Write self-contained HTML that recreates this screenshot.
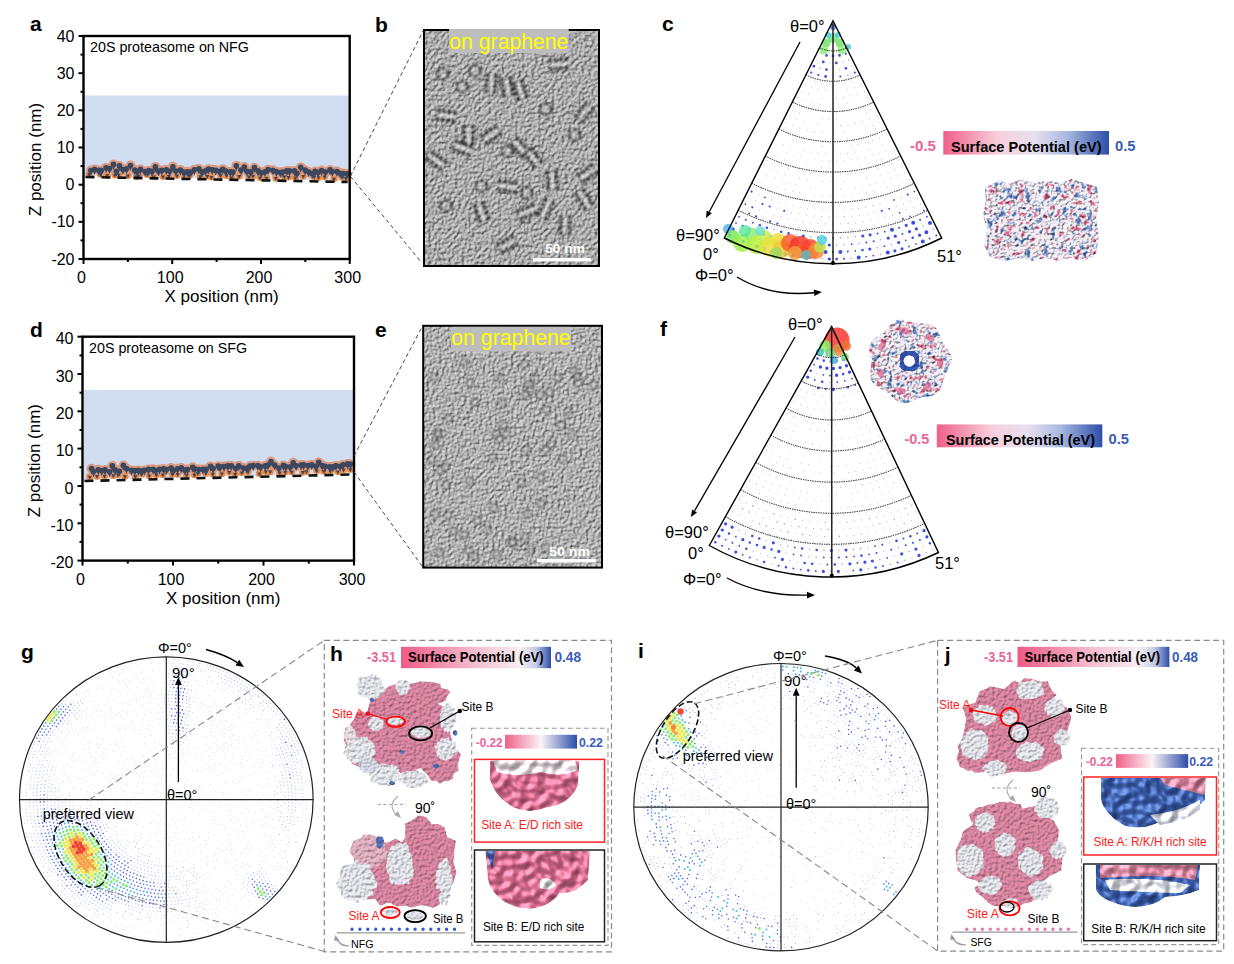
<!DOCTYPE html><html><head><meta charset="utf-8"><style>
html,body{margin:0;padding:0;background:#fff;}
svg{display:block;}
text{font-family:"Liberation Sans",sans-serif;}
</style></head><body>
<svg width="1234" height="964" viewBox="0 0 1234 964">
<defs><filter id="pblur" x="-10%" y="-10%" width="120%" height="120%"><feGaussianBlur stdDeviation="0.9"/></filter><filter id="nb" x="0" y="0" width="100%" height="100%" filterUnits="objectBoundingBox" color-interpolation-filters="sRGB">
<feTurbulence type="fractalNoise" baseFrequency="0.3" numOctaves="2" seed="5" result="n"/>
<feDiffuseLighting in="n" surfaceScale="1.7" diffuseConstant="1" lighting-color="#ffffff" result="l"><feDistantLight azimuth="225" elevation="55"/></feDiffuseLighting>
<feComponentTransfer in="l"><feFuncR type="linear" slope="0.84" intercept="0.0"/><feFuncG type="linear" slope="0.84" intercept="0.0"/><feFuncB type="linear" slope="0.84" intercept="0.0"/></feComponentTransfer>
</filter><filter id="ne" x="0" y="0" width="100%" height="100%" filterUnits="objectBoundingBox" color-interpolation-filters="sRGB">
<feTurbulence type="fractalNoise" baseFrequency="0.32" numOctaves="2" seed="9" result="n"/>
<feDiffuseLighting in="n" surfaceScale="1.6" diffuseConstant="1" lighting-color="#ffffff" result="l"><feDistantLight azimuth="225" elevation="55"/></feDiffuseLighting>
<feComponentTransfer in="l"><feFuncR type="linear" slope="0.86" intercept="0.0"/><feFuncG type="linear" slope="0.86" intercept="0.0"/><feFuncB type="linear" slope="0.86" intercept="0.0"/></feComponentTransfer>
</filter><linearGradient id="cbg1" x1="0" x2="1" y1="0" y2="0"><stop offset="0" stop-color="#ef5f8a"/><stop offset="0.33" stop-color="#f8cfdc"/><stop offset="0.55" stop-color="#e8e0ee"/><stop offset="0.75" stop-color="#a8b8e0"/><stop offset="1" stop-color="#2d4ea8"/></linearGradient><linearGradient id="cbg2" x1="0" x2="1" y1="0" y2="0"><stop offset="0" stop-color="#ef5f8a"/><stop offset="0.33" stop-color="#f8cfdc"/><stop offset="0.55" stop-color="#e8e0ee"/><stop offset="0.75" stop-color="#a8b8e0"/><stop offset="1" stop-color="#2d4ea8"/></linearGradient><filter id="tex" x="-5%" y="-5%" width="110%" height="110%" color-interpolation-filters="sRGB">
<feTurbulence type="fractalNoise" baseFrequency="0.4" numOctaves="2" seed="4" result="n"/>
<feColorMatrix in="n" type="matrix" values="0.75 0 0 0 0.56  0.75 0 0 0 0.56  0.75 0 0 0 0.56  0 0 0 0 1" result="g"/>
<feBlend in="SourceGraphic" in2="g" mode="multiply" result="m"/>
<feComposite in="m" in2="SourceGraphic" operator="in"/>
</filter><filter id="texsoft" x="-5%" y="-5%" width="110%" height="110%" color-interpolation-filters="sRGB">
<feTurbulence type="fractalNoise" baseFrequency="0.09" numOctaves="3" seed="8" result="n"/>
<feColorMatrix in="n" type="matrix" values="0.6 0 0 0 0.68  0.6 0 0 0 0.68  0.6 0 0 0 0.68  0 0 0 0 1" result="g"/>
<feBlend in="SourceGraphic" in2="g" mode="multiply" result="m"/>
<feComposite in="m" in2="SourceGraphic" operator="in"/>
</filter><filter id="speck" x="-5%" y="-5%" width="110%" height="110%" color-interpolation-filters="sRGB">
<feTurbulence type="fractalNoise" baseFrequency="0.16" numOctaves="2" seed="2" result="n"/>
<feColorMatrix in="n" type="matrix" values="1 0 0 0 0  1 0 0 0 0  1 0 0 0 0  0 0 0 0 1" result="g"/>
<feComponentTransfer in="g" result="c">
<feFuncR type="table" tableValues="0.3 0.3 0.32 0.45 0.88 0.98 0.97 0.9 0.78 0.6 0.5"/>
<feFuncG type="table" tableValues="0.35 0.35 0.42 0.58 0.9 0.97 0.9 0.55 0.32 0.25 0.2"/>
<feFuncB type="table" tableValues="0.6 0.6 0.68 0.82 0.96 0.99 0.94 0.66 0.48 0.38 0.3"/>
</feComponentTransfer>
<feTurbulence type="fractalNoise" baseFrequency="0.35" numOctaves="2" seed="9" result="n2"/>
<feDiffuseLighting in="n2" surfaceScale="2" diffuseConstant="1.25" lighting-color="#fff" result="sh"><feDistantLight azimuth="235" elevation="55"/></feDiffuseLighting>
<feBlend in="c" in2="sh" mode="multiply" result="m"/>
<feComposite in="m" in2="SourceGraphic" operator="in"/>
</filter><filter id="gloss" x="-5%" y="-5%" width="110%" height="110%" color-interpolation-filters="sRGB">
<feTurbulence type="fractalNoise" baseFrequency="0.12" numOctaves="1" seed="3" result="n"/>
<feDiffuseLighting in="n" surfaceScale="2.6" diffuseConstant="1.15" lighting-color="#fff" result="d"><feDistantLight azimuth="235" elevation="55"/></feDiffuseLighting>
<feSpecularLighting in="n" surfaceScale="2.6" specularConstant="0.3" specularExponent="30" lighting-color="#fff" result="sp"><feDistantLight azimuth="235" elevation="55"/></feSpecularLighting>
<feBlend in="SourceGraphic" in2="d" mode="multiply" result="m"/>
<feComposite in="sp" in2="m" operator="arithmetic" k1="0" k2="1" k3="1" k4="0" result="s"/>
<feComposite in="s" in2="SourceGraphic" operator="in"/>
</filter><filter id="bump" x="-5%" y="-5%" width="110%" height="110%" color-interpolation-filters="sRGB">
<feTurbulence type="fractalNoise" baseFrequency="0.33" numOctaves="2" seed="6" result="n"/>
<feDiffuseLighting in="n" surfaceScale="1.0" diffuseConstant="1.15" lighting-color="#fff" result="d"><feDistantLight azimuth="235" elevation="55"/></feDiffuseLighting>
<feBlend in="SourceGraphic" in2="d" mode="multiply" result="m"/>
<feComposite in="m" in2="SourceGraphic" operator="in"/>
</filter><linearGradient id="cbg3" x1="0" x2="1" y1="0" y2="0"><stop offset="0" stop-color="#ee5a86"/><stop offset="0.5" stop-color="#f5bfd0"/><stop offset="0.8" stop-color="#f6f0f4"/><stop offset="0.9" stop-color="#c4cce6"/><stop offset="1" stop-color="#2c4ea8"/></linearGradient><linearGradient id="cbg4" x1="0" x2="1" y1="0" y2="0"><stop offset="0" stop-color="#ef5f88"/><stop offset="0.5" stop-color="#fbf4f7"/><stop offset="1" stop-color="#2c4ea8"/></linearGradient><linearGradient id="cbg5" x1="0" x2="1" y1="0" y2="0"><stop offset="0" stop-color="#ee5a86"/><stop offset="0.5" stop-color="#f5bfd0"/><stop offset="0.8" stop-color="#f6f0f4"/><stop offset="0.9" stop-color="#c4cce6"/><stop offset="1" stop-color="#2c4ea8"/></linearGradient><linearGradient id="cbg6" x1="0" x2="1" y1="0" y2="0"><stop offset="0" stop-color="#ef5f88"/><stop offset="0.5" stop-color="#fbf4f7"/><stop offset="1" stop-color="#2c4ea8"/></linearGradient></defs>
<path d="M84.5,95.5 H348.7 V181 L84.5,176 Z" fill="#d1ddf0"/><circle cx="89.2" cy="174.0" r="3.6" fill="#f08a40"/><circle cx="100.5" cy="174.2" r="3.6" fill="#f08a40"/><circle cx="107.2" cy="175.3" r="3.6" fill="#f08a40"/><circle cx="114.9" cy="174.8" r="3.6" fill="#f08a40"/><circle cx="118.7" cy="174.6" r="3.6" fill="#f08a40"/><circle cx="128.0" cy="175.5" r="3.6" fill="#f08a40"/><circle cx="136.5" cy="176.3" r="3.6" fill="#f08a40"/><circle cx="139.0" cy="175.5" r="3.6" fill="#f08a40"/><circle cx="147.3" cy="174.3" r="3.6" fill="#f08a40"/><circle cx="153.7" cy="176.5" r="3.6" fill="#f08a40"/><circle cx="163.0" cy="176.5" r="3.6" fill="#f08a40"/><circle cx="168.9" cy="176.0" r="3.6" fill="#f08a40"/><circle cx="177.0" cy="175.5" r="3.6" fill="#f08a40"/><circle cx="184.1" cy="175.2" r="3.6" fill="#f08a40"/><circle cx="189.2" cy="175.4" r="3.6" fill="#f08a40"/><circle cx="200.3" cy="176.2" r="3.6" fill="#f08a40"/><circle cx="207.3" cy="176.0" r="3.6" fill="#f08a40"/><circle cx="211.4" cy="176.9" r="3.6" fill="#f08a40"/><circle cx="220.6" cy="175.1" r="3.6" fill="#f08a40"/><circle cx="226.5" cy="175.3" r="3.6" fill="#f08a40"/><circle cx="231.5" cy="177.4" r="3.6" fill="#f08a40"/><circle cx="239.2" cy="175.9" r="3.6" fill="#f08a40"/><circle cx="249.0" cy="176.4" r="3.6" fill="#f08a40"/><circle cx="252.9" cy="175.8" r="3.6" fill="#f08a40"/><circle cx="260.1" cy="177.4" r="3.6" fill="#f08a40"/><circle cx="266.5" cy="177.9" r="3.6" fill="#f08a40"/><circle cx="275.9" cy="178.1" r="3.6" fill="#f08a40"/><circle cx="284.3" cy="176.5" r="3.6" fill="#f08a40"/><circle cx="288.5" cy="177.0" r="3.6" fill="#f08a40"/><circle cx="295.4" cy="177.5" r="3.6" fill="#f08a40"/><circle cx="303.3" cy="176.0" r="3.6" fill="#f08a40"/><circle cx="314.1" cy="176.8" r="3.6" fill="#f08a40"/><circle cx="318.5" cy="177.3" r="3.6" fill="#f08a40"/><circle cx="324.6" cy="176.4" r="3.6" fill="#f08a40"/><circle cx="334.0" cy="178.7" r="3.6" fill="#f08a40"/><circle cx="342.1" cy="176.7" r="3.6" fill="#f08a40"/><circle cx="345.9" cy="178.0" r="3.6" fill="#f08a40"/><circle cx="90.8" cy="170.5" r="4.9" fill="#dc9a7e"/><circle cx="94.6" cy="169.4" r="4.9" fill="#dc9a7e"/><circle cx="98.9" cy="170.4" r="4.9" fill="#dc9a7e"/><circle cx="101.3" cy="170.6" r="4.9" fill="#dc9a7e"/><circle cx="106.1" cy="167.8" r="4.9" fill="#dc9a7e"/><circle cx="109.6" cy="168.6" r="4.9" fill="#dc9a7e"/><circle cx="113.5" cy="164.4" r="4.9" fill="#dc9a7e"/><circle cx="116.4" cy="171.2" r="4.9" fill="#dc9a7e"/><circle cx="119.4" cy="165.9" r="4.9" fill="#dc9a7e"/><circle cx="122.9" cy="169.5" r="4.9" fill="#dc9a7e"/><circle cx="126.5" cy="168.8" r="4.9" fill="#dc9a7e"/><circle cx="130.5" cy="165.5" r="4.9" fill="#dc9a7e"/><circle cx="134.7" cy="170.0" r="4.9" fill="#dc9a7e"/><circle cx="137.1" cy="171.6" r="4.9" fill="#dc9a7e"/><circle cx="140.5" cy="169.3" r="4.9" fill="#dc9a7e"/><circle cx="145.1" cy="171.5" r="4.9" fill="#dc9a7e"/><circle cx="148.9" cy="170.6" r="4.9" fill="#dc9a7e"/><circle cx="152.0" cy="171.4" r="4.9" fill="#dc9a7e"/><circle cx="155.4" cy="166.9" r="4.9" fill="#dc9a7e"/><circle cx="158.5" cy="171.1" r="4.9" fill="#dc9a7e"/><circle cx="161.9" cy="170.3" r="4.9" fill="#dc9a7e"/><circle cx="166.3" cy="169.7" r="4.9" fill="#dc9a7e"/><circle cx="169.6" cy="171.2" r="4.9" fill="#dc9a7e"/><circle cx="172.9" cy="166.7" r="4.9" fill="#dc9a7e"/><circle cx="175.9" cy="171.0" r="4.9" fill="#dc9a7e"/><circle cx="180.4" cy="170.0" r="4.9" fill="#dc9a7e"/><circle cx="183.8" cy="172.1" r="4.9" fill="#dc9a7e"/><circle cx="187.4" cy="171.7" r="4.9" fill="#dc9a7e"/><circle cx="190.9" cy="172.0" r="4.9" fill="#dc9a7e"/><circle cx="194.3" cy="169.7" r="4.9" fill="#dc9a7e"/><circle cx="198.8" cy="168.8" r="4.9" fill="#dc9a7e"/><circle cx="202.1" cy="171.9" r="4.9" fill="#dc9a7e"/><circle cx="205.6" cy="170.7" r="4.9" fill="#dc9a7e"/><circle cx="208.5" cy="169.1" r="4.9" fill="#dc9a7e"/><circle cx="212.3" cy="169.7" r="4.9" fill="#dc9a7e"/><circle cx="215.7" cy="170.2" r="4.9" fill="#dc9a7e"/><circle cx="219.3" cy="171.2" r="4.9" fill="#dc9a7e"/><circle cx="222.7" cy="169.2" r="4.9" fill="#dc9a7e"/><circle cx="225.8" cy="171.1" r="4.9" fill="#dc9a7e"/><circle cx="230.4" cy="171.9" r="4.9" fill="#dc9a7e"/><circle cx="233.0" cy="172.1" r="4.9" fill="#dc9a7e"/><circle cx="236.3" cy="165.8" r="4.9" fill="#dc9a7e"/><circle cx="241.0" cy="170.1" r="4.9" fill="#dc9a7e"/><circle cx="244.3" cy="167.0" r="4.9" fill="#dc9a7e"/><circle cx="247.1" cy="171.2" r="4.9" fill="#dc9a7e"/><circle cx="250.8" cy="171.9" r="4.9" fill="#dc9a7e"/><circle cx="254.4" cy="167.6" r="4.9" fill="#dc9a7e"/><circle cx="258.1" cy="170.9" r="4.9" fill="#dc9a7e"/><circle cx="261.2" cy="172.7" r="4.9" fill="#dc9a7e"/><circle cx="264.9" cy="171.7" r="4.9" fill="#dc9a7e"/><circle cx="268.1" cy="169.6" r="4.9" fill="#dc9a7e"/><circle cx="272.9" cy="170.2" r="4.9" fill="#dc9a7e"/><circle cx="276.4" cy="171.6" r="4.9" fill="#dc9a7e"/><circle cx="280.4" cy="172.5" r="4.9" fill="#dc9a7e"/><circle cx="282.7" cy="172.0" r="4.9" fill="#dc9a7e"/><circle cx="286.8" cy="170.9" r="4.9" fill="#dc9a7e"/><circle cx="289.5" cy="170.9" r="4.9" fill="#dc9a7e"/><circle cx="294.5" cy="170.9" r="4.9" fill="#dc9a7e"/><circle cx="297.0" cy="173.2" r="4.9" fill="#dc9a7e"/><circle cx="300.7" cy="167.3" r="4.9" fill="#dc9a7e"/><circle cx="305.1" cy="170.1" r="4.9" fill="#dc9a7e"/><circle cx="308.8" cy="172.0" r="4.9" fill="#dc9a7e"/><circle cx="312.2" cy="173.5" r="4.9" fill="#dc9a7e"/><circle cx="315.1" cy="171.4" r="4.9" fill="#dc9a7e"/><circle cx="318.1" cy="172.5" r="4.9" fill="#dc9a7e"/><circle cx="321.6" cy="170.5" r="4.9" fill="#dc9a7e"/><circle cx="325.4" cy="172.0" r="4.9" fill="#dc9a7e"/><circle cx="330.0" cy="169.9" r="4.9" fill="#dc9a7e"/><circle cx="332.3" cy="171.5" r="4.9" fill="#dc9a7e"/><circle cx="336.9" cy="171.5" r="4.9" fill="#dc9a7e"/><circle cx="340.2" cy="173.3" r="4.9" fill="#dc9a7e"/><circle cx="343.2" cy="173.5" r="4.9" fill="#dc9a7e"/><circle cx="347.0" cy="173.9" r="4.9" fill="#dc9a7e"/><path d="M87.2,173.0 L89.2,177.0 L91.2,173.0Z" fill="#3b475f"/><path d="M98.5,173.2 L100.5,177.2 L102.5,173.2Z" fill="#3b475f"/><path d="M105.2,174.3 L107.2,178.3 L109.2,174.3Z" fill="#3b475f"/><path d="M112.9,173.8 L114.9,177.8 L116.9,173.8Z" fill="#3b475f"/><path d="M116.7,173.6 L118.7,177.6 L120.7,173.6Z" fill="#3b475f"/><path d="M126.0,174.5 L128.0,178.5 L130.0,174.5Z" fill="#3b475f"/><path d="M134.5,175.3 L136.5,179.3 L138.5,175.3Z" fill="#3b475f"/><path d="M137.0,174.5 L139.0,178.5 L141.0,174.5Z" fill="#3b475f"/><path d="M145.3,173.3 L147.3,177.3 L149.3,173.3Z" fill="#3b475f"/><path d="M151.7,175.5 L153.7,179.5 L155.7,175.5Z" fill="#3b475f"/><path d="M161.0,175.5 L163.0,179.5 L165.0,175.5Z" fill="#3b475f"/><path d="M166.9,175.0 L168.9,179.0 L170.9,175.0Z" fill="#3b475f"/><path d="M175.0,174.5 L177.0,178.5 L179.0,174.5Z" fill="#3b475f"/><path d="M182.1,174.2 L184.1,178.2 L186.1,174.2Z" fill="#3b475f"/><path d="M187.2,174.4 L189.2,178.4 L191.2,174.4Z" fill="#3b475f"/><path d="M198.3,175.2 L200.3,179.2 L202.3,175.2Z" fill="#3b475f"/><path d="M205.3,175.0 L207.3,179.0 L209.3,175.0Z" fill="#3b475f"/><path d="M209.4,175.9 L211.4,179.9 L213.4,175.9Z" fill="#3b475f"/><path d="M218.6,174.1 L220.6,178.1 L222.6,174.1Z" fill="#3b475f"/><path d="M224.5,174.3 L226.5,178.3 L228.5,174.3Z" fill="#3b475f"/><path d="M229.5,176.4 L231.5,180.4 L233.5,176.4Z" fill="#3b475f"/><path d="M237.2,174.9 L239.2,178.9 L241.2,174.9Z" fill="#3b475f"/><path d="M247.0,175.4 L249.0,179.4 L251.0,175.4Z" fill="#3b475f"/><path d="M250.9,174.8 L252.9,178.8 L254.9,174.8Z" fill="#3b475f"/><path d="M258.1,176.4 L260.1,180.4 L262.1,176.4Z" fill="#3b475f"/><path d="M264.5,176.9 L266.5,180.9 L268.5,176.9Z" fill="#3b475f"/><path d="M273.9,177.1 L275.9,181.1 L277.9,177.1Z" fill="#3b475f"/><path d="M282.3,175.5 L284.3,179.5 L286.3,175.5Z" fill="#3b475f"/><path d="M286.5,176.0 L288.5,180.0 L290.5,176.0Z" fill="#3b475f"/><path d="M293.4,176.5 L295.4,180.5 L297.4,176.5Z" fill="#3b475f"/><path d="M301.3,175.0 L303.3,179.0 L305.3,175.0Z" fill="#3b475f"/><path d="M312.1,175.8 L314.1,179.8 L316.1,175.8Z" fill="#3b475f"/><path d="M316.5,176.3 L318.5,180.3 L320.5,176.3Z" fill="#3b475f"/><path d="M322.6,175.4 L324.6,179.4 L326.6,175.4Z" fill="#3b475f"/><path d="M332.0,177.7 L334.0,181.7 L336.0,177.7Z" fill="#3b475f"/><path d="M340.1,175.7 L342.1,179.7 L344.1,175.7Z" fill="#3b475f"/><path d="M343.9,177.0 L345.9,181.0 L347.9,177.0Z" fill="#3b475f"/><circle cx="90.8" cy="170.5" r="2.8" fill="#3b475f"/><path d="M89.3,172.3 L90.8,176.0 L92.3,172.3Z" fill="#3b475f"/><circle cx="94.6" cy="169.4" r="2.8" fill="#3b475f"/><path d="M93.1,171.2 L94.6,174.9 L96.1,171.2Z" fill="#3b475f"/><circle cx="98.9" cy="170.4" r="2.8" fill="#3b475f"/><path d="M97.4,172.2 L98.9,175.9 L100.4,172.2Z" fill="#3b475f"/><circle cx="101.3" cy="170.6" r="2.8" fill="#3b475f"/><path d="M99.8,172.4 L101.3,176.1 L102.8,172.4Z" fill="#3b475f"/><circle cx="106.1" cy="167.8" r="2.8" fill="#3b475f"/><path d="M104.6,169.6 L106.1,173.3 L107.6,169.6Z" fill="#3b475f"/><circle cx="109.6" cy="168.6" r="2.8" fill="#3b475f"/><path d="M108.1,170.4 L109.6,174.1 L111.1,170.4Z" fill="#3b475f"/><circle cx="113.5" cy="164.4" r="2.8" fill="#3b475f"/><path d="M112.0,166.2 L113.5,169.9 L115.0,166.2Z" fill="#3b475f"/><circle cx="116.4" cy="171.2" r="2.8" fill="#3b475f"/><path d="M114.9,173.0 L116.4,176.7 L117.9,173.0Z" fill="#3b475f"/><circle cx="119.4" cy="165.9" r="2.8" fill="#3b475f"/><path d="M117.9,167.7 L119.4,171.4 L120.9,167.7Z" fill="#3b475f"/><circle cx="122.9" cy="169.5" r="2.8" fill="#3b475f"/><path d="M121.4,171.3 L122.9,175.0 L124.4,171.3Z" fill="#3b475f"/><circle cx="126.5" cy="168.8" r="2.8" fill="#3b475f"/><path d="M125.0,170.6 L126.5,174.3 L128.0,170.6Z" fill="#3b475f"/><circle cx="130.5" cy="165.5" r="2.8" fill="#3b475f"/><path d="M129.0,167.3 L130.5,171.0 L132.0,167.3Z" fill="#3b475f"/><circle cx="134.7" cy="170.0" r="2.8" fill="#3b475f"/><path d="M133.2,171.8 L134.7,175.5 L136.2,171.8Z" fill="#3b475f"/><circle cx="137.1" cy="171.6" r="2.8" fill="#3b475f"/><path d="M135.6,173.4 L137.1,177.1 L138.6,173.4Z" fill="#3b475f"/><circle cx="140.5" cy="169.3" r="2.8" fill="#3b475f"/><path d="M139.0,171.1 L140.5,174.8 L142.0,171.1Z" fill="#3b475f"/><circle cx="145.1" cy="171.5" r="2.8" fill="#3b475f"/><path d="M143.6,173.3 L145.1,177.0 L146.6,173.3Z" fill="#3b475f"/><circle cx="148.9" cy="170.6" r="2.8" fill="#3b475f"/><path d="M147.4,172.4 L148.9,176.1 L150.4,172.4Z" fill="#3b475f"/><circle cx="152.0" cy="171.4" r="2.8" fill="#3b475f"/><path d="M150.5,173.2 L152.0,176.9 L153.5,173.2Z" fill="#3b475f"/><circle cx="155.4" cy="166.9" r="2.8" fill="#3b475f"/><path d="M153.9,168.7 L155.4,172.4 L156.9,168.7Z" fill="#3b475f"/><circle cx="158.5" cy="171.1" r="2.8" fill="#3b475f"/><path d="M157.0,172.9 L158.5,176.6 L160.0,172.9Z" fill="#3b475f"/><circle cx="161.9" cy="170.3" r="2.8" fill="#3b475f"/><path d="M160.4,172.1 L161.9,175.8 L163.4,172.1Z" fill="#3b475f"/><circle cx="166.3" cy="169.7" r="2.8" fill="#3b475f"/><path d="M164.8,171.5 L166.3,175.2 L167.8,171.5Z" fill="#3b475f"/><circle cx="169.6" cy="171.2" r="2.8" fill="#3b475f"/><path d="M168.1,173.0 L169.6,176.7 L171.1,173.0Z" fill="#3b475f"/><circle cx="172.9" cy="166.7" r="2.8" fill="#3b475f"/><path d="M171.4,168.5 L172.9,172.2 L174.4,168.5Z" fill="#3b475f"/><circle cx="175.9" cy="171.0" r="2.8" fill="#3b475f"/><path d="M174.4,172.8 L175.9,176.5 L177.4,172.8Z" fill="#3b475f"/><circle cx="180.4" cy="170.0" r="2.8" fill="#3b475f"/><path d="M178.9,171.8 L180.4,175.5 L181.9,171.8Z" fill="#3b475f"/><circle cx="183.8" cy="172.1" r="2.8" fill="#3b475f"/><path d="M182.3,173.9 L183.8,177.6 L185.3,173.9Z" fill="#3b475f"/><circle cx="187.4" cy="171.7" r="2.8" fill="#3b475f"/><path d="M185.9,173.5 L187.4,177.2 L188.9,173.5Z" fill="#3b475f"/><circle cx="190.9" cy="172.0" r="2.8" fill="#3b475f"/><path d="M189.4,173.8 L190.9,177.5 L192.4,173.8Z" fill="#3b475f"/><circle cx="194.3" cy="169.7" r="2.8" fill="#3b475f"/><path d="M192.8,171.5 L194.3,175.2 L195.8,171.5Z" fill="#3b475f"/><circle cx="198.8" cy="168.8" r="2.8" fill="#3b475f"/><path d="M197.3,170.6 L198.8,174.3 L200.3,170.6Z" fill="#3b475f"/><circle cx="202.1" cy="171.9" r="2.8" fill="#3b475f"/><path d="M200.6,173.7 L202.1,177.4 L203.6,173.7Z" fill="#3b475f"/><circle cx="205.6" cy="170.7" r="2.8" fill="#3b475f"/><path d="M204.1,172.5 L205.6,176.2 L207.1,172.5Z" fill="#3b475f"/><circle cx="208.5" cy="169.1" r="2.8" fill="#3b475f"/><path d="M207.0,170.9 L208.5,174.6 L210.0,170.9Z" fill="#3b475f"/><circle cx="212.3" cy="169.7" r="2.8" fill="#3b475f"/><path d="M210.8,171.5 L212.3,175.2 L213.8,171.5Z" fill="#3b475f"/><circle cx="215.7" cy="170.2" r="2.8" fill="#3b475f"/><path d="M214.2,172.0 L215.7,175.7 L217.2,172.0Z" fill="#3b475f"/><circle cx="219.3" cy="171.2" r="2.8" fill="#3b475f"/><path d="M217.8,173.0 L219.3,176.7 L220.8,173.0Z" fill="#3b475f"/><circle cx="222.7" cy="169.2" r="2.8" fill="#3b475f"/><path d="M221.2,171.0 L222.7,174.7 L224.2,171.0Z" fill="#3b475f"/><circle cx="225.8" cy="171.1" r="2.8" fill="#3b475f"/><path d="M224.3,172.9 L225.8,176.6 L227.3,172.9Z" fill="#3b475f"/><circle cx="230.4" cy="171.9" r="2.8" fill="#3b475f"/><path d="M228.9,173.7 L230.4,177.4 L231.9,173.7Z" fill="#3b475f"/><circle cx="233.0" cy="172.1" r="2.8" fill="#3b475f"/><path d="M231.5,173.9 L233.0,177.6 L234.5,173.9Z" fill="#3b475f"/><circle cx="236.3" cy="165.8" r="2.8" fill="#3b475f"/><path d="M234.8,167.6 L236.3,171.3 L237.8,167.6Z" fill="#3b475f"/><circle cx="241.0" cy="170.1" r="2.8" fill="#3b475f"/><path d="M239.5,171.9 L241.0,175.6 L242.5,171.9Z" fill="#3b475f"/><circle cx="244.3" cy="167.0" r="2.8" fill="#3b475f"/><path d="M242.8,168.8 L244.3,172.5 L245.8,168.8Z" fill="#3b475f"/><circle cx="247.1" cy="171.2" r="2.8" fill="#3b475f"/><path d="M245.6,173.0 L247.1,176.7 L248.6,173.0Z" fill="#3b475f"/><circle cx="250.8" cy="171.9" r="2.8" fill="#3b475f"/><path d="M249.3,173.7 L250.8,177.4 L252.3,173.7Z" fill="#3b475f"/><circle cx="254.4" cy="167.6" r="2.8" fill="#3b475f"/><path d="M252.9,169.4 L254.4,173.1 L255.9,169.4Z" fill="#3b475f"/><circle cx="258.1" cy="170.9" r="2.8" fill="#3b475f"/><path d="M256.6,172.7 L258.1,176.4 L259.6,172.7Z" fill="#3b475f"/><circle cx="261.2" cy="172.7" r="2.8" fill="#3b475f"/><path d="M259.7,174.5 L261.2,178.2 L262.7,174.5Z" fill="#3b475f"/><circle cx="264.9" cy="171.7" r="2.8" fill="#3b475f"/><path d="M263.4,173.5 L264.9,177.2 L266.4,173.5Z" fill="#3b475f"/><circle cx="268.1" cy="169.6" r="2.8" fill="#3b475f"/><path d="M266.6,171.4 L268.1,175.1 L269.6,171.4Z" fill="#3b475f"/><circle cx="272.9" cy="170.2" r="2.8" fill="#3b475f"/><path d="M271.4,172.0 L272.9,175.7 L274.4,172.0Z" fill="#3b475f"/><circle cx="276.4" cy="171.6" r="2.8" fill="#3b475f"/><path d="M274.9,173.4 L276.4,177.1 L277.9,173.4Z" fill="#3b475f"/><circle cx="280.4" cy="172.5" r="2.8" fill="#3b475f"/><path d="M278.9,174.3 L280.4,178.0 L281.9,174.3Z" fill="#3b475f"/><circle cx="282.7" cy="172.0" r="2.8" fill="#3b475f"/><path d="M281.2,173.8 L282.7,177.5 L284.2,173.8Z" fill="#3b475f"/><circle cx="286.8" cy="170.9" r="2.8" fill="#3b475f"/><path d="M285.3,172.7 L286.8,176.4 L288.3,172.7Z" fill="#3b475f"/><circle cx="289.5" cy="170.9" r="2.8" fill="#3b475f"/><path d="M288.0,172.7 L289.5,176.4 L291.0,172.7Z" fill="#3b475f"/><circle cx="294.5" cy="170.9" r="2.8" fill="#3b475f"/><path d="M293.0,172.7 L294.5,176.4 L296.0,172.7Z" fill="#3b475f"/><circle cx="297.0" cy="173.2" r="2.8" fill="#3b475f"/><path d="M295.5,175.0 L297.0,178.7 L298.5,175.0Z" fill="#3b475f"/><circle cx="300.7" cy="167.3" r="2.8" fill="#3b475f"/><path d="M299.2,169.1 L300.7,172.8 L302.2,169.1Z" fill="#3b475f"/><circle cx="305.1" cy="170.1" r="2.8" fill="#3b475f"/><path d="M303.6,171.9 L305.1,175.6 L306.6,171.9Z" fill="#3b475f"/><circle cx="308.8" cy="172.0" r="2.8" fill="#3b475f"/><path d="M307.3,173.8 L308.8,177.5 L310.3,173.8Z" fill="#3b475f"/><circle cx="312.2" cy="173.5" r="2.8" fill="#3b475f"/><path d="M310.7,175.3 L312.2,179.0 L313.7,175.3Z" fill="#3b475f"/><circle cx="315.1" cy="171.4" r="2.8" fill="#3b475f"/><path d="M313.6,173.2 L315.1,176.9 L316.6,173.2Z" fill="#3b475f"/><circle cx="318.1" cy="172.5" r="2.8" fill="#3b475f"/><path d="M316.6,174.3 L318.1,178.0 L319.6,174.3Z" fill="#3b475f"/><circle cx="321.6" cy="170.5" r="2.8" fill="#3b475f"/><path d="M320.1,172.3 L321.6,176.0 L323.1,172.3Z" fill="#3b475f"/><circle cx="325.4" cy="172.0" r="2.8" fill="#3b475f"/><path d="M323.9,173.8 L325.4,177.5 L326.9,173.8Z" fill="#3b475f"/><circle cx="330.0" cy="169.9" r="2.8" fill="#3b475f"/><path d="M328.5,171.7 L330.0,175.4 L331.5,171.7Z" fill="#3b475f"/><circle cx="332.3" cy="171.5" r="2.8" fill="#3b475f"/><path d="M330.8,173.3 L332.3,177.0 L333.8,173.3Z" fill="#3b475f"/><circle cx="336.9" cy="171.5" r="2.8" fill="#3b475f"/><path d="M335.4,173.3 L336.9,177.0 L338.4,173.3Z" fill="#3b475f"/><circle cx="340.2" cy="173.3" r="2.8" fill="#3b475f"/><path d="M338.7,175.1 L340.2,178.8 L341.7,175.1Z" fill="#3b475f"/><circle cx="343.2" cy="173.5" r="2.8" fill="#3b475f"/><path d="M341.7,175.3 L343.2,179.0 L344.7,175.3Z" fill="#3b475f"/><circle cx="347.0" cy="173.9" r="2.8" fill="#3b475f"/><path d="M345.5,175.7 L347.0,179.4 L348.5,175.7Z" fill="#3b475f"/><line x1="85.5" y1="177" x2="347.7" y2="182" stroke="#111" stroke-width="2.6" stroke-dasharray="9,7"/><rect x="83.5" y="36" width="266.2" height="223" fill="none" stroke="#000" stroke-width="2.4"/><line x1="78.5" y1="259.0" x2="83.5" y2="259.0" stroke="#000" stroke-width="2"/><text x="74.5" y="264.5" font-size="16" text-anchor="end" fill="#000" font-weight="normal" >-20</text><line x1="80.5" y1="240.4" x2="83.5" y2="240.4" stroke="#000" stroke-width="2"/><line x1="78.5" y1="221.8" x2="83.5" y2="221.8" stroke="#000" stroke-width="2"/><text x="74.5" y="227.3" font-size="16" text-anchor="end" fill="#000" font-weight="normal" >-10</text><line x1="80.5" y1="203.2" x2="83.5" y2="203.2" stroke="#000" stroke-width="2"/><line x1="78.5" y1="184.7" x2="83.5" y2="184.7" stroke="#000" stroke-width="2"/><text x="74.5" y="190.2" font-size="16" text-anchor="end" fill="#000" font-weight="normal" >0</text><line x1="80.5" y1="166.1" x2="83.5" y2="166.1" stroke="#000" stroke-width="2"/><line x1="78.5" y1="147.5" x2="83.5" y2="147.5" stroke="#000" stroke-width="2"/><text x="74.5" y="153.0" font-size="16" text-anchor="end" fill="#000" font-weight="normal" >10</text><line x1="80.5" y1="128.9" x2="83.5" y2="128.9" stroke="#000" stroke-width="2"/><line x1="78.5" y1="110.3" x2="83.5" y2="110.3" stroke="#000" stroke-width="2"/><text x="74.5" y="115.8" font-size="16" text-anchor="end" fill="#000" font-weight="normal" >20</text><line x1="80.5" y1="91.8" x2="83.5" y2="91.8" stroke="#000" stroke-width="2"/><line x1="78.5" y1="73.2" x2="83.5" y2="73.2" stroke="#000" stroke-width="2"/><text x="74.5" y="78.7" font-size="16" text-anchor="end" fill="#000" font-weight="normal" >30</text><line x1="80.5" y1="54.6" x2="83.5" y2="54.6" stroke="#000" stroke-width="2"/><line x1="78.5" y1="36.0" x2="83.5" y2="36.0" stroke="#000" stroke-width="2"/><text x="74.5" y="41.5" font-size="16" text-anchor="end" fill="#000" font-weight="normal" >40</text><line x1="83.5" y1="259" x2="83.5" y2="264" stroke="#000" stroke-width="2"/><text x="81.5" y="283.0" font-size="16" text-anchor="middle" fill="#000" font-weight="normal" >0</text><line x1="127.9" y1="259" x2="127.9" y2="262" stroke="#000" stroke-width="2"/><line x1="172.2" y1="259" x2="172.2" y2="264" stroke="#000" stroke-width="2"/><text x="170.2" y="283.0" font-size="16" text-anchor="middle" fill="#000" font-weight="normal" >100</text><line x1="216.6" y1="259" x2="216.6" y2="262" stroke="#000" stroke-width="2"/><line x1="261.0" y1="259" x2="261.0" y2="264" stroke="#000" stroke-width="2"/><text x="259.0" y="283.0" font-size="16" text-anchor="middle" fill="#000" font-weight="normal" >200</text><line x1="305.3" y1="259" x2="305.3" y2="262" stroke="#000" stroke-width="2"/><line x1="349.7" y1="259" x2="349.7" y2="264" stroke="#000" stroke-width="2"/><text x="347.7" y="283.0" font-size="16" text-anchor="middle" fill="#000" font-weight="normal" >300</text><text x="221.6" y="302.0" font-size="17" text-anchor="middle" fill="#000" font-weight="normal" >X position (nm)</text><text x="0" y="0" font-size="17" text-anchor="middle" transform="translate(40.5,159.5) rotate(-90)">Z position (nm)</text><text x="90.0" y="52.0" font-size="14.3" text-anchor="start" fill="#000" font-weight="normal" >20S proteasome on NFG</text><text x="30.0" y="31.0" font-size="21" text-anchor="start" fill="#000" font-weight="bold" >a</text><path d="M83.5,390.1 H353 V473.5 L83.5,480 Z" fill="#d1ddf0"/><circle cx="89.8" cy="476.7" r="3.6" fill="#f08a40"/><circle cx="97.0" cy="476.1" r="3.6" fill="#f08a40"/><circle cx="104.6" cy="475.7" r="3.6" fill="#f08a40"/><circle cx="113.3" cy="475.3" r="3.6" fill="#f08a40"/><circle cx="117.9" cy="474.5" r="3.6" fill="#f08a40"/><circle cx="124.9" cy="476.2" r="3.6" fill="#f08a40"/><circle cx="135.4" cy="476.2" r="3.6" fill="#f08a40"/><circle cx="141.8" cy="473.8" r="3.6" fill="#f08a40"/><circle cx="149.1" cy="475.5" r="3.6" fill="#f08a40"/><circle cx="156.4" cy="474.6" r="3.6" fill="#f08a40"/><circle cx="162.9" cy="474.4" r="3.6" fill="#f08a40"/><circle cx="172.2" cy="473.7" r="3.6" fill="#f08a40"/><circle cx="177.6" cy="474.1" r="3.6" fill="#f08a40"/><circle cx="186.6" cy="474.8" r="3.6" fill="#f08a40"/><circle cx="194.5" cy="474.7" r="3.6" fill="#f08a40"/><circle cx="197.9" cy="473.0" r="3.6" fill="#f08a40"/><circle cx="205.9" cy="472.9" r="3.6" fill="#f08a40"/><circle cx="212.8" cy="473.8" r="3.6" fill="#f08a40"/><circle cx="221.8" cy="473.4" r="3.6" fill="#f08a40"/><circle cx="229.3" cy="472.0" r="3.6" fill="#f08a40"/><circle cx="235.1" cy="474.1" r="3.6" fill="#f08a40"/><circle cx="241.8" cy="472.5" r="3.6" fill="#f08a40"/><circle cx="248.1" cy="471.5" r="3.6" fill="#f08a40"/><circle cx="259.4" cy="473.6" r="3.6" fill="#f08a40"/><circle cx="265.8" cy="471.3" r="3.6" fill="#f08a40"/><circle cx="270.2" cy="471.4" r="3.6" fill="#f08a40"/><circle cx="279.6" cy="472.4" r="3.6" fill="#f08a40"/><circle cx="285.4" cy="471.8" r="3.6" fill="#f08a40"/><circle cx="291.7" cy="471.7" r="3.6" fill="#f08a40"/><circle cx="302.8" cy="472.1" r="3.6" fill="#f08a40"/><circle cx="306.3" cy="471.3" r="3.6" fill="#f08a40"/><circle cx="316.8" cy="470.5" r="3.6" fill="#f08a40"/><circle cx="323.8" cy="470.9" r="3.6" fill="#f08a40"/><circle cx="330.4" cy="470.5" r="3.6" fill="#f08a40"/><circle cx="337.9" cy="471.4" r="3.6" fill="#f08a40"/><circle cx="343.5" cy="469.6" r="3.6" fill="#f08a40"/><circle cx="350.3" cy="469.2" r="3.6" fill="#f08a40"/><circle cx="91.5" cy="468.6" r="4.9" fill="#dc9a7e"/><circle cx="93.5" cy="471.7" r="4.9" fill="#dc9a7e"/><circle cx="98.2" cy="469.7" r="4.9" fill="#dc9a7e"/><circle cx="101.7" cy="470.6" r="4.9" fill="#dc9a7e"/><circle cx="105.0" cy="469.9" r="4.9" fill="#dc9a7e"/><circle cx="109.6" cy="471.7" r="4.9" fill="#dc9a7e"/><circle cx="112.3" cy="465.8" r="4.9" fill="#dc9a7e"/><circle cx="115.1" cy="469.9" r="4.9" fill="#dc9a7e"/><circle cx="119.4" cy="471.3" r="4.9" fill="#dc9a7e"/><circle cx="123.3" cy="465.4" r="4.9" fill="#dc9a7e"/><circle cx="126.5" cy="468.5" r="4.9" fill="#dc9a7e"/><circle cx="131.4" cy="470.3" r="4.9" fill="#dc9a7e"/><circle cx="134.8" cy="470.6" r="4.9" fill="#dc9a7e"/><circle cx="138.4" cy="470.4" r="4.9" fill="#dc9a7e"/><circle cx="141.1" cy="471.1" r="4.9" fill="#dc9a7e"/><circle cx="144.3" cy="470.3" r="4.9" fill="#dc9a7e"/><circle cx="148.5" cy="469.4" r="4.9" fill="#dc9a7e"/><circle cx="153.0" cy="469.2" r="4.9" fill="#dc9a7e"/><circle cx="155.5" cy="470.5" r="4.9" fill="#dc9a7e"/><circle cx="159.4" cy="469.3" r="4.9" fill="#dc9a7e"/><circle cx="163.5" cy="468.9" r="4.9" fill="#dc9a7e"/><circle cx="166.3" cy="469.6" r="4.9" fill="#dc9a7e"/><circle cx="171.0" cy="468.0" r="4.9" fill="#dc9a7e"/><circle cx="173.6" cy="470.3" r="4.9" fill="#dc9a7e"/><circle cx="177.5" cy="468.7" r="4.9" fill="#dc9a7e"/><circle cx="181.3" cy="467.9" r="4.9" fill="#dc9a7e"/><circle cx="184.8" cy="470.0" r="4.9" fill="#dc9a7e"/><circle cx="187.6" cy="469.5" r="4.9" fill="#dc9a7e"/><circle cx="192.7" cy="467.2" r="4.9" fill="#dc9a7e"/><circle cx="194.8" cy="468.8" r="4.9" fill="#dc9a7e"/><circle cx="198.8" cy="469.5" r="4.9" fill="#dc9a7e"/><circle cx="202.9" cy="469.3" r="4.9" fill="#dc9a7e"/><circle cx="206.0" cy="469.4" r="4.9" fill="#dc9a7e"/><circle cx="210.5" cy="466.3" r="4.9" fill="#dc9a7e"/><circle cx="213.1" cy="468.5" r="4.9" fill="#dc9a7e"/><circle cx="218.2" cy="466.1" r="4.9" fill="#dc9a7e"/><circle cx="220.1" cy="466.9" r="4.9" fill="#dc9a7e"/><circle cx="224.0" cy="466.5" r="4.9" fill="#dc9a7e"/><circle cx="228.0" cy="465.9" r="4.9" fill="#dc9a7e"/><circle cx="231.2" cy="465.8" r="4.9" fill="#dc9a7e"/><circle cx="235.7" cy="468.2" r="4.9" fill="#dc9a7e"/><circle cx="238.8" cy="465.7" r="4.9" fill="#dc9a7e"/><circle cx="243.2" cy="468.0" r="4.9" fill="#dc9a7e"/><circle cx="246.8" cy="468.4" r="4.9" fill="#dc9a7e"/><circle cx="249.9" cy="466.1" r="4.9" fill="#dc9a7e"/><circle cx="253.2" cy="465.6" r="4.9" fill="#dc9a7e"/><circle cx="257.8" cy="465.6" r="4.9" fill="#dc9a7e"/><circle cx="260.6" cy="466.9" r="4.9" fill="#dc9a7e"/><circle cx="265.2" cy="465.9" r="4.9" fill="#dc9a7e"/><circle cx="267.9" cy="465.0" r="4.9" fill="#dc9a7e"/><circle cx="271.0" cy="461.5" r="4.9" fill="#dc9a7e"/><circle cx="274.7" cy="465.1" r="4.9" fill="#dc9a7e"/><circle cx="278.9" cy="468.1" r="4.9" fill="#dc9a7e"/><circle cx="283.4" cy="465.4" r="4.9" fill="#dc9a7e"/><circle cx="285.7" cy="466.6" r="4.9" fill="#dc9a7e"/><circle cx="290.3" cy="466.9" r="4.9" fill="#dc9a7e"/><circle cx="293.2" cy="462.7" r="4.9" fill="#dc9a7e"/><circle cx="296.1" cy="465.7" r="4.9" fill="#dc9a7e"/><circle cx="301.0" cy="465.0" r="4.9" fill="#dc9a7e"/><circle cx="303.6" cy="464.9" r="4.9" fill="#dc9a7e"/><circle cx="307.9" cy="465.6" r="4.9" fill="#dc9a7e"/><circle cx="311.7" cy="464.7" r="4.9" fill="#dc9a7e"/><circle cx="315.9" cy="466.4" r="4.9" fill="#dc9a7e"/><circle cx="318.7" cy="462.3" r="4.9" fill="#dc9a7e"/><circle cx="322.2" cy="465.5" r="4.9" fill="#dc9a7e"/><circle cx="325.2" cy="466.4" r="4.9" fill="#dc9a7e"/><circle cx="329.6" cy="466.8" r="4.9" fill="#dc9a7e"/><circle cx="332.8" cy="466.9" r="4.9" fill="#dc9a7e"/><circle cx="335.9" cy="465.8" r="4.9" fill="#dc9a7e"/><circle cx="340.1" cy="466.2" r="4.9" fill="#dc9a7e"/><circle cx="343.2" cy="464.8" r="4.9" fill="#dc9a7e"/><circle cx="347.6" cy="463.9" r="4.9" fill="#dc9a7e"/><circle cx="350.5" cy="464.1" r="4.9" fill="#dc9a7e"/><path d="M87.8,475.7 L89.8,479.7 L91.8,475.7Z" fill="#3b475f"/><path d="M95.0,475.1 L97.0,479.1 L99.0,475.1Z" fill="#3b475f"/><path d="M102.6,474.7 L104.6,478.7 L106.6,474.7Z" fill="#3b475f"/><path d="M111.3,474.3 L113.3,478.3 L115.3,474.3Z" fill="#3b475f"/><path d="M115.9,473.5 L117.9,477.5 L119.9,473.5Z" fill="#3b475f"/><path d="M122.9,475.2 L124.9,479.2 L126.9,475.2Z" fill="#3b475f"/><path d="M133.4,475.2 L135.4,479.2 L137.4,475.2Z" fill="#3b475f"/><path d="M139.8,472.8 L141.8,476.8 L143.8,472.8Z" fill="#3b475f"/><path d="M147.1,474.5 L149.1,478.5 L151.1,474.5Z" fill="#3b475f"/><path d="M154.4,473.6 L156.4,477.6 L158.4,473.6Z" fill="#3b475f"/><path d="M160.9,473.4 L162.9,477.4 L164.9,473.4Z" fill="#3b475f"/><path d="M170.2,472.7 L172.2,476.7 L174.2,472.7Z" fill="#3b475f"/><path d="M175.6,473.1 L177.6,477.1 L179.6,473.1Z" fill="#3b475f"/><path d="M184.6,473.8 L186.6,477.8 L188.6,473.8Z" fill="#3b475f"/><path d="M192.5,473.7 L194.5,477.7 L196.5,473.7Z" fill="#3b475f"/><path d="M195.9,472.0 L197.9,476.0 L199.9,472.0Z" fill="#3b475f"/><path d="M203.9,471.9 L205.9,475.9 L207.9,471.9Z" fill="#3b475f"/><path d="M210.8,472.8 L212.8,476.8 L214.8,472.8Z" fill="#3b475f"/><path d="M219.8,472.4 L221.8,476.4 L223.8,472.4Z" fill="#3b475f"/><path d="M227.3,471.0 L229.3,475.0 L231.3,471.0Z" fill="#3b475f"/><path d="M233.1,473.1 L235.1,477.1 L237.1,473.1Z" fill="#3b475f"/><path d="M239.8,471.5 L241.8,475.5 L243.8,471.5Z" fill="#3b475f"/><path d="M246.1,470.5 L248.1,474.5 L250.1,470.5Z" fill="#3b475f"/><path d="M257.4,472.6 L259.4,476.6 L261.4,472.6Z" fill="#3b475f"/><path d="M263.8,470.3 L265.8,474.3 L267.8,470.3Z" fill="#3b475f"/><path d="M268.2,470.4 L270.2,474.4 L272.2,470.4Z" fill="#3b475f"/><path d="M277.6,471.4 L279.6,475.4 L281.6,471.4Z" fill="#3b475f"/><path d="M283.4,470.8 L285.4,474.8 L287.4,470.8Z" fill="#3b475f"/><path d="M289.7,470.7 L291.7,474.7 L293.7,470.7Z" fill="#3b475f"/><path d="M300.8,471.1 L302.8,475.1 L304.8,471.1Z" fill="#3b475f"/><path d="M304.3,470.3 L306.3,474.3 L308.3,470.3Z" fill="#3b475f"/><path d="M314.8,469.5 L316.8,473.5 L318.8,469.5Z" fill="#3b475f"/><path d="M321.8,469.9 L323.8,473.9 L325.8,469.9Z" fill="#3b475f"/><path d="M328.4,469.5 L330.4,473.5 L332.4,469.5Z" fill="#3b475f"/><path d="M335.9,470.4 L337.9,474.4 L339.9,470.4Z" fill="#3b475f"/><path d="M341.5,468.6 L343.5,472.6 L345.5,468.6Z" fill="#3b475f"/><path d="M348.3,468.2 L350.3,472.2 L352.3,468.2Z" fill="#3b475f"/><circle cx="91.5" cy="468.6" r="2.8" fill="#3b475f"/><path d="M90.0,470.4 L91.5,474.1 L93.0,470.4Z" fill="#3b475f"/><circle cx="93.5" cy="471.7" r="2.8" fill="#3b475f"/><path d="M92.0,473.5 L93.5,477.2 L95.0,473.5Z" fill="#3b475f"/><circle cx="98.2" cy="469.7" r="2.8" fill="#3b475f"/><path d="M96.7,471.5 L98.2,475.2 L99.7,471.5Z" fill="#3b475f"/><circle cx="101.7" cy="470.6" r="2.8" fill="#3b475f"/><path d="M100.2,472.4 L101.7,476.1 L103.2,472.4Z" fill="#3b475f"/><circle cx="105.0" cy="469.9" r="2.8" fill="#3b475f"/><path d="M103.5,471.7 L105.0,475.4 L106.5,471.7Z" fill="#3b475f"/><circle cx="109.6" cy="471.7" r="2.8" fill="#3b475f"/><path d="M108.1,473.5 L109.6,477.2 L111.1,473.5Z" fill="#3b475f"/><circle cx="112.3" cy="465.8" r="2.8" fill="#3b475f"/><path d="M110.8,467.6 L112.3,471.3 L113.8,467.6Z" fill="#3b475f"/><circle cx="115.1" cy="469.9" r="2.8" fill="#3b475f"/><path d="M113.6,471.7 L115.1,475.4 L116.6,471.7Z" fill="#3b475f"/><circle cx="119.4" cy="471.3" r="2.8" fill="#3b475f"/><path d="M117.9,473.1 L119.4,476.8 L120.9,473.1Z" fill="#3b475f"/><circle cx="123.3" cy="465.4" r="2.8" fill="#3b475f"/><path d="M121.8,467.2 L123.3,470.9 L124.8,467.2Z" fill="#3b475f"/><circle cx="126.5" cy="468.5" r="2.8" fill="#3b475f"/><path d="M125.0,470.3 L126.5,474.0 L128.0,470.3Z" fill="#3b475f"/><circle cx="131.4" cy="470.3" r="2.8" fill="#3b475f"/><path d="M129.9,472.1 L131.4,475.8 L132.9,472.1Z" fill="#3b475f"/><circle cx="134.8" cy="470.6" r="2.8" fill="#3b475f"/><path d="M133.3,472.4 L134.8,476.1 L136.3,472.4Z" fill="#3b475f"/><circle cx="138.4" cy="470.4" r="2.8" fill="#3b475f"/><path d="M136.9,472.2 L138.4,475.9 L139.9,472.2Z" fill="#3b475f"/><circle cx="141.1" cy="471.1" r="2.8" fill="#3b475f"/><path d="M139.6,472.9 L141.1,476.6 L142.6,472.9Z" fill="#3b475f"/><circle cx="144.3" cy="470.3" r="2.8" fill="#3b475f"/><path d="M142.8,472.1 L144.3,475.8 L145.8,472.1Z" fill="#3b475f"/><circle cx="148.5" cy="469.4" r="2.8" fill="#3b475f"/><path d="M147.0,471.2 L148.5,474.9 L150.0,471.2Z" fill="#3b475f"/><circle cx="153.0" cy="469.2" r="2.8" fill="#3b475f"/><path d="M151.5,471.0 L153.0,474.7 L154.5,471.0Z" fill="#3b475f"/><circle cx="155.5" cy="470.5" r="2.8" fill="#3b475f"/><path d="M154.0,472.3 L155.5,476.0 L157.0,472.3Z" fill="#3b475f"/><circle cx="159.4" cy="469.3" r="2.8" fill="#3b475f"/><path d="M157.9,471.1 L159.4,474.8 L160.9,471.1Z" fill="#3b475f"/><circle cx="163.5" cy="468.9" r="2.8" fill="#3b475f"/><path d="M162.0,470.7 L163.5,474.4 L165.0,470.7Z" fill="#3b475f"/><circle cx="166.3" cy="469.6" r="2.8" fill="#3b475f"/><path d="M164.8,471.4 L166.3,475.1 L167.8,471.4Z" fill="#3b475f"/><circle cx="171.0" cy="468.0" r="2.8" fill="#3b475f"/><path d="M169.5,469.8 L171.0,473.5 L172.5,469.8Z" fill="#3b475f"/><circle cx="173.6" cy="470.3" r="2.8" fill="#3b475f"/><path d="M172.1,472.1 L173.6,475.8 L175.1,472.1Z" fill="#3b475f"/><circle cx="177.5" cy="468.7" r="2.8" fill="#3b475f"/><path d="M176.0,470.5 L177.5,474.2 L179.0,470.5Z" fill="#3b475f"/><circle cx="181.3" cy="467.9" r="2.8" fill="#3b475f"/><path d="M179.8,469.7 L181.3,473.4 L182.8,469.7Z" fill="#3b475f"/><circle cx="184.8" cy="470.0" r="2.8" fill="#3b475f"/><path d="M183.3,471.8 L184.8,475.5 L186.3,471.8Z" fill="#3b475f"/><circle cx="187.6" cy="469.5" r="2.8" fill="#3b475f"/><path d="M186.1,471.3 L187.6,475.0 L189.1,471.3Z" fill="#3b475f"/><circle cx="192.7" cy="467.2" r="2.8" fill="#3b475f"/><path d="M191.2,469.0 L192.7,472.7 L194.2,469.0Z" fill="#3b475f"/><circle cx="194.8" cy="468.8" r="2.8" fill="#3b475f"/><path d="M193.3,470.6 L194.8,474.3 L196.3,470.6Z" fill="#3b475f"/><circle cx="198.8" cy="469.5" r="2.8" fill="#3b475f"/><path d="M197.3,471.3 L198.8,475.0 L200.3,471.3Z" fill="#3b475f"/><circle cx="202.9" cy="469.3" r="2.8" fill="#3b475f"/><path d="M201.4,471.1 L202.9,474.8 L204.4,471.1Z" fill="#3b475f"/><circle cx="206.0" cy="469.4" r="2.8" fill="#3b475f"/><path d="M204.5,471.2 L206.0,474.9 L207.5,471.2Z" fill="#3b475f"/><circle cx="210.5" cy="466.3" r="2.8" fill="#3b475f"/><path d="M209.0,468.1 L210.5,471.8 L212.0,468.1Z" fill="#3b475f"/><circle cx="213.1" cy="468.5" r="2.8" fill="#3b475f"/><path d="M211.6,470.3 L213.1,474.0 L214.6,470.3Z" fill="#3b475f"/><circle cx="218.2" cy="466.1" r="2.8" fill="#3b475f"/><path d="M216.7,467.9 L218.2,471.6 L219.7,467.9Z" fill="#3b475f"/><circle cx="220.1" cy="466.9" r="2.8" fill="#3b475f"/><path d="M218.6,468.7 L220.1,472.4 L221.6,468.7Z" fill="#3b475f"/><circle cx="224.0" cy="466.5" r="2.8" fill="#3b475f"/><path d="M222.5,468.3 L224.0,472.0 L225.5,468.3Z" fill="#3b475f"/><circle cx="228.0" cy="465.9" r="2.8" fill="#3b475f"/><path d="M226.5,467.7 L228.0,471.4 L229.5,467.7Z" fill="#3b475f"/><circle cx="231.2" cy="465.8" r="2.8" fill="#3b475f"/><path d="M229.7,467.6 L231.2,471.3 L232.7,467.6Z" fill="#3b475f"/><circle cx="235.7" cy="468.2" r="2.8" fill="#3b475f"/><path d="M234.2,470.0 L235.7,473.7 L237.2,470.0Z" fill="#3b475f"/><circle cx="238.8" cy="465.7" r="2.8" fill="#3b475f"/><path d="M237.3,467.5 L238.8,471.2 L240.3,467.5Z" fill="#3b475f"/><circle cx="243.2" cy="468.0" r="2.8" fill="#3b475f"/><path d="M241.7,469.8 L243.2,473.5 L244.7,469.8Z" fill="#3b475f"/><circle cx="246.8" cy="468.4" r="2.8" fill="#3b475f"/><path d="M245.3,470.2 L246.8,473.9 L248.3,470.2Z" fill="#3b475f"/><circle cx="249.9" cy="466.1" r="2.8" fill="#3b475f"/><path d="M248.4,467.9 L249.9,471.6 L251.4,467.9Z" fill="#3b475f"/><circle cx="253.2" cy="465.6" r="2.8" fill="#3b475f"/><path d="M251.7,467.4 L253.2,471.1 L254.7,467.4Z" fill="#3b475f"/><circle cx="257.8" cy="465.6" r="2.8" fill="#3b475f"/><path d="M256.3,467.4 L257.8,471.1 L259.3,467.4Z" fill="#3b475f"/><circle cx="260.6" cy="466.9" r="2.8" fill="#3b475f"/><path d="M259.1,468.7 L260.6,472.4 L262.1,468.7Z" fill="#3b475f"/><circle cx="265.2" cy="465.9" r="2.8" fill="#3b475f"/><path d="M263.7,467.7 L265.2,471.4 L266.7,467.7Z" fill="#3b475f"/><circle cx="267.9" cy="465.0" r="2.8" fill="#3b475f"/><path d="M266.4,466.8 L267.9,470.5 L269.4,466.8Z" fill="#3b475f"/><circle cx="271.0" cy="461.5" r="2.8" fill="#3b475f"/><path d="M269.5,463.3 L271.0,467.0 L272.5,463.3Z" fill="#3b475f"/><circle cx="274.7" cy="465.1" r="2.8" fill="#3b475f"/><path d="M273.2,466.9 L274.7,470.6 L276.2,466.9Z" fill="#3b475f"/><circle cx="278.9" cy="468.1" r="2.8" fill="#3b475f"/><path d="M277.4,469.9 L278.9,473.6 L280.4,469.9Z" fill="#3b475f"/><circle cx="283.4" cy="465.4" r="2.8" fill="#3b475f"/><path d="M281.9,467.2 L283.4,470.9 L284.9,467.2Z" fill="#3b475f"/><circle cx="285.7" cy="466.6" r="2.8" fill="#3b475f"/><path d="M284.2,468.4 L285.7,472.1 L287.2,468.4Z" fill="#3b475f"/><circle cx="290.3" cy="466.9" r="2.8" fill="#3b475f"/><path d="M288.8,468.7 L290.3,472.4 L291.8,468.7Z" fill="#3b475f"/><circle cx="293.2" cy="462.7" r="2.8" fill="#3b475f"/><path d="M291.7,464.5 L293.2,468.2 L294.7,464.5Z" fill="#3b475f"/><circle cx="296.1" cy="465.7" r="2.8" fill="#3b475f"/><path d="M294.6,467.5 L296.1,471.2 L297.6,467.5Z" fill="#3b475f"/><circle cx="301.0" cy="465.0" r="2.8" fill="#3b475f"/><path d="M299.5,466.8 L301.0,470.5 L302.5,466.8Z" fill="#3b475f"/><circle cx="303.6" cy="464.9" r="2.8" fill="#3b475f"/><path d="M302.1,466.7 L303.6,470.4 L305.1,466.7Z" fill="#3b475f"/><circle cx="307.9" cy="465.6" r="2.8" fill="#3b475f"/><path d="M306.4,467.4 L307.9,471.1 L309.4,467.4Z" fill="#3b475f"/><circle cx="311.7" cy="464.7" r="2.8" fill="#3b475f"/><path d="M310.2,466.5 L311.7,470.2 L313.2,466.5Z" fill="#3b475f"/><circle cx="315.9" cy="466.4" r="2.8" fill="#3b475f"/><path d="M314.4,468.2 L315.9,471.9 L317.4,468.2Z" fill="#3b475f"/><circle cx="318.7" cy="462.3" r="2.8" fill="#3b475f"/><path d="M317.2,464.1 L318.7,467.8 L320.2,464.1Z" fill="#3b475f"/><circle cx="322.2" cy="465.5" r="2.8" fill="#3b475f"/><path d="M320.7,467.3 L322.2,471.0 L323.7,467.3Z" fill="#3b475f"/><circle cx="325.2" cy="466.4" r="2.8" fill="#3b475f"/><path d="M323.7,468.2 L325.2,471.9 L326.7,468.2Z" fill="#3b475f"/><circle cx="329.6" cy="466.8" r="2.8" fill="#3b475f"/><path d="M328.1,468.6 L329.6,472.3 L331.1,468.6Z" fill="#3b475f"/><circle cx="332.8" cy="466.9" r="2.8" fill="#3b475f"/><path d="M331.3,468.7 L332.8,472.4 L334.3,468.7Z" fill="#3b475f"/><circle cx="335.9" cy="465.8" r="2.8" fill="#3b475f"/><path d="M334.4,467.6 L335.9,471.3 L337.4,467.6Z" fill="#3b475f"/><circle cx="340.1" cy="466.2" r="2.8" fill="#3b475f"/><path d="M338.6,468.0 L340.1,471.7 L341.6,468.0Z" fill="#3b475f"/><circle cx="343.2" cy="464.8" r="2.8" fill="#3b475f"/><path d="M341.7,466.6 L343.2,470.3 L344.7,466.6Z" fill="#3b475f"/><circle cx="347.6" cy="463.9" r="2.8" fill="#3b475f"/><path d="M346.1,465.7 L347.6,469.4 L349.1,465.7Z" fill="#3b475f"/><circle cx="350.5" cy="464.1" r="2.8" fill="#3b475f"/><path d="M349.0,465.9 L350.5,469.6 L352.0,465.9Z" fill="#3b475f"/><line x1="84.5" y1="481" x2="352" y2="474.5" stroke="#111" stroke-width="2.6" stroke-dasharray="9,7"/><rect x="82.5" y="336.7" width="271.5" height="223.90000000000003" fill="none" stroke="#000" stroke-width="2.4"/><line x1="77.5" y1="560.6" x2="82.5" y2="560.6" stroke="#000" stroke-width="2"/><text x="73.5" y="568.1" font-size="16" text-anchor="end" fill="#000" font-weight="normal" >-20</text><line x1="79.5" y1="541.9" x2="82.5" y2="541.9" stroke="#000" stroke-width="2"/><line x1="77.5" y1="523.3" x2="82.5" y2="523.3" stroke="#000" stroke-width="2"/><text x="73.5" y="530.8" font-size="16" text-anchor="end" fill="#000" font-weight="normal" >-10</text><line x1="79.5" y1="504.6" x2="82.5" y2="504.6" stroke="#000" stroke-width="2"/><line x1="77.5" y1="486.0" x2="82.5" y2="486.0" stroke="#000" stroke-width="2"/><text x="73.5" y="493.5" font-size="16" text-anchor="end" fill="#000" font-weight="normal" >0</text><line x1="79.5" y1="467.3" x2="82.5" y2="467.3" stroke="#000" stroke-width="2"/><line x1="77.5" y1="448.6" x2="82.5" y2="448.6" stroke="#000" stroke-width="2"/><text x="73.5" y="456.1" font-size="16" text-anchor="end" fill="#000" font-weight="normal" >10</text><line x1="79.5" y1="430.0" x2="82.5" y2="430.0" stroke="#000" stroke-width="2"/><line x1="77.5" y1="411.3" x2="82.5" y2="411.3" stroke="#000" stroke-width="2"/><text x="73.5" y="418.8" font-size="16" text-anchor="end" fill="#000" font-weight="normal" >20</text><line x1="79.5" y1="392.7" x2="82.5" y2="392.7" stroke="#000" stroke-width="2"/><line x1="77.5" y1="374.0" x2="82.5" y2="374.0" stroke="#000" stroke-width="2"/><text x="73.5" y="381.5" font-size="16" text-anchor="end" fill="#000" font-weight="normal" >30</text><line x1="79.5" y1="355.4" x2="82.5" y2="355.4" stroke="#000" stroke-width="2"/><line x1="77.5" y1="336.7" x2="82.5" y2="336.7" stroke="#000" stroke-width="2"/><text x="73.5" y="344.2" font-size="16" text-anchor="end" fill="#000" font-weight="normal" >40</text><line x1="82.5" y1="560.6" x2="82.5" y2="565.6" stroke="#000" stroke-width="2"/><text x="80.5" y="584.6" font-size="16" text-anchor="middle" fill="#000" font-weight="normal" >0</text><line x1="127.8" y1="560.6" x2="127.8" y2="563.6" stroke="#000" stroke-width="2"/><line x1="173.0" y1="560.6" x2="173.0" y2="565.6" stroke="#000" stroke-width="2"/><text x="171.0" y="584.6" font-size="16" text-anchor="middle" fill="#000" font-weight="normal" >100</text><line x1="218.2" y1="560.6" x2="218.2" y2="563.6" stroke="#000" stroke-width="2"/><line x1="263.5" y1="560.6" x2="263.5" y2="565.6" stroke="#000" stroke-width="2"/><text x="261.5" y="584.6" font-size="16" text-anchor="middle" fill="#000" font-weight="normal" >200</text><line x1="308.8" y1="560.6" x2="308.8" y2="563.6" stroke="#000" stroke-width="2"/><line x1="354.0" y1="560.6" x2="354.0" y2="565.6" stroke="#000" stroke-width="2"/><text x="352.0" y="584.6" font-size="16" text-anchor="middle" fill="#000" font-weight="normal" >300</text><text x="223.2" y="603.6" font-size="17" text-anchor="middle" fill="#000" font-weight="normal" >X position (nm)</text><text x="0" y="0" font-size="17" text-anchor="middle" transform="translate(39.5,460.65) rotate(-90)">Z position (nm)</text><text x="89.0" y="352.7" font-size="14.3" text-anchor="start" fill="#000" font-weight="normal" >20S proteasome on SFG</text><text x="30.0" y="336.6" font-size="21" text-anchor="start" fill="#000" font-weight="bold" >d</text><rect x="424" y="30" width="175" height="236" fill="#999" filter="url(#nb)"/><g filter="url(#pblur)"><circle cx="442.9" cy="74.0" r="5.2" fill="#fff" fill-opacity="0.3" stroke="#111" stroke-opacity="0.8" stroke-width="3" stroke-dasharray="4,1.5"/><circle cx="462.2" cy="86.8" r="5.2" fill="#fff" fill-opacity="0.3" stroke="#111" stroke-opacity="0.8" stroke-width="3" stroke-dasharray="4,1.5"/><circle cx="475.0" cy="70.7" r="5.2" fill="#fff" fill-opacity="0.3" stroke="#111" stroke-opacity="0.8" stroke-width="3" stroke-dasharray="4,1.5"/><ellipse cx="487.1" cy="75.6" rx="2.8" ry="1.9" transform="rotate(5 491.1 83.6)" fill="#111" fill-opacity="0.7"/><ellipse cx="495.1" cy="75.6" rx="2.8" ry="1.9" transform="rotate(5 491.1 83.6)" fill="#111" fill-opacity="0.7"/><ellipse cx="487.1" cy="80.9" rx="2.8" ry="1.9" transform="rotate(5 491.1 83.6)" fill="#111" fill-opacity="0.7"/><ellipse cx="495.1" cy="80.9" rx="2.8" ry="1.9" transform="rotate(5 491.1 83.6)" fill="#111" fill-opacity="0.7"/><ellipse cx="487.1" cy="86.2" rx="2.8" ry="1.9" transform="rotate(5 491.1 83.6)" fill="#111" fill-opacity="0.7"/><ellipse cx="495.1" cy="86.2" rx="2.8" ry="1.9" transform="rotate(5 491.1 83.6)" fill="#111" fill-opacity="0.7"/><ellipse cx="487.1" cy="91.5" rx="2.8" ry="1.9" transform="rotate(5 491.1 83.6)" fill="#111" fill-opacity="0.7"/><ellipse cx="495.1" cy="91.5" rx="2.8" ry="1.9" transform="rotate(5 491.1 83.6)" fill="#111" fill-opacity="0.7"/><rect x="489.8" y="74.6" width="2.6" height="17" transform="rotate(5 491.1 83.6)" fill="#fff" fill-opacity="0.6"/><ellipse cx="503.2" cy="78.8" rx="2.8" ry="1.9" transform="rotate(170 507.2 86.8)" fill="#111" fill-opacity="0.7"/><ellipse cx="511.2" cy="78.8" rx="2.8" ry="1.9" transform="rotate(170 507.2 86.8)" fill="#111" fill-opacity="0.7"/><ellipse cx="503.2" cy="84.1" rx="2.8" ry="1.9" transform="rotate(170 507.2 86.8)" fill="#111" fill-opacity="0.7"/><ellipse cx="511.2" cy="84.1" rx="2.8" ry="1.9" transform="rotate(170 507.2 86.8)" fill="#111" fill-opacity="0.7"/><ellipse cx="503.2" cy="89.4" rx="2.8" ry="1.9" transform="rotate(170 507.2 86.8)" fill="#111" fill-opacity="0.7"/><ellipse cx="511.2" cy="89.4" rx="2.8" ry="1.9" transform="rotate(170 507.2 86.8)" fill="#111" fill-opacity="0.7"/><ellipse cx="503.2" cy="94.7" rx="2.8" ry="1.9" transform="rotate(170 507.2 86.8)" fill="#111" fill-opacity="0.7"/><ellipse cx="511.2" cy="94.7" rx="2.8" ry="1.9" transform="rotate(170 507.2 86.8)" fill="#111" fill-opacity="0.7"/><rect x="505.9" y="77.8" width="2.6" height="17" transform="rotate(170 507.2 86.8)" fill="#fff" fill-opacity="0.6"/><ellipse cx="516.1" cy="82.0" rx="2.8" ry="1.9" transform="rotate(162 520.1 90.0)" fill="#111" fill-opacity="0.7"/><ellipse cx="524.1" cy="82.0" rx="2.8" ry="1.9" transform="rotate(162 520.1 90.0)" fill="#111" fill-opacity="0.7"/><ellipse cx="516.1" cy="87.3" rx="2.8" ry="1.9" transform="rotate(162 520.1 90.0)" fill="#111" fill-opacity="0.7"/><ellipse cx="524.1" cy="87.3" rx="2.8" ry="1.9" transform="rotate(162 520.1 90.0)" fill="#111" fill-opacity="0.7"/><ellipse cx="516.1" cy="92.6" rx="2.8" ry="1.9" transform="rotate(162 520.1 90.0)" fill="#111" fill-opacity="0.7"/><ellipse cx="524.1" cy="92.6" rx="2.8" ry="1.9" transform="rotate(162 520.1 90.0)" fill="#111" fill-opacity="0.7"/><ellipse cx="516.1" cy="97.9" rx="2.8" ry="1.9" transform="rotate(162 520.1 90.0)" fill="#111" fill-opacity="0.7"/><ellipse cx="524.1" cy="97.9" rx="2.8" ry="1.9" transform="rotate(162 520.1 90.0)" fill="#111" fill-opacity="0.7"/><rect x="518.8" y="81.0" width="2.6" height="17" transform="rotate(162 520.1 90.0)" fill="#fff" fill-opacity="0.6"/><ellipse cx="554.6" cy="56.3" rx="2.8" ry="1.9" transform="rotate(84 558.6 64.3)" fill="#111" fill-opacity="0.7"/><ellipse cx="562.6" cy="56.3" rx="2.8" ry="1.9" transform="rotate(84 558.6 64.3)" fill="#111" fill-opacity="0.7"/><ellipse cx="554.6" cy="61.6" rx="2.8" ry="1.9" transform="rotate(84 558.6 64.3)" fill="#111" fill-opacity="0.7"/><ellipse cx="562.6" cy="61.6" rx="2.8" ry="1.9" transform="rotate(84 558.6 64.3)" fill="#111" fill-opacity="0.7"/><ellipse cx="554.6" cy="66.9" rx="2.8" ry="1.9" transform="rotate(84 558.6 64.3)" fill="#111" fill-opacity="0.7"/><ellipse cx="562.6" cy="66.9" rx="2.8" ry="1.9" transform="rotate(84 558.6 64.3)" fill="#111" fill-opacity="0.7"/><ellipse cx="554.6" cy="72.2" rx="2.8" ry="1.9" transform="rotate(84 558.6 64.3)" fill="#111" fill-opacity="0.7"/><ellipse cx="562.6" cy="72.2" rx="2.8" ry="1.9" transform="rotate(84 558.6 64.3)" fill="#111" fill-opacity="0.7"/><rect x="557.3" y="55.3" width="2.6" height="17" transform="rotate(84 558.6 64.3)" fill="#fff" fill-opacity="0.6"/><ellipse cx="442.1" cy="107.8" rx="2.8" ry="1.9" transform="rotate(98 446.1 115.8)" fill="#111" fill-opacity="0.7"/><ellipse cx="450.1" cy="107.8" rx="2.8" ry="1.9" transform="rotate(98 446.1 115.8)" fill="#111" fill-opacity="0.7"/><ellipse cx="442.1" cy="113.1" rx="2.8" ry="1.9" transform="rotate(98 446.1 115.8)" fill="#111" fill-opacity="0.7"/><ellipse cx="450.1" cy="113.1" rx="2.8" ry="1.9" transform="rotate(98 446.1 115.8)" fill="#111" fill-opacity="0.7"/><ellipse cx="442.1" cy="118.4" rx="2.8" ry="1.9" transform="rotate(98 446.1 115.8)" fill="#111" fill-opacity="0.7"/><ellipse cx="450.1" cy="118.4" rx="2.8" ry="1.9" transform="rotate(98 446.1 115.8)" fill="#111" fill-opacity="0.7"/><ellipse cx="442.1" cy="123.7" rx="2.8" ry="1.9" transform="rotate(98 446.1 115.8)" fill="#111" fill-opacity="0.7"/><ellipse cx="450.1" cy="123.7" rx="2.8" ry="1.9" transform="rotate(98 446.1 115.8)" fill="#111" fill-opacity="0.7"/><rect x="444.8" y="106.8" width="2.6" height="17" transform="rotate(98 446.1 115.8)" fill="#fff" fill-opacity="0.6"/><ellipse cx="464.6" cy="127.0" rx="2.8" ry="1.9" transform="rotate(2 468.6 135.0)" fill="#111" fill-opacity="0.7"/><ellipse cx="472.6" cy="127.0" rx="2.8" ry="1.9" transform="rotate(2 468.6 135.0)" fill="#111" fill-opacity="0.7"/><ellipse cx="464.6" cy="132.3" rx="2.8" ry="1.9" transform="rotate(2 468.6 135.0)" fill="#111" fill-opacity="0.7"/><ellipse cx="472.6" cy="132.3" rx="2.8" ry="1.9" transform="rotate(2 468.6 135.0)" fill="#111" fill-opacity="0.7"/><ellipse cx="464.6" cy="137.6" rx="2.8" ry="1.9" transform="rotate(2 468.6 135.0)" fill="#111" fill-opacity="0.7"/><ellipse cx="472.6" cy="137.6" rx="2.8" ry="1.9" transform="rotate(2 468.6 135.0)" fill="#111" fill-opacity="0.7"/><ellipse cx="464.6" cy="142.9" rx="2.8" ry="1.9" transform="rotate(2 468.6 135.0)" fill="#111" fill-opacity="0.7"/><ellipse cx="472.6" cy="142.9" rx="2.8" ry="1.9" transform="rotate(2 468.6 135.0)" fill="#111" fill-opacity="0.7"/><rect x="467.3" y="126.0" width="2.6" height="17" transform="rotate(2 468.6 135.0)" fill="#fff" fill-opacity="0.6"/><circle cx="507.2" cy="151.1" r="5.2" fill="#fff" fill-opacity="0.3" stroke="#111" stroke-opacity="0.8" stroke-width="3" stroke-dasharray="4,1.5"/><ellipse cx="516.1" cy="139.9" rx="2.8" ry="1.9" transform="rotate(138 520.1 147.9)" fill="#111" fill-opacity="0.7"/><ellipse cx="524.1" cy="139.9" rx="2.8" ry="1.9" transform="rotate(138 520.1 147.9)" fill="#111" fill-opacity="0.7"/><ellipse cx="516.1" cy="145.2" rx="2.8" ry="1.9" transform="rotate(138 520.1 147.9)" fill="#111" fill-opacity="0.7"/><ellipse cx="524.1" cy="145.2" rx="2.8" ry="1.9" transform="rotate(138 520.1 147.9)" fill="#111" fill-opacity="0.7"/><ellipse cx="516.1" cy="150.5" rx="2.8" ry="1.9" transform="rotate(138 520.1 147.9)" fill="#111" fill-opacity="0.7"/><ellipse cx="524.1" cy="150.5" rx="2.8" ry="1.9" transform="rotate(138 520.1 147.9)" fill="#111" fill-opacity="0.7"/><ellipse cx="516.1" cy="155.8" rx="2.8" ry="1.9" transform="rotate(138 520.1 147.9)" fill="#111" fill-opacity="0.7"/><ellipse cx="524.1" cy="155.8" rx="2.8" ry="1.9" transform="rotate(138 520.1 147.9)" fill="#111" fill-opacity="0.7"/><rect x="518.8" y="138.9" width="2.6" height="17" transform="rotate(138 520.1 147.9)" fill="#fff" fill-opacity="0.6"/><ellipse cx="528.9" cy="149.6" rx="2.8" ry="1.9" transform="rotate(143 532.9 157.6)" fill="#111" fill-opacity="0.7"/><ellipse cx="536.9" cy="149.6" rx="2.8" ry="1.9" transform="rotate(143 532.9 157.6)" fill="#111" fill-opacity="0.7"/><ellipse cx="528.9" cy="154.9" rx="2.8" ry="1.9" transform="rotate(143 532.9 157.6)" fill="#111" fill-opacity="0.7"/><ellipse cx="536.9" cy="154.9" rx="2.8" ry="1.9" transform="rotate(143 532.9 157.6)" fill="#111" fill-opacity="0.7"/><ellipse cx="528.9" cy="160.2" rx="2.8" ry="1.9" transform="rotate(143 532.9 157.6)" fill="#111" fill-opacity="0.7"/><ellipse cx="536.9" cy="160.2" rx="2.8" ry="1.9" transform="rotate(143 532.9 157.6)" fill="#111" fill-opacity="0.7"/><ellipse cx="528.9" cy="165.5" rx="2.8" ry="1.9" transform="rotate(143 532.9 157.6)" fill="#111" fill-opacity="0.7"/><ellipse cx="536.9" cy="165.5" rx="2.8" ry="1.9" transform="rotate(143 532.9 157.6)" fill="#111" fill-opacity="0.7"/><rect x="531.6" y="148.6" width="2.6" height="17" transform="rotate(143 532.9 157.6)" fill="#fff" fill-opacity="0.6"/><ellipse cx="458.2" cy="139.9" rx="2.8" ry="1.9" transform="rotate(111 462.2 147.9)" fill="#111" fill-opacity="0.7"/><ellipse cx="466.2" cy="139.9" rx="2.8" ry="1.9" transform="rotate(111 462.2 147.9)" fill="#111" fill-opacity="0.7"/><ellipse cx="458.2" cy="145.2" rx="2.8" ry="1.9" transform="rotate(111 462.2 147.9)" fill="#111" fill-opacity="0.7"/><ellipse cx="466.2" cy="145.2" rx="2.8" ry="1.9" transform="rotate(111 462.2 147.9)" fill="#111" fill-opacity="0.7"/><ellipse cx="458.2" cy="150.5" rx="2.8" ry="1.9" transform="rotate(111 462.2 147.9)" fill="#111" fill-opacity="0.7"/><ellipse cx="466.2" cy="150.5" rx="2.8" ry="1.9" transform="rotate(111 462.2 147.9)" fill="#111" fill-opacity="0.7"/><ellipse cx="458.2" cy="155.8" rx="2.8" ry="1.9" transform="rotate(111 462.2 147.9)" fill="#111" fill-opacity="0.7"/><ellipse cx="466.2" cy="155.8" rx="2.8" ry="1.9" transform="rotate(111 462.2 147.9)" fill="#111" fill-opacity="0.7"/><rect x="460.9" y="138.9" width="2.6" height="17" transform="rotate(111 462.2 147.9)" fill="#fff" fill-opacity="0.6"/><circle cx="545.8" cy="109.3" r="5.2" fill="#fff" fill-opacity="0.3" stroke="#111" stroke-opacity="0.8" stroke-width="3" stroke-dasharray="4,1.5"/><ellipse cx="580.4" cy="104.5" rx="2.8" ry="1.9" transform="rotate(38 584.4 112.5)" fill="#111" fill-opacity="0.7"/><ellipse cx="588.4" cy="104.5" rx="2.8" ry="1.9" transform="rotate(38 584.4 112.5)" fill="#111" fill-opacity="0.7"/><ellipse cx="580.4" cy="109.8" rx="2.8" ry="1.9" transform="rotate(38 584.4 112.5)" fill="#111" fill-opacity="0.7"/><ellipse cx="588.4" cy="109.8" rx="2.8" ry="1.9" transform="rotate(38 584.4 112.5)" fill="#111" fill-opacity="0.7"/><ellipse cx="580.4" cy="115.1" rx="2.8" ry="1.9" transform="rotate(38 584.4 112.5)" fill="#111" fill-opacity="0.7"/><ellipse cx="588.4" cy="115.1" rx="2.8" ry="1.9" transform="rotate(38 584.4 112.5)" fill="#111" fill-opacity="0.7"/><ellipse cx="580.4" cy="120.4" rx="2.8" ry="1.9" transform="rotate(38 584.4 112.5)" fill="#111" fill-opacity="0.7"/><ellipse cx="588.4" cy="120.4" rx="2.8" ry="1.9" transform="rotate(38 584.4 112.5)" fill="#111" fill-opacity="0.7"/><rect x="583.1" y="103.5" width="2.6" height="17" transform="rotate(38 584.4 112.5)" fill="#fff" fill-opacity="0.6"/><circle cx="574.7" cy="135.0" r="5.2" fill="#fff" fill-opacity="0.3" stroke="#111" stroke-opacity="0.8" stroke-width="3" stroke-dasharray="4,1.5"/><circle cx="481.5" cy="186.5" r="5.2" fill="#fff" fill-opacity="0.3" stroke="#111" stroke-opacity="0.8" stroke-width="3" stroke-dasharray="4,1.5"/><ellipse cx="503.2" cy="178.5" rx="2.8" ry="1.9" transform="rotate(97 507.2 186.5)" fill="#111" fill-opacity="0.7"/><ellipse cx="511.2" cy="178.5" rx="2.8" ry="1.9" transform="rotate(97 507.2 186.5)" fill="#111" fill-opacity="0.7"/><ellipse cx="503.2" cy="183.8" rx="2.8" ry="1.9" transform="rotate(97 507.2 186.5)" fill="#111" fill-opacity="0.7"/><ellipse cx="511.2" cy="183.8" rx="2.8" ry="1.9" transform="rotate(97 507.2 186.5)" fill="#111" fill-opacity="0.7"/><ellipse cx="503.2" cy="189.1" rx="2.8" ry="1.9" transform="rotate(97 507.2 186.5)" fill="#111" fill-opacity="0.7"/><ellipse cx="511.2" cy="189.1" rx="2.8" ry="1.9" transform="rotate(97 507.2 186.5)" fill="#111" fill-opacity="0.7"/><ellipse cx="503.2" cy="194.4" rx="2.8" ry="1.9" transform="rotate(97 507.2 186.5)" fill="#111" fill-opacity="0.7"/><ellipse cx="511.2" cy="194.4" rx="2.8" ry="1.9" transform="rotate(97 507.2 186.5)" fill="#111" fill-opacity="0.7"/><rect x="505.9" y="177.5" width="2.6" height="17" transform="rotate(97 507.2 186.5)" fill="#fff" fill-opacity="0.6"/><circle cx="526.5" cy="192.9" r="5.2" fill="#fff" fill-opacity="0.3" stroke="#111" stroke-opacity="0.8" stroke-width="3" stroke-dasharray="4,1.5"/><circle cx="446.1" cy="205.8" r="5.2" fill="#fff" fill-opacity="0.3" stroke="#111" stroke-opacity="0.8" stroke-width="3" stroke-dasharray="4,1.5"/><ellipse cx="477.5" cy="204.2" rx="2.8" ry="1.9" transform="rotate(161 481.5 212.2)" fill="#111" fill-opacity="0.7"/><ellipse cx="485.5" cy="204.2" rx="2.8" ry="1.9" transform="rotate(161 481.5 212.2)" fill="#111" fill-opacity="0.7"/><ellipse cx="477.5" cy="209.5" rx="2.8" ry="1.9" transform="rotate(161 481.5 212.2)" fill="#111" fill-opacity="0.7"/><ellipse cx="485.5" cy="209.5" rx="2.8" ry="1.9" transform="rotate(161 481.5 212.2)" fill="#111" fill-opacity="0.7"/><ellipse cx="477.5" cy="214.8" rx="2.8" ry="1.9" transform="rotate(161 481.5 212.2)" fill="#111" fill-opacity="0.7"/><ellipse cx="485.5" cy="214.8" rx="2.8" ry="1.9" transform="rotate(161 481.5 212.2)" fill="#111" fill-opacity="0.7"/><ellipse cx="477.5" cy="220.1" rx="2.8" ry="1.9" transform="rotate(161 481.5 212.2)" fill="#111" fill-opacity="0.7"/><ellipse cx="485.5" cy="220.1" rx="2.8" ry="1.9" transform="rotate(161 481.5 212.2)" fill="#111" fill-opacity="0.7"/><rect x="480.2" y="203.2" width="2.6" height="17" transform="rotate(161 481.5 212.2)" fill="#fff" fill-opacity="0.6"/><ellipse cx="522.5" cy="204.2" rx="2.8" ry="1.9" transform="rotate(65 526.5 212.2)" fill="#111" fill-opacity="0.7"/><ellipse cx="530.5" cy="204.2" rx="2.8" ry="1.9" transform="rotate(65 526.5 212.2)" fill="#111" fill-opacity="0.7"/><ellipse cx="522.5" cy="209.5" rx="2.8" ry="1.9" transform="rotate(65 526.5 212.2)" fill="#111" fill-opacity="0.7"/><ellipse cx="530.5" cy="209.5" rx="2.8" ry="1.9" transform="rotate(65 526.5 212.2)" fill="#111" fill-opacity="0.7"/><ellipse cx="522.5" cy="214.8" rx="2.8" ry="1.9" transform="rotate(65 526.5 212.2)" fill="#111" fill-opacity="0.7"/><ellipse cx="530.5" cy="214.8" rx="2.8" ry="1.9" transform="rotate(65 526.5 212.2)" fill="#111" fill-opacity="0.7"/><ellipse cx="522.5" cy="220.1" rx="2.8" ry="1.9" transform="rotate(65 526.5 212.2)" fill="#111" fill-opacity="0.7"/><ellipse cx="530.5" cy="220.1" rx="2.8" ry="1.9" transform="rotate(65 526.5 212.2)" fill="#111" fill-opacity="0.7"/><rect x="525.2" y="203.2" width="2.6" height="17" transform="rotate(65 526.5 212.2)" fill="#fff" fill-opacity="0.6"/><ellipse cx="541.8" cy="201.0" rx="2.8" ry="1.9" transform="rotate(26 545.8 209.0)" fill="#111" fill-opacity="0.7"/><ellipse cx="549.8" cy="201.0" rx="2.8" ry="1.9" transform="rotate(26 545.8 209.0)" fill="#111" fill-opacity="0.7"/><ellipse cx="541.8" cy="206.3" rx="2.8" ry="1.9" transform="rotate(26 545.8 209.0)" fill="#111" fill-opacity="0.7"/><ellipse cx="549.8" cy="206.3" rx="2.8" ry="1.9" transform="rotate(26 545.8 209.0)" fill="#111" fill-opacity="0.7"/><ellipse cx="541.8" cy="211.6" rx="2.8" ry="1.9" transform="rotate(26 545.8 209.0)" fill="#111" fill-opacity="0.7"/><ellipse cx="549.8" cy="211.6" rx="2.8" ry="1.9" transform="rotate(26 545.8 209.0)" fill="#111" fill-opacity="0.7"/><ellipse cx="541.8" cy="216.9" rx="2.8" ry="1.9" transform="rotate(26 545.8 209.0)" fill="#111" fill-opacity="0.7"/><ellipse cx="549.8" cy="216.9" rx="2.8" ry="1.9" transform="rotate(26 545.8 209.0)" fill="#111" fill-opacity="0.7"/><rect x="544.5" y="200.0" width="2.6" height="17" transform="rotate(26 545.8 209.0)" fill="#fff" fill-opacity="0.6"/><ellipse cx="583.6" cy="165.6" rx="2.8" ry="1.9" transform="rotate(54 587.6 173.6)" fill="#111" fill-opacity="0.7"/><ellipse cx="591.6" cy="165.6" rx="2.8" ry="1.9" transform="rotate(54 587.6 173.6)" fill="#111" fill-opacity="0.7"/><ellipse cx="583.6" cy="170.9" rx="2.8" ry="1.9" transform="rotate(54 587.6 173.6)" fill="#111" fill-opacity="0.7"/><ellipse cx="591.6" cy="170.9" rx="2.8" ry="1.9" transform="rotate(54 587.6 173.6)" fill="#111" fill-opacity="0.7"/><ellipse cx="583.6" cy="176.2" rx="2.8" ry="1.9" transform="rotate(54 587.6 173.6)" fill="#111" fill-opacity="0.7"/><ellipse cx="591.6" cy="176.2" rx="2.8" ry="1.9" transform="rotate(54 587.6 173.6)" fill="#111" fill-opacity="0.7"/><ellipse cx="583.6" cy="181.5" rx="2.8" ry="1.9" transform="rotate(54 587.6 173.6)" fill="#111" fill-opacity="0.7"/><ellipse cx="591.6" cy="181.5" rx="2.8" ry="1.9" transform="rotate(54 587.6 173.6)" fill="#111" fill-opacity="0.7"/><rect x="586.3" y="164.6" width="2.6" height="17" transform="rotate(54 587.6 173.6)" fill="#fff" fill-opacity="0.6"/><ellipse cx="561.1" cy="217.1" rx="2.8" ry="1.9" transform="rotate(1 565.1 225.1)" fill="#111" fill-opacity="0.7"/><ellipse cx="569.1" cy="217.1" rx="2.8" ry="1.9" transform="rotate(1 565.1 225.1)" fill="#111" fill-opacity="0.7"/><ellipse cx="561.1" cy="222.4" rx="2.8" ry="1.9" transform="rotate(1 565.1 225.1)" fill="#111" fill-opacity="0.7"/><ellipse cx="569.1" cy="222.4" rx="2.8" ry="1.9" transform="rotate(1 565.1 225.1)" fill="#111" fill-opacity="0.7"/><ellipse cx="561.1" cy="227.7" rx="2.8" ry="1.9" transform="rotate(1 565.1 225.1)" fill="#111" fill-opacity="0.7"/><ellipse cx="569.1" cy="227.7" rx="2.8" ry="1.9" transform="rotate(1 565.1 225.1)" fill="#111" fill-opacity="0.7"/><ellipse cx="561.1" cy="233.0" rx="2.8" ry="1.9" transform="rotate(1 565.1 225.1)" fill="#111" fill-opacity="0.7"/><ellipse cx="569.1" cy="233.0" rx="2.8" ry="1.9" transform="rotate(1 565.1 225.1)" fill="#111" fill-opacity="0.7"/><rect x="563.8" y="216.1" width="2.6" height="17" transform="rotate(1 565.1 225.1)" fill="#fff" fill-opacity="0.6"/><ellipse cx="503.2" cy="236.4" rx="2.8" ry="1.9" transform="rotate(61 507.2 244.4)" fill="#111" fill-opacity="0.7"/><ellipse cx="511.2" cy="236.4" rx="2.8" ry="1.9" transform="rotate(61 507.2 244.4)" fill="#111" fill-opacity="0.7"/><ellipse cx="503.2" cy="241.7" rx="2.8" ry="1.9" transform="rotate(61 507.2 244.4)" fill="#111" fill-opacity="0.7"/><ellipse cx="511.2" cy="241.7" rx="2.8" ry="1.9" transform="rotate(61 507.2 244.4)" fill="#111" fill-opacity="0.7"/><ellipse cx="503.2" cy="247.0" rx="2.8" ry="1.9" transform="rotate(61 507.2 244.4)" fill="#111" fill-opacity="0.7"/><ellipse cx="511.2" cy="247.0" rx="2.8" ry="1.9" transform="rotate(61 507.2 244.4)" fill="#111" fill-opacity="0.7"/><ellipse cx="503.2" cy="252.3" rx="2.8" ry="1.9" transform="rotate(61 507.2 244.4)" fill="#111" fill-opacity="0.7"/><ellipse cx="511.2" cy="252.3" rx="2.8" ry="1.9" transform="rotate(61 507.2 244.4)" fill="#111" fill-opacity="0.7"/><rect x="505.9" y="235.4" width="2.6" height="17" transform="rotate(61 507.2 244.4)" fill="#fff" fill-opacity="0.6"/><ellipse cx="580.4" cy="191.4" rx="2.8" ry="1.9" transform="rotate(147 584.4 199.4)" fill="#111" fill-opacity="0.7"/><ellipse cx="588.4" cy="191.4" rx="2.8" ry="1.9" transform="rotate(147 584.4 199.4)" fill="#111" fill-opacity="0.7"/><ellipse cx="580.4" cy="196.7" rx="2.8" ry="1.9" transform="rotate(147 584.4 199.4)" fill="#111" fill-opacity="0.7"/><ellipse cx="588.4" cy="196.7" rx="2.8" ry="1.9" transform="rotate(147 584.4 199.4)" fill="#111" fill-opacity="0.7"/><ellipse cx="580.4" cy="202.0" rx="2.8" ry="1.9" transform="rotate(147 584.4 199.4)" fill="#111" fill-opacity="0.7"/><ellipse cx="588.4" cy="202.0" rx="2.8" ry="1.9" transform="rotate(147 584.4 199.4)" fill="#111" fill-opacity="0.7"/><ellipse cx="580.4" cy="207.3" rx="2.8" ry="1.9" transform="rotate(147 584.4 199.4)" fill="#111" fill-opacity="0.7"/><ellipse cx="588.4" cy="207.3" rx="2.8" ry="1.9" transform="rotate(147 584.4 199.4)" fill="#111" fill-opacity="0.7"/><rect x="583.1" y="190.4" width="2.6" height="17" transform="rotate(147 584.4 199.4)" fill="#fff" fill-opacity="0.6"/><ellipse cx="487.1" cy="127.0" rx="2.8" ry="1.9" transform="rotate(57 491.1 135.0)" fill="#111" fill-opacity="0.7"/><ellipse cx="495.1" cy="127.0" rx="2.8" ry="1.9" transform="rotate(57 491.1 135.0)" fill="#111" fill-opacity="0.7"/><ellipse cx="487.1" cy="132.3" rx="2.8" ry="1.9" transform="rotate(57 491.1 135.0)" fill="#111" fill-opacity="0.7"/><ellipse cx="495.1" cy="132.3" rx="2.8" ry="1.9" transform="rotate(57 491.1 135.0)" fill="#111" fill-opacity="0.7"/><ellipse cx="487.1" cy="137.6" rx="2.8" ry="1.9" transform="rotate(57 491.1 135.0)" fill="#111" fill-opacity="0.7"/><ellipse cx="495.1" cy="137.6" rx="2.8" ry="1.9" transform="rotate(57 491.1 135.0)" fill="#111" fill-opacity="0.7"/><ellipse cx="487.1" cy="142.9" rx="2.8" ry="1.9" transform="rotate(57 491.1 135.0)" fill="#111" fill-opacity="0.7"/><ellipse cx="495.1" cy="142.9" rx="2.8" ry="1.9" transform="rotate(57 491.1 135.0)" fill="#111" fill-opacity="0.7"/><rect x="489.8" y="126.0" width="2.6" height="17" transform="rotate(57 491.1 135.0)" fill="#fff" fill-opacity="0.6"/><ellipse cx="432.5" cy="152.8" rx="2.8" ry="1.9" transform="rotate(127 436.5 160.8)" fill="#111" fill-opacity="0.7"/><ellipse cx="440.5" cy="152.8" rx="2.8" ry="1.9" transform="rotate(127 436.5 160.8)" fill="#111" fill-opacity="0.7"/><ellipse cx="432.5" cy="158.1" rx="2.8" ry="1.9" transform="rotate(127 436.5 160.8)" fill="#111" fill-opacity="0.7"/><ellipse cx="440.5" cy="158.1" rx="2.8" ry="1.9" transform="rotate(127 436.5 160.8)" fill="#111" fill-opacity="0.7"/><ellipse cx="432.5" cy="163.4" rx="2.8" ry="1.9" transform="rotate(127 436.5 160.8)" fill="#111" fill-opacity="0.7"/><ellipse cx="440.5" cy="163.4" rx="2.8" ry="1.9" transform="rotate(127 436.5 160.8)" fill="#111" fill-opacity="0.7"/><ellipse cx="432.5" cy="168.7" rx="2.8" ry="1.9" transform="rotate(127 436.5 160.8)" fill="#111" fill-opacity="0.7"/><ellipse cx="440.5" cy="168.7" rx="2.8" ry="1.9" transform="rotate(127 436.5 160.8)" fill="#111" fill-opacity="0.7"/><rect x="435.2" y="151.8" width="2.6" height="17" transform="rotate(127 436.5 160.8)" fill="#fff" fill-opacity="0.6"/><ellipse cx="548.2" cy="172.1" rx="2.8" ry="1.9" transform="rotate(176 552.2 180.1)" fill="#111" fill-opacity="0.7"/><ellipse cx="556.2" cy="172.1" rx="2.8" ry="1.9" transform="rotate(176 552.2 180.1)" fill="#111" fill-opacity="0.7"/><ellipse cx="548.2" cy="177.4" rx="2.8" ry="1.9" transform="rotate(176 552.2 180.1)" fill="#111" fill-opacity="0.7"/><ellipse cx="556.2" cy="177.4" rx="2.8" ry="1.9" transform="rotate(176 552.2 180.1)" fill="#111" fill-opacity="0.7"/><ellipse cx="548.2" cy="182.7" rx="2.8" ry="1.9" transform="rotate(176 552.2 180.1)" fill="#111" fill-opacity="0.7"/><ellipse cx="556.2" cy="182.7" rx="2.8" ry="1.9" transform="rotate(176 552.2 180.1)" fill="#111" fill-opacity="0.7"/><ellipse cx="548.2" cy="188.0" rx="2.8" ry="1.9" transform="rotate(176 552.2 180.1)" fill="#111" fill-opacity="0.7"/><ellipse cx="556.2" cy="188.0" rx="2.8" ry="1.9" transform="rotate(176 552.2 180.1)" fill="#111" fill-opacity="0.7"/><rect x="550.9" y="171.1" width="2.6" height="17" transform="rotate(176 552.2 180.1)" fill="#fff" fill-opacity="0.6"/></g><rect x="424" y="30" width="175" height="236" fill="none" stroke="#000" stroke-width="2"/><rect x="449" y="29" width="119.70000000000005" height="24.1" fill="#bdbdbd"/><text x="449.3" y="48.8" font-size="22" text-anchor="start" fill="#ffff00" font-weight="normal"  textLength="119.10000000000005" lengthAdjust="spacingAndGlyphs">on graphene</text><rect x="533" y="258" width="58" height="3.3999999999999773" fill="#fff"/><text x="545.2" y="253.3" font-size="13.5" text-anchor="start" fill="#fff" font-weight="bold"  textLength="39.799999999999955" lengthAdjust="spacingAndGlyphs">50 nm</text><text x="375.0" y="32.0" font-size="21" text-anchor="start" fill="#000" font-weight="bold" >b</text><rect x="423.2" y="325.8" width="178.8" height="241.8" fill="#999" filter="url(#ne)"/><g filter="url(#pblur)"><circle cx="506.6" cy="434.3" r="3.6" fill="#f4f4f4" fill-opacity="0.3" stroke="#1a1a1a" stroke-opacity="0.7" stroke-width="2.2" stroke-dasharray="3,1.4"/><circle cx="453.8" cy="531.3" r="3.6" fill="#f4f4f4" fill-opacity="0.3" stroke="#1a1a1a" stroke-opacity="0.7" stroke-width="2.2" stroke-dasharray="3,1.4"/><circle cx="432.2" cy="459.7" r="3.6" fill="#f4f4f4" fill-opacity="0.3" stroke="#1a1a1a" stroke-opacity="0.7" stroke-width="2.2" stroke-dasharray="3,1.4"/><circle cx="577.4" cy="376.7" r="3.6" fill="#f4f4f4" fill-opacity="0.3" stroke="#1a1a1a" stroke-opacity="0.7" stroke-width="2.2" stroke-dasharray="3,1.4"/><circle cx="521.4" cy="482.2" r="3.6" fill="#f4f4f4" fill-opacity="0.3" stroke="#1a1a1a" stroke-opacity="0.7" stroke-width="2.2" stroke-dasharray="3,1.4"/><circle cx="437.9" cy="435.4" r="3.6" fill="#f4f4f4" fill-opacity="0.3" stroke="#1a1a1a" stroke-opacity="0.7" stroke-width="2.2" stroke-dasharray="3,1.4"/><circle cx="545.7" cy="449.8" r="3.6" fill="#f4f4f4" fill-opacity="0.3" stroke="#1a1a1a" stroke-opacity="0.7" stroke-width="2.2" stroke-dasharray="3,1.4"/><circle cx="549.2" cy="391.7" r="3.6" fill="#f4f4f4" fill-opacity="0.3" stroke="#1a1a1a" stroke-opacity="0.7" stroke-width="2.2" stroke-dasharray="3,1.4"/><circle cx="469.9" cy="382.6" r="3.6" fill="#f4f4f4" fill-opacity="0.3" stroke="#1a1a1a" stroke-opacity="0.7" stroke-width="2.2" stroke-dasharray="3,1.4"/><circle cx="513.6" cy="542.6" r="3.6" fill="#f4f4f4" fill-opacity="0.3" stroke="#1a1a1a" stroke-opacity="0.7" stroke-width="2.2" stroke-dasharray="3,1.4"/><circle cx="527.3" cy="513.2" r="3.6" fill="#f4f4f4" fill-opacity="0.3" stroke="#1a1a1a" stroke-opacity="0.7" stroke-width="2.2" stroke-dasharray="3,1.4"/><circle cx="493.7" cy="507.6" r="3.6" fill="#f4f4f4" fill-opacity="0.3" stroke="#1a1a1a" stroke-opacity="0.7" stroke-width="2.2" stroke-dasharray="3,1.4"/><circle cx="447.8" cy="418.1" r="3.6" fill="#f4f4f4" fill-opacity="0.3" stroke="#1a1a1a" stroke-opacity="0.7" stroke-width="2.2" stroke-dasharray="3,1.4"/><circle cx="541.0" cy="503.6" r="3.6" fill="#f4f4f4" fill-opacity="0.3" stroke="#1a1a1a" stroke-opacity="0.7" stroke-width="2.2" stroke-dasharray="3,1.4"/><circle cx="499.9" cy="378.1" r="3.6" fill="#f4f4f4" fill-opacity="0.3" stroke="#1a1a1a" stroke-opacity="0.7" stroke-width="2.2" stroke-dasharray="3,1.4"/><circle cx="474.6" cy="402.1" r="3.6" fill="#f4f4f4" fill-opacity="0.3" stroke="#1a1a1a" stroke-opacity="0.7" stroke-width="2.2" stroke-dasharray="3,1.4"/><circle cx="477.0" cy="520.1" r="3.6" fill="#f4f4f4" fill-opacity="0.3" stroke="#1a1a1a" stroke-opacity="0.7" stroke-width="2.2" stroke-dasharray="3,1.4"/><circle cx="463.7" cy="535.2" r="3.6" fill="#f4f4f4" fill-opacity="0.3" stroke="#1a1a1a" stroke-opacity="0.7" stroke-width="2.2" stroke-dasharray="3,1.4"/><circle cx="574.4" cy="371.6" r="3.6" fill="#f4f4f4" fill-opacity="0.3" stroke="#1a1a1a" stroke-opacity="0.7" stroke-width="2.2" stroke-dasharray="3,1.4"/><circle cx="492.9" cy="457.6" r="3.6" fill="#f4f4f4" fill-opacity="0.3" stroke="#1a1a1a" stroke-opacity="0.7" stroke-width="2.2" stroke-dasharray="3,1.4"/><circle cx="435.0" cy="444.4" r="3.6" fill="#f4f4f4" fill-opacity="0.3" stroke="#1a1a1a" stroke-opacity="0.7" stroke-width="2.2" stroke-dasharray="3,1.4"/><circle cx="578.8" cy="382.9" r="3.6" fill="#f4f4f4" fill-opacity="0.3" stroke="#1a1a1a" stroke-opacity="0.7" stroke-width="2.2" stroke-dasharray="3,1.4"/><circle cx="528.4" cy="384.7" r="3.6" fill="#f4f4f4" fill-opacity="0.3" stroke="#1a1a1a" stroke-opacity="0.7" stroke-width="2.2" stroke-dasharray="3,1.4"/><circle cx="525.4" cy="537.0" r="3.6" fill="#f4f4f4" fill-opacity="0.3" stroke="#1a1a1a" stroke-opacity="0.7" stroke-width="2.2" stroke-dasharray="3,1.4"/><circle cx="464.3" cy="362.4" r="3.6" fill="#f4f4f4" fill-opacity="0.3" stroke="#1a1a1a" stroke-opacity="0.7" stroke-width="2.2" stroke-dasharray="3,1.4"/><circle cx="444.8" cy="467.0" r="3.6" fill="#f4f4f4" fill-opacity="0.3" stroke="#1a1a1a" stroke-opacity="0.7" stroke-width="2.2" stroke-dasharray="3,1.4"/><circle cx="434.0" cy="377.5" r="3.6" fill="#f4f4f4" fill-opacity="0.3" stroke="#1a1a1a" stroke-opacity="0.7" stroke-width="2.2" stroke-dasharray="3,1.4"/><circle cx="512.1" cy="542.0" r="3.6" fill="#f4f4f4" fill-opacity="0.3" stroke="#1a1a1a" stroke-opacity="0.7" stroke-width="2.2" stroke-dasharray="3,1.4"/><circle cx="499.6" cy="439.2" r="3.6" fill="#f4f4f4" fill-opacity="0.3" stroke="#1a1a1a" stroke-opacity="0.7" stroke-width="2.2" stroke-dasharray="3,1.4"/><circle cx="535.2" cy="379.2" r="3.6" fill="#f4f4f4" fill-opacity="0.3" stroke="#1a1a1a" stroke-opacity="0.7" stroke-width="2.2" stroke-dasharray="3,1.4"/><circle cx="525.6" cy="394.8" r="3.6" fill="#f4f4f4" fill-opacity="0.3" stroke="#1a1a1a" stroke-opacity="0.7" stroke-width="2.2" stroke-dasharray="3,1.4"/><circle cx="530.3" cy="549.4" r="3.6" fill="#f4f4f4" fill-opacity="0.3" stroke="#1a1a1a" stroke-opacity="0.7" stroke-width="2.2" stroke-dasharray="3,1.4"/><circle cx="440.0" cy="470.0" r="3.6" fill="#f4f4f4" fill-opacity="0.3" stroke="#1a1a1a" stroke-opacity="0.7" stroke-width="2.2" stroke-dasharray="3,1.4"/><circle cx="529.9" cy="390.2" r="3.6" fill="#f4f4f4" fill-opacity="0.3" stroke="#1a1a1a" stroke-opacity="0.7" stroke-width="2.2" stroke-dasharray="3,1.4"/><circle cx="474.9" cy="556.6" r="3.6" fill="#f4f4f4" fill-opacity="0.3" stroke="#1a1a1a" stroke-opacity="0.7" stroke-width="2.2" stroke-dasharray="3,1.4"/><circle cx="593.7" cy="384.7" r="3.6" fill="#f4f4f4" fill-opacity="0.3" stroke="#1a1a1a" stroke-opacity="0.7" stroke-width="2.2" stroke-dasharray="3,1.4"/><circle cx="546.1" cy="547.9" r="3.6" fill="#f4f4f4" fill-opacity="0.3" stroke="#1a1a1a" stroke-opacity="0.7" stroke-width="2.2" stroke-dasharray="3,1.4"/><circle cx="469.7" cy="481.1" r="3.6" fill="#f4f4f4" fill-opacity="0.3" stroke="#1a1a1a" stroke-opacity="0.7" stroke-width="2.2" stroke-dasharray="3,1.4"/><circle cx="438.2" cy="432.8" r="3.6" fill="#f4f4f4" fill-opacity="0.3" stroke="#1a1a1a" stroke-opacity="0.7" stroke-width="2.2" stroke-dasharray="3,1.4"/><circle cx="540.9" cy="477.0" r="3.6" fill="#f4f4f4" fill-opacity="0.3" stroke="#1a1a1a" stroke-opacity="0.7" stroke-width="2.2" stroke-dasharray="3,1.4"/><circle cx="557.3" cy="377.9" r="3.6" fill="#f4f4f4" fill-opacity="0.3" stroke="#1a1a1a" stroke-opacity="0.7" stroke-width="2.2" stroke-dasharray="3,1.4"/><circle cx="487.7" cy="530.8" r="3.6" fill="#f4f4f4" fill-opacity="0.3" stroke="#1a1a1a" stroke-opacity="0.7" stroke-width="2.2" stroke-dasharray="3,1.4"/><circle cx="526.3" cy="449.6" r="3.6" fill="#f4f4f4" fill-opacity="0.3" stroke="#1a1a1a" stroke-opacity="0.7" stroke-width="2.2" stroke-dasharray="3,1.4"/><circle cx="496.7" cy="554.9" r="3.6" fill="#f4f4f4" fill-opacity="0.3" stroke="#1a1a1a" stroke-opacity="0.7" stroke-width="2.2" stroke-dasharray="3,1.4"/><circle cx="524.7" cy="364.4" r="3.6" fill="#f4f4f4" fill-opacity="0.3" stroke="#1a1a1a" stroke-opacity="0.7" stroke-width="2.2" stroke-dasharray="3,1.4"/><circle cx="561.3" cy="425.5" r="3.6" fill="#f4f4f4" fill-opacity="0.3" stroke="#1a1a1a" stroke-opacity="0.7" stroke-width="2.2" stroke-dasharray="3,1.4"/><circle cx="501.8" cy="402.8" r="3.6" fill="#f4f4f4" fill-opacity="0.3" stroke="#1a1a1a" stroke-opacity="0.7" stroke-width="2.2" stroke-dasharray="3,1.4"/><circle cx="503.5" cy="424.7" r="3.6" fill="#f4f4f4" fill-opacity="0.3" stroke="#1a1a1a" stroke-opacity="0.7" stroke-width="2.2" stroke-dasharray="3,1.4"/><circle cx="445.7" cy="484.7" r="3.6" fill="#f4f4f4" fill-opacity="0.3" stroke="#1a1a1a" stroke-opacity="0.7" stroke-width="2.2" stroke-dasharray="3,1.4"/><circle cx="448.0" cy="515.1" r="3.6" fill="#f4f4f4" fill-opacity="0.3" stroke="#1a1a1a" stroke-opacity="0.7" stroke-width="2.2" stroke-dasharray="3,1.4"/><circle cx="435.3" cy="514.4" r="3.6" fill="#f4f4f4" fill-opacity="0.3" stroke="#1a1a1a" stroke-opacity="0.7" stroke-width="2.2" stroke-dasharray="3,1.4"/><circle cx="562.7" cy="458.7" r="3.6" fill="#f4f4f4" fill-opacity="0.3" stroke="#1a1a1a" stroke-opacity="0.7" stroke-width="2.2" stroke-dasharray="3,1.4"/><circle cx="546.7" cy="409.7" r="3.6" fill="#f4f4f4" fill-opacity="0.3" stroke="#1a1a1a" stroke-opacity="0.7" stroke-width="2.2" stroke-dasharray="3,1.4"/><circle cx="551.3" cy="444.4" r="3.6" fill="#f4f4f4" fill-opacity="0.3" stroke="#1a1a1a" stroke-opacity="0.7" stroke-width="2.2" stroke-dasharray="3,1.4"/><circle cx="468.8" cy="550.5" r="3.6" fill="#f4f4f4" fill-opacity="0.3" stroke="#1a1a1a" stroke-opacity="0.7" stroke-width="2.2" stroke-dasharray="3,1.4"/><circle cx="496.5" cy="434.2" r="3.6" fill="#f4f4f4" fill-opacity="0.3" stroke="#1a1a1a" stroke-opacity="0.7" stroke-width="2.2" stroke-dasharray="3,1.4"/><circle cx="571.2" cy="433.5" r="3.6" fill="#f4f4f4" fill-opacity="0.3" stroke="#1a1a1a" stroke-opacity="0.7" stroke-width="2.2" stroke-dasharray="3,1.4"/><circle cx="539.9" cy="394.5" r="3.6" fill="#f4f4f4" fill-opacity="0.3" stroke="#1a1a1a" stroke-opacity="0.7" stroke-width="2.2" stroke-dasharray="3,1.4"/><circle cx="568.5" cy="411.8" r="3.6" fill="#f4f4f4" fill-opacity="0.3" stroke="#1a1a1a" stroke-opacity="0.7" stroke-width="2.2" stroke-dasharray="3,1.4"/><circle cx="439.4" cy="552.7" r="3.6" fill="#f4f4f4" fill-opacity="0.3" stroke="#1a1a1a" stroke-opacity="0.7" stroke-width="2.2" stroke-dasharray="3,1.4"/></g><rect x="423.2" y="325.8" width="178.8" height="241.8" fill="none" stroke="#000" stroke-width="2"/><rect x="451" y="326.8" width="120" height="24.599999999999966" fill="#bdbdbd"/><text x="451.3" y="344.6" font-size="22" text-anchor="start" fill="#ffff00" font-weight="normal"  textLength="119.4" lengthAdjust="spacingAndGlyphs">on graphene</text><rect x="537" y="559" width="58.799999999999955" height="3.3999999999999773" fill="#fff"/><text x="549.0" y="555.5" font-size="13.5" text-anchor="start" fill="#fff" font-weight="bold"  textLength="41" lengthAdjust="spacingAndGlyphs">50 nm</text><text x="375.0" y="336.5" font-size="21" text-anchor="start" fill="#000" font-weight="bold" >e</text><line x1="350.5" y1="176" x2="423" y2="31" stroke="#333" stroke-width="0.9" stroke-dasharray="4,3"/><line x1="350.5" y1="176.5" x2="422" y2="263" stroke="#333" stroke-width="0.9" stroke-dasharray="4,3"/><line x1="354" y1="456" x2="422" y2="327" stroke="#333" stroke-width="0.9" stroke-dasharray="4,3"/><line x1="354" y1="472" x2="422" y2="566" stroke="#333" stroke-width="0.9" stroke-dasharray="4,3"/><path d="M729.7 235.4h0M743.2 241.4h0M750.0 244.1h0M792.7 255.6h0M829.3 259.0h0M894.9 250.8h0M902.0 248.8h0M803.5 250.1h0M818.2 251.5h0M869.8 249.0h0M898.7 242.5h0M919.6 235.2h0M807.0 243.5h0M829.3 245.0h0M888.2 238.1h0M895.3 236.2h0M909.5 231.6h0M916.4 228.9h0M803.2 236.0h0M862.8 236.0h0M870.1 234.8h0M906.2 225.3h0" stroke="#3a4fe0" stroke-width="3.2" stroke-linecap="round" fill="none"/><path d="M736.4 238.5h0M757.0 246.5h0M764.0 248.8h0M785.4 254.2h0M807.3 257.6h0M858.7 257.6h0M887.8 252.6h0M922.8 241.4h0M732.8 229.2h0M746.4 235.2h0M788.9 247.8h0M825.6 251.9h0M840.4 251.9h0M926.4 232.3h0M763.6 234.0h0M792.4 241.3h0M930.0 222.9h0M892.0 229.8h0M913.2 222.7h0" stroke="#3a4fe0" stroke-width="4.0" stroke-linecap="round" fill="none"/><path d="M771.1 250.8h0M778.2 252.6h0M814.6 258.3h0M844.0 258.7h0M936.3 235.4h0M774.5 244.5h0M781.6 246.2h0M833.0 252.0h0M847.8 251.5h0M756.5 231.6h0M866.3 242.5h0M873.6 241.3h0M745.9 219.8h0M818.1 237.5h0M825.5 237.9h0M877.5 233.4h0M899.1 227.7h0M920.1 219.8h0" stroke="#3a4fe0" stroke-width="2.0" stroke-linecap="round" fill="none"/><path d="M799.9 256.7h0M866.1 256.7h0M873.3 255.6h0M909.0 246.5h0M916.0 244.1h0M929.6 238.5h0M855.2 250.9h0M884.4 246.2h0M905.7 240.3h0M736.0 222.9h0M851.6 244.2h0M902.4 234.0h0M739.1 216.7h0M752.8 222.7h0M833.0 238.0h0M884.8 231.7h0M926.9 216.7h0M910.0 216.4h0M923.7 210.4h0M745.4 204.2h0M899.6 212.8h0M889.1 208.8h0M765.0 197.4h0M894.1 199.9h0M914.4 191.6h0" stroke="#3a4fe0" stroke-width="1.8" stroke-linecap="round" fill="none"/><path d="M822.0 258.7h0M851.4 258.3h0M880.6 254.2h0M739.6 232.3h0M753.3 237.8h0M760.3 240.3h0M767.3 242.5h0M796.2 249.0h0M877.1 247.8h0M891.5 244.5h0M933.2 229.2h0M777.8 238.1h0M785.1 239.8h0M799.7 242.5h0M814.4 244.2h0M836.7 245.0h0M844.1 244.7h0M859.0 243.5h0M880.9 239.8h0M923.3 226.0h0M774.0 229.8h0M795.9 234.8h0M810.6 236.8h0M840.5 237.9h0M847.9 237.5h0M855.4 236.8h0M833.0 77.0h0M847.7 75.0h0M820.1 68.3h0M848.9 59.9h0" stroke="#a4a8d0" stroke-width="1.6" stroke-linecap="round" fill="none"/><path d="M836.7 259.0h0M810.8 250.9h0M862.5 250.1h0M912.7 237.8h0M742.7 226.0h0M749.6 228.9h0M770.7 236.2h0M821.9 244.7h0M759.8 225.3h0M766.9 227.7h0M781.2 231.7h0M788.5 233.4h0" stroke="#3a4fe0" stroke-width="2.6" stroke-linecap="round" fill="none"/><path d="M742.3 210.4h0M784.7 225.4h0M799.4 228.3h0M814.3 230.2h0M844.2 230.7h0M888.6 223.5h0M895.8 221.4h0M780.8 217.2h0M788.1 219.0h0M810.4 222.7h0M817.9 223.4h0M833.0 224.0h0M855.6 222.7h0M877.9 219.0h0M885.2 217.2h0M892.5 215.1h0M906.7 210.2h0M913.7 207.3h0M920.6 204.2h0M748.6 197.9h0M755.5 201.1h0M829.2 217.0h0M859.5 215.2h0M867.0 214.0h0M874.4 212.6h0M896.3 206.5h0M910.5 201.1h0M917.4 197.9h0M771.9 199.9h0M778.9 202.1h0M800.2 207.1h0M807.5 208.3h0M814.7 209.1h0M851.3 209.1h0M858.5 208.3h0M880.1 204.1h0M901.0 197.4h0M754.7 185.4h0M761.4 188.4h0M768.3 191.1h0M775.2 193.6h0M782.2 195.8h0M796.5 199.3h0M833.0 203.0h0M862.3 200.6h0M869.5 199.3h0M897.7 191.1h0M785.6 189.5h0M799.9 192.9h0M814.6 195.0h0M821.9 195.6h0M829.3 196.0h0M866.1 192.9h0M908.1 179.1h0M767.8 175.9h0M774.8 178.6h0M796.1 184.9h0M810.8 187.5h0M840.4 188.8h0M869.9 184.9h0M891.2 178.6h0M898.2 175.9h0M905.0 172.8h0M785.1 174.7h0M799.6 178.5h0M806.9 179.9h0M829.3 182.0h0M866.4 178.5h0M888.0 172.3h0M895.0 169.6h0M803.1 172.1h0M810.5 173.3h0M825.5 174.8h0M848.0 174.3h0M891.7 163.4h0M777.5 157.1h0M821.6 167.6h0M881.4 159.8h0M829.4 161.0h0M836.6 161.0h0M851.0 159.8h0M865.2 157.2h0M872.2 155.4h0M790.1 146.9h0M804.1 150.8h0M811.3 152.2h0M825.7 153.8h0M847.5 153.2h0M854.7 152.2h0M868.9 149.1h0M822.0 146.5h0M851.2 145.7h0M858.5 144.4h0M865.6 142.7h0M872.6 140.6h0M783.0 129.0h0M825.6 139.8h0M847.7 139.1h0M855.0 138.0h0M793.0 125.6h0M800.0 128.0h0M807.2 130.0h0M814.5 131.5h0M821.9 132.4h0M844.1 132.4h0M873.0 125.6h0M818.0 124.9h0M840.5 125.7h0M848.0 124.9h0M855.4 123.6h0M862.6 121.7h0M799.5 113.1h0M821.6 118.3h0M829.2 118.9h0M836.8 118.9h0M801.9 106.5h0M822.4 111.4h0M843.6 111.4h0M798.5 97.6h0M867.5 97.6h0M808.3 94.0h0M836.6 97.9h0M843.7 97.3h0M850.8 95.9h0M857.7 94.0h0M864.3 91.4h0M818.6 89.5h0M825.8 90.6h0M854.4 87.7h0M861.2 85.1h0M814.9 81.4h0M822.0 83.0h0M829.3 83.9h0M844.0 83.0h0M851.1 81.4h0M858.0 78.9h0M833.0 70.0h0M839.5 69.6h0M852.1 66.2h0M817.1 59.9h0M829.7 62.9h0M842.7 61.9h0M820.2 53.6h0" stroke="#a4a8d0" stroke-width="1.0" stroke-linecap="round" fill="none"/><path d="M749.1 213.5h0M756.0 216.4h0M770.2 221.4h0M777.4 223.5h0M902.9 219.0h0M752.3 207.3h0M762.5 203.9h0M769.7 206.5h0M784.2 210.8h0M881.8 210.8h0M751.6 191.6h0M907.7 194.6h0M811.2 72.6h0M818.3 75.0h0M840.4 76.5h0M854.8 72.6h0M845.8 53.6h0" stroke="#3a4fe0" stroke-width="2.2" stroke-linecap="round" fill="none"/><path d="M763.1 219.0h0M792.0 227.0h0M821.8 230.7h0M829.2 231.0h0M836.8 231.0h0M874.0 227.0h0M881.3 225.4h0M916.9 213.5h0M759.3 210.2h0M766.4 212.8h0M773.5 215.1h0M795.5 220.5h0M840.5 223.9h0M870.5 220.5h0M776.9 208.8h0M791.6 212.6h0M799.0 214.0h0M806.5 215.2h0M814.1 216.1h0M836.8 217.0h0M903.5 203.9h0M758.3 194.6h0M785.9 204.1h0M793.1 205.7h0M822.0 209.7h0M829.3 210.0h0M836.7 210.0h0M844.0 209.7h0M887.1 202.1h0M818.3 202.4h0M825.6 202.9h0M840.4 202.9h0M883.8 195.8h0M904.6 188.4h0M911.3 185.4h0M778.5 187.3h0M792.7 191.3h0M844.1 195.6h0M851.4 195.0h0M873.3 191.3h0M887.5 187.3h0M901.4 182.1h0M781.8 181.0h0M788.9 183.1h0M855.2 187.5h0M862.6 186.4h0M877.1 183.1h0M884.2 181.0h0M764.2 166.6h0M771.0 169.6h0M778.0 172.3h0M821.8 181.6h0M844.2 181.6h0M880.9 174.7h0M901.8 166.6h0M767.4 160.3h0M781.3 166.1h0M788.4 168.4h0M840.5 174.8h0M855.5 173.3h0M862.9 172.1h0M877.6 168.4h0M884.7 166.1h0M898.6 160.3h0M784.6 159.8h0M806.6 165.6h0M829.2 168.0h0M859.4 165.6h0M866.9 164.1h0M895.5 154.1h0M786.9 153.2h0M793.8 155.4h0M800.8 157.2h0M815.0 159.8h0M822.2 160.6h0M843.8 160.6h0M858.2 158.7h0M879.1 153.2h0M885.9 150.6h0M783.3 144.4h0M818.5 153.2h0M833.0 154.0h0M840.3 153.8h0M882.7 144.4h0M889.4 141.5h0M793.4 140.6h0M836.7 146.9h0M879.5 138.1h0M803.8 136.4h0M811.0 138.0h0M840.4 139.8h0M883.0 129.0h0M786.1 122.7h0M836.7 132.9h0M866.0 128.0h0M879.9 122.7h0M796.2 119.4h0M803.4 121.7h0M833.0 126.0h0M869.8 119.4h0M876.7 116.5h0M792.5 110.2h0M866.5 113.1h0M795.3 103.9h0M808.6 108.7h0M815.5 110.3h0M836.5 111.9h0M864.1 106.5h0M870.7 103.9h0M805.1 100.2h0M811.9 102.3h0M818.8 103.8h0M847.2 103.8h0M801.7 91.4h0M822.3 97.3h0M804.8 85.1h0M811.6 87.7h0M847.4 89.5h0M808.0 78.9h0" stroke="#a4a8d0" stroke-width="0.8" stroke-linecap="round" fill="none"/><path d="M806.8 229.4h0M851.7 230.2h0M859.2 229.4h0M866.6 228.3h0M802.9 221.8h0M825.5 223.9h0M848.1 223.4h0M863.1 221.8h0M821.6 216.7h0M844.4 216.7h0M851.9 216.1h0M865.8 207.1h0M872.9 205.7h0" stroke="#a4a8d0" stroke-width="1.2" stroke-linecap="round" fill="none"/><path d="M825.6 76.5h0M813.9 66.2h0M826.5 69.6h0M845.9 68.3h0M823.3 61.9h0M836.3 62.9h0M826.5 55.4h0M833.0 56.0h0M839.5 55.4h0" stroke="#3a4fe0" stroke-width="2.8" stroke-linecap="round" fill="none"/><circle cx="826" cy="43" r="4.5" fill="#78e070" fill-opacity="0.85"/><circle cx="840" cy="43" r="4.5" fill="#78e070" fill-opacity="0.85"/><circle cx="833" cy="38" r="5" fill="#70e878" fill-opacity="0.85"/><circle cx="824" cy="50" r="4.5" fill="#90f080" fill-opacity="0.85"/><circle cx="842" cy="50" r="4.5" fill="#90f080" fill-opacity="0.85"/><circle cx="833" cy="27" r="3" fill="#4a6ee8" fill-opacity="0.85"/><circle cx="838" cy="35" r="3" fill="#50c8e0" fill-opacity="0.85"/><circle cx="828" cy="35" r="3" fill="#50c8e0" fill-opacity="0.85"/><circle cx="848" cy="47" r="3" fill="#50c8d8" fill-opacity="0.85"/><circle cx="728" cy="229" r="5" fill="#50b8f0" fill-opacity="0.85"/><circle cx="733" cy="237" r="7" fill="#80e860" fill-opacity="0.85"/><circle cx="742" cy="243" r="9" fill="#a0f050" fill-opacity="0.85"/><circle cx="752" cy="235" r="7" fill="#90ec70" fill-opacity="0.85"/><circle cx="756" cy="245" r="9" fill="#b8f040" fill-opacity="0.85"/><circle cx="764" cy="238" r="8" fill="#c8f050" fill-opacity="0.85"/><circle cx="770" cy="247" r="10" fill="#e8e040" fill-opacity="0.85"/><circle cx="778" cy="241" r="8" fill="#f0e040" fill-opacity="0.85"/><circle cx="782" cy="249" r="9" fill="#f0c838" fill-opacity="0.85"/><circle cx="790" cy="243" r="9" fill="#f86030" fill-opacity="0.85"/><circle cx="800" cy="247" r="11" fill="#f83828" fill-opacity="0.85"/><circle cx="810" cy="249" r="10" fill="#f84830" fill-opacity="0.85"/><circle cx="816" cy="251" r="8" fill="#f88838" fill-opacity="0.85"/><circle cx="795" cy="253" r="7" fill="#f0a040" fill-opacity="0.85"/><circle cx="820" cy="247" r="6" fill="#c0e050" fill-opacity="0.85"/><circle cx="776" cy="253" r="6" fill="#a0d860" fill-opacity="0.85"/><circle cx="806" cy="255" r="5" fill="#60b8c0" fill-opacity="0.85"/><circle cx="745" cy="231" r="6" fill="#60e8a0" fill-opacity="0.85"/><circle cx="760" cy="231" r="5" fill="#70e0d0" fill-opacity="0.85"/><circle cx="822" cy="240" r="5" fill="#50d0e0" fill-opacity="0.85"/><path d="M819.5,47.8 A30.3,30.3 0 0 0 846.5,47.8" fill="none" stroke="#111" stroke-width="1" stroke-dasharray="1.4,1"/><path d="M805.9,74.9 A60.6,60.6 0 0 0 860.1,74.9" fill="none" stroke="#111" stroke-width="1" stroke-dasharray="1.4,1"/><path d="M792.4,102.0 A90.9,90.9 0 0 0 873.6,102.0" fill="none" stroke="#111" stroke-width="1" stroke-dasharray="1.4,1"/><path d="M778.8,129.0 A121.2,121.2 0 0 0 887.2,129.0" fill="none" stroke="#111" stroke-width="1" stroke-dasharray="1.4,1"/><path d="M765.3,156.1 A151.4,151.4 0 0 0 900.7,156.1" fill="none" stroke="#111" stroke-width="1" stroke-dasharray="1.4,1"/><path d="M751.7,183.2 A181.7,181.7 0 0 0 914.3,183.2" fill="none" stroke="#111" stroke-width="1" stroke-dasharray="1.4,1"/><path d="M738.2,210.3 A212.0,212.0 0 0 0 927.8,210.3" fill="none" stroke="#111" stroke-width="1" stroke-dasharray="1.4,1"/><path d="M724.3,238 L833,20.7 L941.7,238 A242.3,242.3 0 0 1 724.3,238 Z" fill="none" stroke="#000" stroke-width="1.4" stroke-linejoin="miter"/><line x1="833" y1="20.7" x2="833" y2="263" stroke="#222" stroke-width="1.5"/><circle cx="833" cy="263" r="2" fill="#000"/><path d="M715.4 542.2h0M764.1 562.0h0M786.0 567.2h0M808.3 570.4h0M875.6 567.5h0M746.3 548.7h0M804.7 563.0h0M812.2 563.7h0M834.8 564.5h0M929.9 543.3h0M729.0 533.5h0M749.8 542.5h0M757.0 545.1h0M771.5 549.5h0M861.5 555.6h0M752.3 536.0h0M759.2 538.5h0M802.1 548.5h0M816.7 550.0h0M896.5 540.9h0M910.4 536.2h0M818.3 388.1h0M848.0 387.3h0M822.2 381.7h0M810.7 370.8h0M843.1 374.1h0M817.5 358.5h0M823.8 360.6h0" stroke="#3a4fe0" stroke-width="2.6" stroke-linecap="round" fill="none"/><path d="M722.1 545.7h0M749.8 557.4h0M778.6 565.7h0M793.4 568.5h0M883.0 566.0h0M897.6 562.4h0M732.4 542.8h0M857.4 563.1h0M831.3 557.5h0M838.9 557.4h0M846.5 557.0h0M876.5 553.1h0M891.2 549.7h0M905.7 545.3h0M912.9 542.7h0M919.9 539.9h0M882.3 544.7h0M903.5 538.6h0M917.2 533.5h0" stroke="#3a4fe0" stroke-width="2.0" stroke-linecap="round" fill="none"/><path d="M728.9 548.9h0M742.7 554.8h0M800.8 569.6h0M815.8 571.0h0M853.3 570.5h0M725.6 539.6h0M739.3 545.9h0M775.0 557.7h0M827.3 564.5h0M887.1 557.9h0M735.9 536.7h0M793.6 554.4h0M801.1 555.5h0M823.8 557.4h0M854.0 556.4h0M869.0 554.4h0M794.8 547.5h0M875.1 546.2h0M825.7 389.2h0M855.1 385.0h0M814.8 379.9h0M837.3 382.2h0M844.8 380.9h0M852.0 378.6h0M823.3 374.8h0M829.9 375.5h0M814.1 364.7h0M830.4 361.5h0M837.0 361.1h0" stroke="#3a4fe0" stroke-width="1.8" stroke-linecap="round" fill="none"/><path d="M735.8 552.0h0M823.3 571.4h0M838.3 571.4h0M860.8 569.8h0M919.0 555.4h0M718.9 536.1h0M782.4 559.4h0M849.9 563.8h0M864.9 562.2h0M872.4 561.0h0M901.7 553.9h0M915.9 549.1h0M722.3 530.0h0M742.8 539.7h0M764.2 547.4h0M778.8 551.4h0M926.9 536.9h0M725.6 523.8h0M732.1 527.2h0M773.3 542.8h0M831.3 550.5h0M846.0 550.0h0M924.0 530.6h0" stroke="#3a4fe0" stroke-width="3.2" stroke-linecap="round" fill="none"/><path d="M756.9 559.8h0M830.8 571.5h0M868.2 568.7h0M890.3 564.4h0M904.8 560.3h0M926.0 552.6h0M789.8 560.8h0M842.4 564.3h0M879.8 559.6h0M908.8 551.6h0M816.2 557.0h0M898.5 547.6h0M738.8 530.3h0M787.6 546.1h0M824.0 550.4h0M853.3 549.4h0M860.6 548.6h0M735.6 521.1h0M769.8 534.5h0M776.9 536.5h0M784.1 538.2h0M805.9 542.0h0M759.4 523.7h0M766.4 526.1h0M787.8 531.9h0M802.4 534.5h0M839.3 536.4h0M904.3 523.5h0M742.5 508.9h0M749.2 512.0h0M777.1 522.1h0M784.3 523.9h0M798.9 526.8h0M828.4 529.5h0M879.9 523.7h0M894.2 519.6h0M752.7 505.9h0M773.7 513.7h0M795.4 519.1h0M869.4 518.8h0M905.1 508.2h0M911.9 505.3h0" stroke="#a4a8d0" stroke-width="1.6" stroke-linecap="round" fill="none"/><path d="M771.3 564.0h0M845.8 571.1h0M911.9 557.9h0M932.9 549.6h0M753.4 551.3h0M760.5 553.6h0M767.8 555.8h0M797.2 562.0h0M819.8 564.2h0M894.4 556.1h0M922.9 546.3h0M786.2 553.0h0M808.7 556.4h0M883.9 551.5h0M745.5 533.3h0M766.2 540.7h0M780.4 544.6h0M809.4 549.4h0M838.7 550.4h0M867.9 547.5h0M889.4 542.9h0M742.3 524.2h0M755.9 529.9h0M762.8 532.3h0M813.2 542.7h0M850.0 542.7h0M857.3 542.0h0M907.3 529.8h0M732.5 511.6h0M739.0 515.0h0M773.5 528.3h0M780.6 530.2h0M809.7 535.4h0M824.5 536.4h0M831.9 536.5h0M854.0 535.3h0M861.3 534.4h0M897.3 526.0h0M763.0 517.6h0M813.6 528.7h0M821.0 529.2h0M908.1 514.5h0M739.3 499.4h0M746.0 502.8h0M802.7 520.4h0M810.1 521.3h0M825.0 522.4h0M847.3 521.9h0M854.7 521.1h0M876.7 517.2h0M804.2 383.2h0M811.1 386.1h0M840.7 388.8h0M829.7 382.5h0M816.9 373.2h0" stroke="#a4a8d0" stroke-width="1.2" stroke-linecap="round" fill="none"/><path d="M729.0 517.7h0M842.7 543.2h0M879.1 538.2h0M886.3 536.5h0M900.4 532.3h0M921.0 524.2h0M745.7 518.1h0M817.1 536.0h0M868.6 533.2h0M875.9 531.8h0M883.1 530.1h0M756.1 514.9h0M770.0 519.9h0M791.6 525.5h0M843.3 529.2h0M858.0 527.8h0M865.4 526.7h0M872.7 525.3h0M901.2 517.2h0M759.6 508.8h0M788.1 517.6h0M817.5 522.0h0M839.9 522.3h0M891.1 513.3h0M742.8 493.3h0M777.3 507.5h0M784.5 509.5h0M799.1 512.7h0M828.9 515.5h0M836.4 515.4h0M843.9 515.1h0M866.2 512.3h0M873.5 510.8h0M746.2 487.2h0M766.7 496.5h0M773.8 499.1h0M810.4 507.3h0M817.9 508.0h0M840.5 508.3h0M862.9 505.8h0M884.8 500.5h0M770.3 490.4h0M777.4 492.9h0M799.4 498.5h0M806.8 499.7h0M814.4 500.6h0M829.4 501.5h0M852.1 500.3h0M881.7 494.2h0M888.9 491.9h0M902.9 486.3h0M752.9 474.9h0M759.4 478.2h0M766.0 481.2h0M786.5 488.3h0M793.6 490.1h0M807.8 492.8h0M829.5 494.5h0M865.6 491.0h0M872.7 489.4h0M879.7 487.5h0M900.1 479.9h0M756.3 468.8h0M762.8 472.1h0M769.5 475.0h0M776.3 477.7h0M783.2 480.0h0M790.2 482.1h0M818.9 487.0h0M833.4 487.5h0M876.5 481.1h0M890.3 476.4h0M759.8 462.7h0M793.8 475.8h0M851.9 479.2h0M873.4 474.7h0M769.8 459.9h0M783.4 465.4h0M804.7 471.0h0M848.6 472.5h0M863.1 470.1h0M877.3 466.2h0M884.2 463.7h0M891.0 460.9h0M773.2 453.8h0M780.0 456.7h0M808.5 464.6h0M830.5 466.5h0M837.9 466.4h0M867.1 461.9h0M881.2 457.4h0M770.0 444.4h0M790.6 453.0h0M819.7 459.0h0M831.1 452.5h0M853.4 450.6h0M860.7 449.1h0M868.0 447.1h0M776.9 432.2h0M790.7 438.3h0M820.0 444.9h0M842.6 445.0h0M857.5 442.6h0M872.0 438.4h0M793.1 431.7h0M827.8 438.4h0M834.9 438.5h0M849.0 437.1h0M856.0 435.8h0M862.9 434.0h0M869.6 431.8h0M783.6 419.9h0M790.0 422.9h0M796.7 425.5h0M838.7 431.3h0M859.8 427.6h0M866.6 425.5h0M873.2 422.9h0M821.1 423.9h0M835.4 424.4h0M842.6 423.9h0M849.7 422.8h0M856.6 421.2h0M810.7 415.1h0M824.9 417.3h0M867.2 410.3h0M793.9 401.5h0M800.5 404.5h0M807.3 406.9h0M814.4 408.7h0M821.5 409.9h0M828.8 410.5h0M850.4 408.4h0M804.0 398.4h0M818.1 402.3h0M832.6 403.5h0M847.2 401.9h0M861.1 397.6h0M800.8 389.3h0M807.6 392.2h0M829.2 396.5h0M851.1 393.7h0" stroke="#a4a8d0" stroke-width="0.8" stroke-linecap="round" fill="none"/><path d="M749.0 527.2h0M791.3 539.7h0M798.6 541.0h0M820.6 543.2h0M827.9 543.5h0M835.3 543.5h0M864.6 541.0h0M871.9 539.7h0M893.4 534.5h0M914.2 527.2h0M752.5 521.0h0M795.1 533.3h0M846.6 536.0h0M890.2 528.1h0M911.2 520.8h0M918.0 517.9h0M735.9 505.5h0M806.2 527.9h0M835.8 529.5h0M850.7 528.6h0M887.1 521.8h0M915.0 511.6h0M766.6 511.4h0M780.8 515.8h0M832.4 522.5h0M862.1 520.1h0M883.9 515.4h0M898.1 510.9h0M763.2 502.7h0M770.2 505.2h0M858.8 513.5h0M888.0 506.9h0M902.1 501.9h0M908.9 498.9h0M759.7 493.7h0M781.0 501.3h0M788.2 503.3h0M795.6 504.9h0M848.0 507.8h0M855.4 506.9h0M870.3 504.3h0M877.6 502.6h0M892.0 498.2h0M749.6 481.1h0M756.4 484.5h0M763.3 487.6h0M784.7 495.1h0M821.9 501.2h0M867.0 497.9h0M772.7 483.8h0M779.6 486.2h0M800.7 491.6h0M836.8 494.4h0M851.3 493.3h0M858.5 492.3h0M886.6 485.2h0M893.4 482.7h0M840.7 487.2h0M855.2 485.8h0M862.4 484.5h0M869.5 483.0h0M883.5 478.9h0M773.0 468.9h0M786.8 473.8h0M844.7 479.9h0M880.4 472.6h0M894.1 467.3h0M776.5 462.8h0M790.4 467.6h0M819.3 473.0h0M834.0 473.5h0M855.9 471.5h0M870.3 468.3h0M766.6 450.5h0M787.0 459.2h0M801.2 463.2h0M845.3 465.8h0M859.9 463.6h0M874.2 459.9h0M888.0 454.6h0M871.1 453.5h0M878.1 451.1h0M885.0 448.3h0M773.5 438.3h0M780.2 441.5h0M787.1 444.4h0M794.2 446.8h0M808.7 450.4h0M823.6 452.2h0M838.6 452.3h0M875.1 444.8h0M882.0 442.0h0M805.2 442.5h0M812.6 444.0h0M835.1 445.4h0M879.0 435.6h0M786.5 429.0h0M842.0 438.0h0M876.2 429.2h0M810.4 429.3h0M817.4 430.5h0M824.5 431.3h0M831.6 431.5h0M787.0 413.8h0M793.5 416.8h0M807.1 421.4h0M814.0 422.9h0M828.3 424.4h0M790.4 407.6h0M797.0 410.7h0M803.8 413.1h0M832.1 417.5h0M846.5 416.3h0M853.5 414.8h0M860.4 412.8h0M836.0 410.4h0M843.2 409.7h0M797.3 395.4h0M825.3 403.2h0M839.9 403.0h0M814.6 394.4h0M821.9 395.8h0M843.9 395.4h0M858.1 391.3h0" stroke="#a4a8d0" stroke-width="1.0" stroke-linecap="round" fill="none"/><path d="M833.2 389.5h0M807.7 377.1h0M836.6 375.2h0M849.5 372.1h0M820.4 367.0h0M826.9 368.2h0M833.5 368.5h0M840.1 367.6h0M846.5 365.8h0M843.5 359.4h0" stroke="#3a4fe0" stroke-width="3.4" stroke-linecap="round" fill="none"/><circle cx="837" cy="340" r="12.5" fill="#f83a30" fill-opacity="0.85"/><circle cx="825" cy="346" r="6" fill="#90ec60" fill-opacity="0.85"/><circle cx="838" cy="350" r="6" fill="#e09040" fill-opacity="0.85"/><circle cx="846" cy="346" r="5" fill="#f07030" fill-opacity="0.85"/><circle cx="830" cy="353" r="5" fill="#70d880" fill-opacity="0.85"/><circle cx="820" cy="352" r="4" fill="#40c8c0" fill-opacity="0.85"/><circle cx="845" cy="357" r="4" fill="#80e080" fill-opacity="0.85"/><circle cx="834" cy="360" r="4" fill="#4ab0e0" fill-opacity="0.85"/><path d="M816.4,353.8 A31.1,31.1 0 0 0 844.9,354.7" fill="none" stroke="#111" stroke-width="1" stroke-dasharray="1.4,1"/><path d="M801.3,380.9 A62.2,62.2 0 0 0 858.2,382.9" fill="none" stroke="#111" stroke-width="1" stroke-dasharray="1.4,1"/><path d="M786.1,408.1 A93.3,93.3 0 0 0 871.5,411.0" fill="none" stroke="#111" stroke-width="1" stroke-dasharray="1.4,1"/><path d="M770.9,435.2 A124.5,124.5 0 0 0 884.8,439.1" fill="none" stroke="#111" stroke-width="1" stroke-dasharray="1.4,1"/><path d="M755.7,462.4 A155.6,155.6 0 0 0 898.1,467.2" fill="none" stroke="#111" stroke-width="1" stroke-dasharray="1.4,1"/><path d="M740.6,489.6 A186.7,186.7 0 0 0 911.4,495.4" fill="none" stroke="#111" stroke-width="1" stroke-dasharray="1.4,1"/><path d="M725.4,516.7 A217.8,217.8 0 0 0 924.7,523.5" fill="none" stroke="#111" stroke-width="1" stroke-dasharray="1.4,1"/><path d="M709.3,545.5 L831.6,326.6 L938.4,552.5 A248.9,248.9 0 0 1 709.3,545.5 Z" fill="none" stroke="#000" stroke-width="1.4" stroke-linejoin="miter"/><line x1="831.6" y1="326.6" x2="831.8" y2="575.5" stroke="#222" stroke-width="1.5"/><circle cx="831.8" cy="575.5" r="2" fill="#000"/><text x="662.0" y="31.0" font-size="21" text-anchor="start" fill="#000" font-weight="bold" >c</text><text x="790.0" y="32.0" font-size="16.5" text-anchor="start" fill="#000" font-weight="normal" >θ=0°</text><text x="676.0" y="241.0" font-size="16.5" text-anchor="start" fill="#000" font-weight="normal" >θ=90°</text><text x="703.0" y="259.8" font-size="16.5" text-anchor="start" fill="#000" font-weight="normal" >0°</text><text x="695.0" y="281.0" font-size="16.5" text-anchor="start" fill="#000" font-weight="normal" >Φ=0°</text><text x="937.0" y="262.0" font-size="16.5" text-anchor="start" fill="#000" font-weight="normal" >51°</text><line x1="800" y1="42" x2="709.3" y2="211.8" stroke="#000" stroke-width="1.3"/><path d="M706,218 L706.7,210.4 L711.9,213.2 Z" fill="#000"/><path d="M737,277 Q770,297 814.0,292.8" fill="none" stroke="#000" stroke-width="1.4"/><path d="M822,292 L814.4,296.1 L813.7,289.4 Z" fill="#000"/><text x="660.0" y="336.0" font-size="21" text-anchor="start" fill="#000" font-weight="bold" >f</text><text x="788.0" y="330.0" font-size="16.5" text-anchor="start" fill="#000" font-weight="normal" >θ=0°</text><text x="665.0" y="537.5" font-size="16.5" text-anchor="start" fill="#000" font-weight="normal" >θ=90°</text><text x="688.0" y="559.0" font-size="16.5" text-anchor="start" fill="#000" font-weight="normal" >0°</text><text x="683.0" y="585.0" font-size="16.5" text-anchor="start" fill="#000" font-weight="normal" >Φ=0°</text><text x="935.0" y="569.0" font-size="16.5" text-anchor="start" fill="#000" font-weight="normal" >51°</text><line x1="795" y1="337" x2="694.5" y2="510.9" stroke="#000" stroke-width="1.3"/><path d="M691,517 L692.0,509.5 L697.0,512.4 Z" fill="#000"/><path d="M727,578 Q760,596 807.0,595.1" fill="none" stroke="#000" stroke-width="1.4"/><path d="M815,595 L807.1,598.5 L806.9,591.8 Z" fill="#000"/><rect x="943.3" y="131" width="165.70000000000005" height="23.599999999999994" fill="url(#cbg1)"/><text x="951.0" y="151.5" font-size="15.5" text-anchor="start" fill="#000" font-weight="bold"  textLength="150.5999999999999" lengthAdjust="spacingAndGlyphs">Surface Potential (eV)</text><text x="910.0" y="150.6" font-size="15" text-anchor="start" fill="#e8659a" font-weight="bold"  textLength="26" lengthAdjust="spacingAndGlyphs">-0.5</text><text x="1115.0" y="150.6" font-size="15" text-anchor="start" fill="#3a5cb8" font-weight="bold"  textLength="20.5" lengthAdjust="spacingAndGlyphs">0.5</text><rect x="936.8" y="424.4" width="165.5" height="22.900000000000034" fill="url(#cbg2)"/><text x="946.0" y="444.5" font-size="15.5" text-anchor="start" fill="#000" font-weight="bold"  textLength="149" lengthAdjust="spacingAndGlyphs">Surface Potential (eV)</text><text x="904.4" y="443.5" font-size="15" text-anchor="start" fill="#e8659a" font-weight="bold"  textLength="24.899999999999977" lengthAdjust="spacingAndGlyphs">-0.5</text><text x="1108.6" y="443.5" font-size="15" text-anchor="start" fill="#3a5cb8" font-weight="bold"  textLength="20.40000000000009" lengthAdjust="spacingAndGlyphs">0.5</text><path d="M167.5 802.9h0M165.1 796.3h0M173.5 799.9h0M172.4 803.3h0M159.9 802.9h0M172.7 796.3h0M164.9 810.0h0M157.7 793.2h0M171.3 790.3h0M176.3 795.5h0M179.0 806.1h0M154.8 808.0h0M153.0 805.0h0M152.8 794.7h0M154.5 791.6h0M156.9 789.0h0M176.6 789.8h0M179.1 811.9h0M162.3 816.7h0M158.9 815.5h0M155.7 813.8h0M148.5 801.9h0M154.9 786.1h0M157.9 784.1h0M161.3 782.8h0M164.8 782.1h0M181.4 814.6h0M171.9 819.9h0M161.0 820.0h0M149.0 812.2h0M162.5 778.9h0M169.8 778.9h0M173.3 779.7h0M184.6 788.4h0M187.4 795.0h0M191.5 800.5h0M191.1 804.1h0M190.1 807.5h0M184.4 816.6h0M178.6 821.0h0M175.3 822.5h0M168.1 824.0h0M164.4 824.0h0M157.3 822.5h0M154.0 821.0h0M142.4 807.5h0M141.9 793.4h0M143.1 790.0h0M146.9 783.9h0M159.1 776.1h0M162.6 775.3h0M170.0 775.4h0M177.0 777.4h0M180.2 779.2h0M185.7 783.9h0M191.4 796.9h0M194.9 802.5h0M193.3 809.3h0M185.1 820.8h0M168.7 827.5h0M158.0 826.4h0M151.4 823.6h0M137.8 803.7h0M138.3 793.2h0M142.6 783.6h0M150.3 776.3h0M156.8 773.2h0M178.0 774.0h0M186.9 780.0h0M191.2 785.6h0M194.0 816.0h0M184.0 826.0h0M177.5 829.2h0M166.8 831.1h0M159.6 830.4h0M135.9 810.5h0M134.8 807.1h0M134.1 796.5h0M134.6 793.1h0M136.9 786.4h0M138.6 783.2h0M143.0 777.7h0M151.8 771.4h0M158.6 769.0h0M162.2 768.3h0M173.0 768.8h0M183.1 772.7h0M196.7 788.7h0M198.7 799.1h0M199.0 814.3h0M177.8 832.8h0M174.3 833.7h0M167.1 834.6h0M156.3 833.2h0M143.4 826.7h0M136.2 818.8h0M130.8 805.6h0M139.7 776.0h0M142.3 773.5h0M145.1 771.3h0M176.3 766.0h0M199.8 786.7h0M200.9 790.1h0M204.8 808.7h0M175.7 837.0h0M168.6 838.1h0M165.0 838.1h0M150.9 835.1h0M136.5 824.9h0M132.2 819.2h0M130.5 816.2h0M127.3 806.2h0M126.8 802.7h0M126.7 799.2h0M137.0 773.6h0M155.2 762.6h0M162.2 761.3h0M180.0 763.4h0M192.3 770.6h0M204.0 787.9h0M209.4 803.0h0M192.5 833.0h0M172.8 841.1h0M169.2 841.5h0M158.4 840.9h0M148.0 837.7h0M141.8 834.2h0M127.7 818.4h0M126.2 815.2h0M123.1 798.0h0M124.0 791.0h0M126.1 784.3h0M133.5 772.3h0M141.5 765.2h0M154.5 759.2h0M168.9 757.7h0M172.5 758.0h0M176.0 758.7h0M186.2 762.3h0M197.7 770.7h0M209.5 799.4h0M211.3 812.2h0M198.1 833.0h0M192.4 837.4h0M189.3 839.3h0M179.3 843.3h0M168.6 845.1h0M161.3 844.9h0M147.3 841.2h0M141.0 837.9h0M138.0 835.8h0M135.2 833.6h0M122.8 816.4h0M120.9 788.7h0M126.5 775.7h0M130.8 770.0h0M135.9 765.0h0M203.6 772.1h0M210.4 784.5h0M213.1 798.3h0M212.4 819.5h0M199.5 836.5h0M193.7 840.7h0M184.0 845.5h0M151.8 846.6h0M148.4 845.4h0M145.0 844.0h0M138.7 840.6h0M116.3 805.7h0M116.0 802.1h0M122.7 775.0h0M126.8 769.1h0M131.7 763.9h0M134.5 761.6h0M143.6 755.8h0M161.0 750.8h0M175.5 751.4h0M195.4 759.6h0M205.9 769.3h0M216.1 791.8h0M219.7 807.1h0M217.1 817.3h0M215.8 820.6h0M214.3 823.7h0M210.5 829.7h0M208.4 832.6h0M178.3 850.8h0M174.8 851.5h0M133.8 841.6h0M125.9 834.5h0M123.6 831.8h0M117.9 822.8h0M116.4 819.6h0M115.1 816.4h0M113.3 809.6h0M115.5 781.9h0M116.8 778.6h0M118.3 775.5h0M126.6 764.0h0M131.8 759.2h0M154.3 748.4h0M172.2 747.4h0M182.8 749.6h0M189.5 752.2h0M195.8 755.6h0M201.6 759.8h0M206.7 764.7h0M209.0 767.4h0M211.1 770.3h0M213.0 773.3h0M219.9 793.1h0M223.9 799.6h0M208.3 838.0h0M205.7 840.5h0M200.1 845.0h0M194.0 848.7h0M187.5 851.7h0M180.6 853.9h0M148.5 852.9h0M126.8 840.4h0M110.5 813.5h0M109.7 789.1h0M111.5 782.2h0M112.8 778.9h0M124.3 761.2h0M126.9 758.7h0M159.1 744.0h0M166.3 743.6h0M187.5 747.5h0M200.2 754.3h0M203.1 756.5h0M212.9 766.7h0M215.0 769.6h0M218.4 775.8h0M223.5 792.6h0M223.8 796.1h0M227.3 804.3h0M226.3 811.3h0M221.8 824.7h0M206.7 844.3h0M203.9 846.6h0M194.8 852.3h0M188.2 855.2h0M170.5 859.0h0M159.6 858.8h0M132.6 849.3h0M126.8 845.1h0M121.5 840.2h0M114.9 831.9h0M113.0 828.8h0M109.8 822.5h0M105.1 798.4h0M105.7 791.4h0M108.1 781.1h0M109.4 777.8h0M110.8 774.5h0M118.4 762.5h0M144.4 744.0h0M154.9 741.1h0M169.3 740.1h0M196.9 748.1h0M208.5 756.5h0M211.1 759.0h0M215.7 764.4h0M221.3 773.5h0M225.2 783.4h0M227.2 793.7h0M230.0 811.0h0M229.3 814.4h0M224.4 827.5h0M200.5 853.2h0M184.0 860.2h0M177.0 861.8h0M173.5 862.2h0M123.4 846.8h0M115.9 839.3h0M103.3 814.3h0M102.0 807.4h0M101.7 803.9h0M101.5 800.4h0M124.8 751.2h0M189.3 740.7h0M207.8 751.2h0M219.9 764.2h0M234.3 806.7h0M231.3 820.4h0M219.1 841.8h0M190.1 862.0h0M172.5 865.9h0M151.0 864.4h0M98.5 808.3h0M98.1 804.8h0M97.9 801.3h0M98.1 794.2h0M103.2 773.8h0M125.2 746.4h0M144.2 736.6h0M151.2 734.7h0M206.1 745.5h0M209.0 747.6h0M214.4 752.3h0M227.2 769.2h0M232.4 782.3h0M235.6 818.6h0M234.5 821.9h0M228.6 834.7h0M222.4 843.4h0M217.6 848.7h0M206.5 857.7h0M203.5 859.6h0M200.3 861.3h0M193.8 864.3h0M94.7 806.8h0M94.6 792.7h0M95.7 785.8h0M106.9 760.0h0M113.7 751.8h0M118.9 746.9h0M140.5 734.2h0M150.9 731.2h0M217.4 750.3h0M224.5 758.3h0M228.4 764.2h0M236.4 783.8h0M240.6 813.1h0M238.9 820.0h0M235.2 829.9h0M230.0 839.2h0M228.0 842.1h0M221.1 850.3h0M218.5 852.8h0M215.8 855.2h0M207.1 861.5h0M190.8 869.2h0M183.9 871.1h0M173.1 872.8h0M90.7 801.8h0M92.3 784.3h0M95.4 774.2h0M96.7 770.9h0M98.2 767.7h0M103.6 758.5h0M105.7 755.6h0M115.4 745.2h0M118.2 742.9h0M121.0 740.7h0M140.1 730.6h0M147.0 728.5h0M206.3 737.2h0M215.1 743.4h0M217.8 745.7h0M220.4 748.2h0M222.8 750.8h0M231.4 762.2h0M233.1 765.2h0M239.6 781.7h0M241.5 792.1h0M245.5 801.4h0M245.0 808.4h0M240.9 825.4h0M238.2 831.9h0M236.6 835.1h0M231.0 844.0h0M228.9 846.9h0M226.6 849.6h0M216.3 859.4h0M213.4 861.5h0M207.4 865.4h0M201.1 868.8h0M194.5 871.6h0M184.2 874.7h0M87.3 794.3h0M87.6 790.8h0M91.7 773.8h0M96.0 764.1h0M101.6 755.2h0M103.7 752.3h0M106.0 749.6h0M110.9 744.5h0M116.3 739.8h0M131.5 730.4h0M134.8 728.9h0M141.5 726.4h0M148.4 724.5h0M159.1 722.9h0M197.9 728.9h0M210.5 735.7h0M213.4 737.7h0M216.3 739.8h0M224.2 747.0h0M226.6 749.6h0M233.0 758.1h0M236.6 764.2h0M242.1 777.1h0M245.0 790.9h0M248.3 811.0h0M246.0 821.4h0M242.4 831.3h0M239.3 837.6h0M231.4 849.4h0M183.3 878.4h0M83.5 798.7h0M85.7 781.2h0M86.6 777.8h0M88.8 771.2h0M91.7 764.7h0M93.3 761.6h0M95.1 758.5h0M125.7 729.4h0M128.9 727.7h0M132.2 726.2h0M142.3 722.5h0M149.3 720.8h0M152.9 720.1h0M156.5 719.6h0M160.1 719.3h0M163.7 719.1h0M195.5 724.2h0M211.6 732.2h0M225.5 743.3h0M228.0 745.9h0M240.2 763.2h0M241.7 766.4h0M243.2 769.7h0M248.5 790.0h0M247.9 827.1h0M243.7 836.9h0M234.1 851.7h0M231.8 854.4h0M226.8 859.6h0M224.2 862.0h0M215.7 868.5h0M209.6 872.3h0M203.2 875.6h0M182.6 882.1h0M80.6 789.2h0M82.6 778.8h0M92.3 756.2h0M98.5 747.5h0M100.8 744.8h0M103.2 742.2h0M119.9 728.7h0M123.0 726.9h0M132.7 722.2h0M142.9 718.7h0M168.0 715.6h0M203.0 723.5h0M221.3 734.8h0M224.0 737.1h0M231.6 744.6h0M233.9 747.3h0M240.1 756.0h0M242.0 759.0h0M249.0 775.2h0M252.0 788.9h0M255.4 812.3h0M253.2 822.6h0M251.0 829.2h0M229.9 861.5h0M227.3 863.9h0M209.9 876.2h0M206.7 877.8h0M196.7 882.0h0M76.6 806.2h0M79.0 778.3h0M82.2 768.3h0M85.1 761.9h0M90.3 752.7h0M96.6 744.2h0M101.4 738.9h0M115.1 727.6h0M144.5 714.7h0M151.5 713.2h0M158.7 712.4h0M165.9 712.1h0M197.6 717.5h0M210.7 723.4h0M213.8 725.2h0M216.8 727.1h0M219.7 729.1h0M222.6 731.3h0M225.3 733.5h0M230.6 738.3h0M239.8 749.1h0M247.1 761.1h0M252.4 774.1h0M259.9 802.1h0M254.7 829.6h0M248.9 842.5h0M247.1 845.5h0M245.2 848.5h0M243.2 851.5h0M241.1 854.3h0M236.6 859.7h0M72.7 802.3h0M73.4 788.3h0M82.9 758.3h0M88.4 749.2h0M97.2 738.1h0M122.8 719.0h0M146.5 710.6h0M160.8 708.7h0M168.0 708.6h0M209.6 718.9h0M212.7 720.6h0M218.9 724.3h0M224.7 728.4h0M227.5 730.7h0M232.7 735.5h0M237.6 740.6h0M239.9 743.3h0M246.1 752.0h0M249.6 758.1h0M254.0 767.7h0M258.6 784.6h0M259.9 798.6h0M263.1 808.7h0M261.4 819.1h0M259.7 825.9h0M251.4 845.4h0M249.6 848.4h0M236.4 865.1h0M233.8 867.6h0M231.2 870.0h0M203.8 886.8h0M193.6 890.3h0M69.4 792.3h0M70.8 781.8h0M78.7 758.5h0M84.0 749.3h0M88.1 743.5h0M90.3 740.7h0M105.5 725.8h0M120.6 716.1h0M127.1 713.1h0M133.8 710.5h0M158.5 705.4h0M190.7 708.1h0M197.7 710.1h0M210.9 715.6h0M220.3 721.0h0M228.9 727.3h0M231.7 729.6h0M239.3 737.1h0M243.8 742.6h0M248.0 748.3h0M251.7 754.4h0M259.8 773.9h0M262.7 787.6h0M263.4 794.6h0M265.6 816.5h0M263.2 826.7h0M260.9 833.4h0M258.2 840.0h0M242.7 863.6h0M240.2 866.2h0M235.1 871.2h0M201.5 891.5h0M187.6 895.4h0M67.3 781.0h0M68.1 777.6h0M71.1 767.4h0M73.7 760.9h0M104.3 722.3h0M110.2 718.1h0M116.4 714.4h0M119.5 712.7h0M122.8 711.2h0M143.2 704.2h0M150.3 702.8h0M196.8 706.1h0M200.2 707.3h0M210.2 711.4h0M225.7 720.4h0M231.4 724.8h0M234.1 727.1h0M244.1 737.3h0M260.4 764.5h0M261.7 767.8h0M267.1 798.9h0M270.4 806.9h0M269.7 813.8h0M269.1 817.3h0M267.6 824.2h0M264.4 834.2h0M246.6 864.5h0M244.3 867.1h0M236.7 874.6h0M228.3 881.3h0M216.2 888.8h0M206.4 893.4h0M203.1 894.7h0M63.5 781.9h0M65.0 775.0h0M68.2 765.0h0M70.8 758.5h0M72.4 755.3h0M74.0 752.2h0M83.7 737.4h0M90.8 729.5h0M95.9 724.6h0M110.2 713.9h0M113.3 712.1h0M129.5 704.5h0M136.4 702.3h0M150.4 699.2h0M157.6 698.4h0M200.2 703.5h0M203.6 704.7h0M206.9 706.0h0M210.2 707.5h0M219.8 712.4h0M257.2 749.6h0M260.5 755.8h0M262.0 759.0h0M263.4 762.2h0M266.8 772.2h0M268.5 779.0h0M269.7 785.9h0M273.9 808.9h0M272.4 819.4h0M267.5 836.3h0M259.8 852.1h0M258.0 855.1h0M236.9 879.1h0M231.3 883.5h0M225.4 887.5h0M219.3 891.2h0M212.9 894.4h0M59.1 786.8h0M59.6 783.3h0M61.8 773.0h0M63.9 766.3h0M83.0 732.7h0M85.4 730.0h0M87.8 727.4h0M101.3 715.7h0M104.2 713.7h0M110.2 709.8h0M123.0 703.3h0M129.7 700.7h0M133.1 699.6h0M136.6 698.6h0M140.1 697.7h0M143.6 696.9h0M147.1 696.2h0M150.7 695.6h0M157.9 694.9h0M161.5 694.6h0M193.7 698.0h0M197.1 698.9h0M213.9 705.3h0M223.4 710.4h0M252.5 736.3h0M256.7 742.1h0M262.1 751.2h0M274.0 791.4h0M277.8 804.0h0M273.9 828.2h0M271.8 835.0h0M270.6 838.3h0M269.2 841.5h0M266.2 847.9h0M260.9 857.1h0M245.2 876.3h0M228.5 889.7h0M225.5 891.6h0M222.4 893.5h0M216.0 896.8h0M206.1 901.0h0M199.3 903.3h0M195.8 904.3h0M185.2 906.6h0M57.0 777.8h0M62.0 760.9h0M77.8 733.4h0M80.1 730.7h0M82.4 728.0h0M92.6 718.0h0M101.1 711.5h0M110.2 705.7h0M133.3 695.9h0M147.4 692.6h0M151.0 692.1h0M154.6 691.6h0M214.4 701.6h0M235.8 714.6h0M238.6 716.9h0M243.9 721.6h0M255.8 734.8h0M265.4 749.7h0M268.5 756.0h0M271.2 762.5h0M276.0 779.5h0M275.0 836.8h0M273.7 840.1h0M272.4 843.3h0M270.9 846.5h0M265.9 855.9h0M264.1 858.9h0M262.1 861.8h0M260.1 864.7h0M246.0 880.6h0M235.0 889.6h0M219.7 898.9h0M216.5 900.5h0M206.6 904.6h0M203.2 905.8h0M189.3 909.4h0M171.4 911.6h0M157.0 911.3h0M149.9 910.5h0M139.3 908.5h0M51.2 795.0h0M55.0 770.8h0M56.0 767.4h0M61.0 754.3h0M64.1 747.9h0M75.8 730.3h0M90.6 715.1h0M96.2 710.7h0M105.1 704.7h0M108.2 702.9h0M114.5 699.5h0M117.7 698.0h0M127.7 694.0h0M138.1 691.0h0M145.1 689.5h0M148.6 688.9h0M163.0 687.6h0M195.1 691.1h0M208.8 695.4h0M224.9 703.1h0M236.8 711.0h0M239.6 713.2h0M250.1 722.8h0M257.2 730.7h0M271.9 754.7h0M275.7 764.6h0M276.8 767.9h0M281.6 827.6h0M277.2 841.0h0M275.9 844.2h0M274.4 847.4h0M272.9 850.6h0M265.8 862.8h0M244.5 886.6h0M241.8 888.8h0M233.1 895.1h0M230.1 897.1h0M227.1 898.9h0M220.8 902.3h0M179.6 914.4h0M176.0 914.8h0M161.6 915.1h0M154.4 914.6h0M150.8 914.2h0M136.6 911.5h0M133.2 910.6h0M48.6 783.6h0M58.9 750.2h0M62.2 743.9h0M64.0 740.9h0M65.9 737.9h0M67.8 734.9h0M69.9 732.1h0M72.1 729.2h0M81.5 718.7h0M86.7 713.8h0M95.1 707.1h0M98.0 705.1h0M104.0 701.2h0M107.1 699.4h0M120.0 693.2h0M130.1 689.5h0M137.1 687.6h0M147.7 685.5h0M190.7 686.5h0M239.3 708.5h0M244.9 712.9h0M271.5 745.9h0M273.1 749.0h0M277.4 758.6h0M287.9 813.1h0M286.2 823.5h0M281.3 840.4h0M280.0 843.7h0M273.9 856.4h0M264.1 871.1h0M216.7 908.1h0M213.4 909.5h0M203.3 913.1h0M199.8 914.1h0M185.7 917.2h0M182.1 917.7h0M178.6 918.1h0M171.4 918.6h0M160.5 918.5h0M156.9 918.3h0M146.2 917.0h0M139.1 915.7h0M128.7 912.9h0M48.5 767.2h0M49.6 763.8h0M54.7 750.7h0M59.6 741.3h0M65.3 732.3h0M67.4 729.5h0M71.8 723.9h0M74.1 721.2h0M79.0 716.1h0M81.6 713.6h0M84.3 711.2h0M87.0 708.9h0M111.0 693.4h0M117.5 690.4h0M127.6 686.6h0M141.6 683.0h0M152.2 681.3h0M198.8 684.8h0M202.2 685.8h0M215.7 690.7h0M237.7 702.9h0M246.2 709.4h0M256.5 719.1h0M258.9 721.8h0M269.7 735.9h0M271.6 738.8h0M275.1 745.0h0M278.2 751.3h0M282.1 761.1h0M289.1 826.9h0M286.3 837.1h0M281.1 850.2h0M279.5 853.4h0M246.2 894.4h0M243.3 896.6h0M240.4 898.7h0M225.1 908.0h0M218.6 911.1h0M215.3 912.5h0M212.0 913.8h0M173.3 922.0h0M166.0 922.2h0M151.6 921.3h0M50.8 750.6h0M57.3 738.1h0M90.7 701.5h0M112.3 688.8h0M125.7 683.6h0M129.2 682.5h0M143.2 679.1h0M146.8 678.5h0M150.3 678.0h0M193.5 679.9h0M197.0 680.7h0M207.4 683.7h0M220.7 689.1h0M250.7 708.6h0M253.3 711.0h0M260.8 718.6h0M267.6 726.8h0M275.6 738.5h0M294.6 817.7h0M287.3 844.8h0M281.4 857.6h0M277.9 863.7h0M276.0 866.7h0M274.0 869.7h0M267.7 878.1h0M235.6 906.1h0M229.5 909.7h0M219.8 914.4h0M216.5 915.8h0M202.9 920.5h0M188.9 923.7h0M181.8 924.8h0M178.2 925.1h0M163.8 925.6h0M160.2 925.5h0M111.5 913.9h0M108.3 912.3h0M54.7 735.5h0M103.1 689.5h0M119.4 682.1h0M122.8 680.8h0M126.2 679.7h0M136.6 676.9h0M161.6 673.6h0M193.8 676.4h0M207.7 680.1h0M227.5 688.5h0M233.8 692.0h0M248.4 702.1h0M261.5 714.1h0M266.3 719.4h0M268.5 722.1h0M276.7 733.6h0M278.6 736.6h0M297.7 820.9h0M294.5 834.6h0M285.5 857.5h0M280.2 866.7h0M278.3 869.7h0M255.0 896.3h0M249.4 900.8h0M237.7 909.0h0M187.5 927.5h0M180.3 928.5h0M158.7 929.0h0M137.3 926.1h0M133.8 925.2h0M110.0 917.0h0M33.5 809.7h0M83.2 698.4h0M86.0 696.2h0M88.9 694.1h0M98.0 688.4h0M101.1 686.6h0M107.5 683.4h0M117.4 679.1h0M134.5 673.8h0M141.6 672.3h0M152.3 670.7h0M166.7 670.0h0M232.2 687.0h0M244.3 694.6h0M252.8 701.1h0M299.3 793.0h0M299.5 796.5h0M303.1 800.5h0M302.6 811.0h0M302.2 814.5h0M301.8 818.0h0M301.2 821.5h0M299.0 831.8h0M284.0 867.4h0M280.2 873.4h0M250.9 904.2h0M248.0 906.3h0M236.0 914.1h0M216.5 923.4h0M167.2 932.7h0M163.6 932.6h0M149.2 931.6h0M128.0 927.3h0M121.1 925.2h0M111.0 921.3h0M89.0 909.4h0M86.0 907.4h0M69.6 893.7h0M41.2 853.3h0M29.9 809.2h0M30.8 781.2h0M33.6 767.4h0M84.6 692.9h0M87.5 690.8h0M112.7 677.2h0M119.4 674.6h0M122.8 673.4h0M129.7 671.4h0M140.3 669.0h0M172.6 666.7h0M187.0 668.1h0M190.6 668.6h0M204.6 671.9h0M265.6 708.0h0M268.0 710.6h0M272.7 716.0h0M306.6 805.3h0M306.4 808.8h0M305.2 819.2h0M302.4 833.0h0M287.5 868.5h0M283.7 874.5h0M243.3 913.8h0M230.9 920.9h0M217.8 926.7h0M214.4 927.9h0M207.6 930.1h0M197.1 932.8h0M193.6 933.6h0M179.4 935.6h0M165.0 936.2h0M157.8 935.9h0M129.4 931.4h0M125.9 930.4h0M122.5 929.4h0M115.7 927.0h0M105.8 922.8h0M102.6 921.3h0M96.2 918.0h0M93.1 916.2h0M70.3 899.2h0M67.7 896.8h0M62.7 891.8h0M58.0 886.5h0M55.7 883.7h0M42.0 863.2h0M40.4 860.1h0M38.9 856.9h0M37.4 853.7h0M30.4 833.8h0M27.0 816.6h0M26.1 806.2h0M26.7 785.2h0M79.1 692.6h0M109.9 674.5h0M116.5 671.9h0M123.3 669.6h0M126.8 668.6h0M130.2 667.6h0M137.2 666.0h0M151.5 663.8h0M158.6 663.2h0M169.4 663.1h0M198.0 666.5h0M215.2 671.6h0M305.4 780.8h0M306.7 798.3h0M308.9 819.3h0M306.9 829.7h0M302.0 846.5h0M300.7 849.8h0M298.0 856.3h0M293.2 865.7h0M287.8 874.8h0M281.6 883.5h0M253.9 910.8h0M251.0 912.9h0M248.0 914.9h0M235.8 922.3h0M232.6 924.0h0M212.7 932.2h0M191.8 937.5h0M166.7 939.7h0M155.9 939.3h0M145.1 938.2h0M134.5 936.2h0M113.9 930.1h0M110.5 928.7h0M107.2 927.3h0M91.3 919.2h0M85.2 915.4h0M71.0 904.6h0M55.9 889.6h0M47.2 878.4h0M43.3 872.5h0M34.9 857.0h0M26.7 833.8h0M24.4 823.5h0M22.7 809.6h0M22.5 792.1h0M66.5 698.7h0M83.1 685.3h0M86.1 683.3h0M92.2 679.5h0M95.3 677.8h0M98.4 676.1h0M111.5 670.1h0M118.2 667.6h0M125.0 665.4h0M132.0 663.6h0M135.5 662.8h0M146.2 660.9h0M149.7 660.5h0M153.3 660.1h0M164.1 659.5h0M192.8 661.9h0M233.5 675.7h0M268.2 700.6h0M305.5 763.7h0M309.0 780.9h0" stroke="#c4c8dc" stroke-width="0.9" stroke-linecap="round" fill="none"/><path d="M169.5 754.2h0M182.5 753.2h0M143.1 847.0h0M136.8 843.6h0M179.3 748.6h0M151.9 853.9h0M138.5 848.7h0M135.4 846.9h0M129.5 842.7h0M115.8 826.6h0M170.0 743.7h0M173.6 744.0h0M180.7 745.3h0M156.1 858.3h0M149.0 856.7h0M145.5 855.6h0M142.2 854.3h0M138.9 852.8h0M116.9 834.8h0M108.5 819.2h0M173.0 740.4h0M176.5 740.9h0M180.1 741.6h0M183.6 742.5h0M159.1 862.2h0M152.0 861.1h0M148.5 860.2h0M138.4 856.5h0M126.2 849.1h0M120.8 844.5h0M118.3 841.9h0M108.2 827.5h0M106.7 824.3h0M171.7 736.8h0M175.3 737.2h0M178.9 737.8h0M182.4 738.5h0M185.8 739.5h0M168.9 866.1h0M165.3 866.1h0M161.7 866.0h0M158.1 865.7h0M154.5 865.1h0M147.5 863.6h0M144.0 862.5h0M140.7 861.3h0M137.4 859.9h0M134.1 858.3h0M131.0 856.6h0M127.9 854.7h0M125.0 852.6h0M122.2 850.4h0M119.5 848.1h0M116.9 845.6h0M114.5 843.0h0M112.2 840.3h0M110.1 837.5h0M106.3 831.5h0M104.6 828.4h0M103.2 825.2h0M101.9 821.9h0M100.7 818.6h0M99.8 815.2h0M169.1 733.1h0M172.7 733.4h0M176.3 733.8h0M179.8 734.4h0M186.8 736.1h0M183.5 867.6h0M176.4 869.0h0M158.3 869.2h0M151.2 868.1h0M147.7 867.3h0M144.2 866.3h0M140.8 865.1h0M137.4 863.8h0M134.1 862.3h0M127.8 858.8h0M124.8 856.9h0M121.9 854.8h0M119.1 852.5h0M116.5 850.1h0M113.9 847.6h0M111.5 845.0h0M109.2 842.3h0M107.1 839.4h0M105.1 836.5h0M101.6 830.3h0M98.8 823.9h0M97.6 820.5h0M96.6 817.2h0M95.1 810.3h0M168.9 729.6h0M172.5 729.8h0M183.2 731.5h0M186.7 732.4h0M190.1 733.5h0M194.2 867.9h0M187.4 870.2h0M180.3 871.9h0M169.5 873.1h0M165.9 873.1h0M162.3 873.0h0M158.7 872.8h0M155.1 872.3h0M151.5 871.7h0M147.9 870.9h0M144.5 870.0h0M141.0 868.9h0M137.6 867.6h0M134.3 866.2h0M131.1 864.7h0M121.8 859.1h0M113.5 852.3h0M94.5 822.6h0M93.4 819.2h0M92.6 815.8h0M91.8 812.4h0M90.9 805.4h0M168.5 726.1h0M172.1 726.3h0M175.7 726.6h0M186.4 728.7h0M189.9 729.7h0M191.1 872.8h0M177.1 875.9h0M173.5 876.3h0M169.9 876.6h0M166.3 876.6h0M162.7 876.6h0M159.1 876.3h0M155.5 875.9h0M151.9 875.4h0M148.4 874.7h0M144.9 873.8h0M141.5 872.8h0M138.1 871.6h0M134.7 870.3h0M131.5 868.8h0M89.6 818.7h0M88.8 815.3h0M88.1 811.8h0M87.6 808.3h0M87.1 801.3h0M166.3 722.6h0M169.9 722.6h0M184.2 724.5h0M187.7 725.4h0M197.1 874.4h0M193.7 875.6h0M179.7 879.1h0M176.1 879.6h0M168.9 880.1h0M165.3 880.1h0M161.7 880.0h0M158.1 879.7h0M154.5 879.3h0M151.0 878.8h0M147.4 878.0h0M85.3 816.1h0M84.6 812.7h0M167.3 719.1h0M170.9 719.2h0M185.2 721.2h0M199.9 877.0h0M196.5 878.3h0M189.7 880.5h0M186.1 881.4h0M168.2 883.6h0M161.0 883.5h0M157.4 883.2h0M81.1 813.7h0M80.6 810.3h0M80.2 806.8h0M185.9 717.7h0M193.3 883.1h0M189.9 884.1h0M186.4 884.9h0M182.9 885.7h0M175.7 886.7h0M172.1 887.0h0M168.5 887.1h0M164.9 887.1h0M157.7 886.8h0M76.9 809.6h0M162.3 712.1h0M169.5 712.1h0M173.1 712.3h0M187.3 714.5h0M187.9 888.2h0M177.2 890.0h0M173.6 890.4h0M170.0 890.6h0M73.2 809.3h0M72.9 805.8h0M185.9 710.6h0M189.4 711.4h0M192.9 712.3h0M197.1 889.3h0M186.6 892.1h0M183.1 892.7h0M179.5 893.3h0M172.3 894.0h0M168.7 894.1h0M69.3 806.3h0M69.2 802.8h0M69.1 799.3h0M69.2 795.8h0M165.7 705.1h0M169.3 705.1h0M172.9 705.3h0M183.7 706.6h0M187.2 707.3h0M198.1 892.6h0M180.5 896.7h0M176.9 897.1h0M173.3 897.4h0M169.7 897.6h0M66.0 809.0h0M65.7 805.5h0M65.5 802.0h0M65.5 798.5h0M164.7 701.6h0M168.3 701.6h0M172.0 701.7h0M182.7 702.9h0M186.3 703.5h0M189.8 704.3h0M196.2 896.9h0M192.8 897.8h0M189.3 898.7h0M185.7 899.4h0M182.2 900.0h0M178.6 900.4h0M175.0 900.8h0M171.4 901.0h0M167.8 901.1h0M62.4 809.8h0M62.1 806.3h0M62.0 802.8h0M62.0 795.8h0M164.8 698.1h0M168.4 698.1h0M172.0 698.2h0M186.3 699.9h0M189.8 700.7h0M193.3 701.5h0M249.6 866.5h0M196.0 900.6h0M189.0 902.3h0M181.9 903.6h0M178.3 904.0h0M174.7 904.3h0M171.1 904.6h0M167.5 904.7h0M160.3 904.5h0M59.0 811.3h0M58.6 807.8h0M58.4 804.3h0M58.3 800.8h0M58.3 797.3h0M58.7 790.3h0M165.1 694.5h0M168.7 694.6h0M172.3 694.7h0M186.6 696.4h0M190.2 697.1h0M274.2 794.9h0M277.9 800.5h0M277.6 807.5h0M277.3 811.0h0M247.7 873.8h0M202.7 902.2h0M188.8 905.9h0M174.4 907.9h0M170.8 908.1h0M167.2 908.2h0M163.6 908.1h0M156.4 907.7h0M152.8 907.4h0M149.2 906.9h0M145.7 906.3h0M138.6 904.8h0M135.1 903.8h0M131.7 902.8h0M54.9 805.8h0M54.7 802.3h0M54.7 798.7h0M54.8 795.2h0M55.0 791.7h0M55.3 788.2h0M169.0 691.1h0M172.6 691.2h0M186.9 692.9h0M272.4 765.9h0M275.2 776.0h0M277.1 786.4h0M277.7 793.4h0M281.3 806.0h0M280.7 813.0h0M280.2 816.4h0M279.6 819.9h0M253.4 872.9h0M251.0 875.6h0M248.5 878.1h0M243.3 882.9h0M199.7 906.8h0M196.3 907.8h0M182.2 910.6h0M178.6 911.0h0M167.8 911.7h0M160.6 911.5h0M153.4 911.0h0M142.8 909.3h0M135.8 907.7h0M132.3 906.7h0M128.9 905.6h0M125.5 904.4h0M122.2 903.1h0M118.9 901.7h0M51.3 805.5h0M51.1 802.0h0M51.1 798.5h0M51.4 791.5h0M51.7 788.0h0M52.2 784.5h0M54.1 774.2h0M166.6 687.5h0M170.2 687.6h0M188.1 689.6h0M191.6 690.3h0M280.0 781.6h0M280.5 785.0h0M280.9 788.5h0M281.2 792.0h0M281.5 799.0h0M285.0 803.3h0M283.7 817.3h0M283.1 820.7h0M282.4 824.2h0M279.6 834.4h0M261.6 868.6h0M259.4 871.3h0M257.2 874.1h0M254.8 876.7h0M249.8 881.8h0M247.2 884.2h0M204.2 909.1h0M197.3 911.2h0M165.2 915.2h0M147.2 913.7h0M140.1 912.3h0M129.7 909.5h0M113.0 902.9h0M109.9 901.3h0M103.6 897.8h0M49.1 818.6h0M47.8 808.1h0M47.6 804.6h0M47.5 801.1h0M47.5 797.6h0M47.6 794.1h0M47.9 790.6h0M48.2 787.1h0M49.2 780.2h0M49.8 776.7h0M51.5 769.9h0M52.5 766.5h0M169.2 684.1h0M183.6 685.3h0M187.2 685.8h0M276.1 755.4h0M279.7 765.3h0M281.7 772.0h0M282.5 775.4h0M283.2 778.9h0M283.8 782.3h0M284.3 785.8h0M284.9 792.8h0M285.1 796.3h0M288.7 802.6h0M288.5 806.1h0M288.3 809.6h0M287.5 816.6h0M286.9 820.0h0M285.4 826.9h0M284.6 830.3h0M261.9 873.9h0M259.6 876.6h0M257.3 879.3h0M247.0 889.1h0M149.7 917.6h0M132.1 913.9h0M125.2 911.8h0M111.9 906.3h0M108.7 904.7h0M105.6 903.0h0M45.6 819.4h0M44.0 805.4h0M43.9 798.4h0M44.2 791.4h0M44.5 787.9h0M44.9 784.4h0M45.4 780.9h0M46.8 774.0h0M47.6 770.6h0M76.6 718.6h0M166.7 680.5h0M170.3 680.6h0M177.5 681.0h0M181.1 681.4h0M184.6 681.9h0M188.2 682.5h0M276.7 748.1h0M279.6 754.6h0M280.9 757.8h0M283.3 764.5h0M284.3 767.8h0M285.2 771.2h0M286.0 774.7h0M286.7 778.1h0M287.3 781.6h0M287.8 785.1h0M288.2 788.5h0M288.5 792.0h0M288.6 795.6h0M288.7 799.1h0M292.3 802.5h0M292.1 806.0h0M291.9 809.5h0M291.5 813.0h0M291.1 816.5h0M290.5 820.0h0M289.9 823.4h0M288.3 830.3h0M266.2 874.2h0M264.0 877.0h0M261.7 879.7h0M251.6 889.8h0M248.9 892.1h0M187.6 920.4h0M140.9 919.7h0M137.4 918.9h0M123.5 914.9h0M116.8 912.3h0M110.2 909.4h0M107.0 907.8h0M103.9 906.1h0M100.7 904.3h0M97.7 902.4h0M94.7 900.4h0M91.7 898.4h0M88.8 896.3h0M86.0 894.1h0M44.2 829.8h0M42.0 819.5h0M41.0 812.5h0M40.7 809.0h0M40.4 805.5h0M40.3 798.5h0M40.4 794.9h0M40.6 791.4h0M40.9 787.9h0M41.3 784.4h0M41.8 781.0h0M42.4 777.5h0M43.1 774.0h0M43.9 770.6h0M44.8 767.2h0M46.9 760.5h0M49.4 753.9h0M61.1 732.1h0M67.5 723.6h0M69.8 720.8h0M74.6 715.6h0M77.1 713.1h0M79.7 710.6h0M168.4 677.0h0M172.0 677.2h0M175.6 677.4h0M186.4 678.6h0M224.0 690.6h0M239.4 699.8h0M242.3 701.9h0M245.2 704.0h0M271.8 732.5h0M279.0 744.7h0M280.5 747.9h0M282.0 751.1h0M283.4 754.4h0M284.7 757.6h0M285.9 761.0h0M288.0 767.7h0M288.8 771.1h0M290.9 781.5h0M291.4 785.0h0M291.8 788.4h0M292.1 792.0h0M292.2 795.5h0M292.3 799.0h0M295.9 800.3h0M295.8 803.8h0M295.7 807.3h0M295.4 810.8h0M294.0 821.2h0M293.3 824.6h0M289.7 838.2h0M288.5 841.5h0M284.5 851.3h0M265.4 880.9h0M252.9 893.4h0M101.9 909.0h0M98.8 907.2h0M95.8 905.4h0M92.8 903.4h0M89.9 901.4h0M87.0 899.3h0M84.2 897.1h0M76.1 890.1h0M73.5 887.6h0M68.7 882.5h0M44.8 843.5h0M42.5 836.9h0M40.6 830.2h0M39.7 826.8h0M38.4 819.9h0M37.4 812.9h0M37.1 809.4h0M36.9 805.9h0M36.7 802.4h0M36.7 798.9h0M36.8 795.4h0M36.9 791.9h0M37.2 788.4h0M37.6 784.9h0M38.0 781.5h0M38.6 778.0h0M39.3 774.6h0M40.0 771.1h0M40.9 767.7h0M41.9 764.4h0M42.9 761.0h0M44.1 757.7h0M45.3 754.4h0M46.7 751.1h0M48.1 747.9h0M51.2 741.6h0M58.6 729.5h0M62.7 723.8h0M64.9 721.1h0M67.2 718.3h0M69.6 715.7h0M72.0 713.1h0M74.5 710.6h0M77.1 708.2h0M79.7 705.8h0M82.5 703.5h0M168.8 673.6h0M172.4 673.7h0M179.6 674.2h0M183.2 674.6h0M186.7 675.1h0M190.3 675.7h0M211.1 681.3h0M217.8 683.9h0M245.6 699.9h0M251.2 704.3h0M253.9 706.7h0M280.3 739.7h0M282.0 742.8h0M283.6 746.0h0M285.1 749.2h0M286.5 752.4h0M287.8 755.7h0M289.0 759.0h0M290.1 762.3h0M291.1 765.6h0M292.0 769.0h0M292.9 772.4h0M293.6 775.9h0M294.2 779.3h0M294.7 782.8h0M295.2 786.3h0M295.5 789.8h0M295.7 793.3h0M295.9 796.8h0M299.4 803.5h0M298.2 817.5h0M269.9 881.1h0M103.6 913.9h0M97.3 910.4h0M94.2 908.6h0M88.3 904.6h0M85.4 902.5h0M82.5 900.3h0M79.8 898.1h0M77.1 895.8h0M74.4 893.4h0M71.8 890.9h0M69.3 888.4h0M64.5 883.2h0M62.2 880.5h0M60.0 877.7h0M55.8 872.0h0M53.9 869.1h0M52.0 866.1h0M50.2 863.0h0M48.4 860.0h0M46.8 856.8h0M45.2 853.7h0M43.8 850.4h0M42.4 847.2h0M41.1 843.9h0M39.9 840.6h0M38.9 837.3h0M37.8 833.9h0M36.9 830.5h0M36.1 827.1h0M35.4 823.6h0M34.8 820.2h0M34.3 816.7h0M33.8 813.2h0M33.3 806.2h0M33.1 802.7h0M33.1 799.2h0M33.2 795.7h0M33.3 792.2h0M33.6 788.7h0M33.9 785.2h0M34.9 778.3h0M35.6 774.8h0M36.3 771.4h0M37.1 768.0h0M38.1 764.6h0M39.1 761.2h0M41.4 754.6h0M42.7 751.3h0M44.1 748.0h0M45.6 744.8h0M47.1 741.7h0M48.8 738.6h0M50.5 735.5h0M52.4 732.5h0M54.3 729.5h0M72.4 707.7h0M75.0 705.3h0M77.6 702.9h0M80.4 700.6h0M173.9 670.2h0M177.5 670.5h0M181.1 670.8h0M184.7 671.3h0M209.2 676.9h0M222.6 682.2h0M225.8 683.7h0M229.0 685.3h0M238.4 690.6h0M250.1 698.9h0M258.2 705.8h0M263.3 710.8h0M276.8 727.2h0M278.7 730.1h0M280.6 733.1h0M282.4 736.2h0M284.2 739.2h0M287.4 745.5h0M288.8 748.8h0M290.2 752.0h0M292.7 758.6h0M293.7 761.9h0M294.8 765.3h0M295.7 768.7h0M296.5 772.1h0M297.2 775.6h0M297.8 779.0h0M298.3 782.5h0M299.1 789.5h0M296.0 841.9h0M287.5 861.3h0M271.5 884.6h0M98.1 915.0h0M95.0 913.2h0M83.1 905.3h0M80.3 903.1h0M74.8 898.5h0M72.1 896.1h0M64.6 888.6h0M62.2 885.9h0M57.7 880.5h0M51.4 871.9h0M49.5 868.9h0M45.9 862.8h0M44.2 859.7h0M42.7 856.5h0M39.7 850.1h0M38.4 846.8h0M37.2 843.5h0M36.0 840.2h0M35.0 836.8h0M34.0 833.5h0M32.4 826.6h0M31.7 823.2h0M31.1 819.7h0M30.6 816.2h0M30.2 812.7h0M29.6 805.7h0M29.5 802.2h0M29.5 798.7h0M30.0 788.2h0M30.4 784.7h0M31.4 777.7h0M32.0 774.3h0M32.7 770.8h0M36.6 757.3h0M39.1 750.7h0M40.4 747.4h0M41.9 744.2h0M43.4 741.1h0M45.1 737.9h0M73.5 701.8h0M176.2 666.9h0M179.8 667.2h0M201.1 670.9h0M218.2 676.5h0M221.6 677.9h0M224.9 679.3h0M228.1 680.9h0M231.3 682.5h0M234.5 684.2h0M237.6 686.0h0M240.6 687.9h0M243.6 689.8h0M246.6 691.8h0M249.5 693.9h0M252.3 696.1h0M260.5 703.1h0M263.0 705.5h0M279.2 724.4h0M281.2 727.3h0M283.1 730.3h0M284.9 733.3h0M286.7 736.4h0M288.4 739.5h0M289.9 742.7h0M292.9 749.1h0M294.2 752.4h0M295.4 755.7h0M296.6 759.0h0M297.6 762.4h0M300.2 772.6h0M300.9 776.0h0M301.5 779.5h0M302.0 783.0h0M302.4 786.5h0M302.7 790.0h0M303.0 793.5h0M303.1 797.0h0M275.2 885.8h0M272.9 888.4h0M78.4 906.1h0M75.6 903.9h0M65.1 894.3h0M49.4 875.2h0M47.4 872.3h0M43.8 866.3h0M36.0 850.5h0M34.7 847.2h0M32.4 840.6h0M31.3 837.2h0M27.5 820.1h0M26.6 813.2h0M26.3 809.7h0M25.9 802.7h0M26.0 795.7h0M26.1 792.2h0M28.9 771.4h0M30.6 764.6h0M32.6 757.8h0M33.8 754.5h0M35.0 751.2h0M37.7 744.7h0M40.8 738.4h0M65.7 704.3h0M76.3 694.8h0M173.0 663.2h0M180.2 663.7h0M183.8 664.1h0M187.4 664.6h0M208.4 669.3h0M211.8 670.4h0M218.6 672.8h0M221.9 674.2h0M225.2 675.6h0M228.4 677.1h0M231.6 678.7h0M234.8 680.4h0M237.9 682.1h0M241.0 683.9h0M244.0 685.8h0M247.0 687.8h0M249.9 689.9h0M252.8 692.0h0M255.6 694.2h0M258.3 696.4h0M263.6 701.2h0M266.2 703.6h0M268.7 706.2h0M271.1 708.7h0M273.5 711.4h0M275.8 714.1h0M280.1 719.7h0M282.2 722.5h0M284.2 725.4h0M286.1 728.4h0M288.0 731.4h0M289.7 734.5h0M291.4 737.6h0M293.0 740.7h0M294.5 743.9h0M295.9 747.1h0M297.3 750.4h0M298.5 753.6h0M300.8 760.3h0M301.8 763.7h0M302.7 767.1h0M277.2 889.0h0M264.8 901.7h0M60.7 894.8h0M33.5 853.8h0M30.9 847.2h0M27.6 837.2h0M28.9 757.7h0M30.0 754.3h0M31.2 751.0h0M32.5 747.8h0M33.9 744.5h0M35.4 741.3h0M61.4 703.7h0M63.9 701.1h0M174.9 659.8h0M178.5 660.0h0M189.2 661.3h0M199.8 663.4h0M206.8 665.2h0M210.3 666.2h0M213.7 667.3h0M217.1 668.5h0M220.4 669.8h0M223.7 671.2h0M227.0 672.6h0M230.3 674.1h0M236.7 677.4h0M239.8 679.1h0M242.9 681.0h0M245.9 682.9h0M248.9 684.8h0M257.5 691.2h0M262.9 695.8h0M270.7 703.1h0M273.1 705.7h0M277.8 711.0h0M280.1 713.7h0M282.3 716.5h0M286.4 722.3h0M288.3 725.2h0M290.2 728.2h0M292.0 731.3h0M293.7 734.3h0M295.4 737.5h0M296.9 740.6h0M298.4 743.8h0M299.8 747.1h0M301.1 750.3h0" stroke="#a0acec" stroke-width="1.1" stroke-linecap="round" fill="none"/><path d="M131.0 860.6h0M103.3 833.5h0M100.1 827.1h0M176.1 730.2h0M179.6 730.8h0M127.9 862.9h0M124.8 861.1h0M118.9 856.9h0M116.2 854.7h0M111.0 849.7h0M108.6 847.1h0M106.3 844.3h0M104.2 841.5h0M102.2 838.5h0M100.3 835.5h0M98.6 832.4h0M97.1 829.2h0M95.7 825.9h0M179.3 727.2h0M182.9 727.9h0M128.3 867.2h0M125.1 865.4h0M122.1 863.5h0M119.2 861.5h0M116.3 859.4h0M113.6 857.1h0M110.9 854.7h0M108.4 852.2h0M106.0 849.6h0M103.7 846.8h0M101.6 844.0h0M99.6 841.1h0M97.7 838.1h0M96.0 835.0h0M94.4 831.9h0M93.0 828.7h0M91.7 825.4h0M90.5 822.1h0M173.5 722.9h0M177.1 723.3h0M180.7 723.8h0M143.9 877.1h0M140.5 876.1h0M137.1 875.0h0M133.7 873.6h0M130.4 872.2h0M127.2 870.6h0M124.1 868.9h0M121.0 867.0h0M118.0 865.0h0M115.1 862.9h0M112.3 860.7h0M109.6 858.3h0M107.1 855.9h0M90.9 832.8h0M89.4 829.5h0M88.2 826.3h0M87.0 822.9h0M86.1 819.5h0M174.5 719.5h0M178.1 719.9h0M181.6 720.4h0M164.6 883.6h0M153.8 882.8h0M150.2 882.2h0M146.7 881.5h0M143.2 880.6h0M139.7 879.6h0M136.3 878.4h0M132.9 877.1h0M129.6 875.7h0M126.4 874.1h0M123.2 872.4h0M120.1 870.6h0M117.1 868.7h0M114.2 866.6h0M84.7 827.4h0M83.6 824.0h0M82.6 820.6h0M81.8 817.2h0M171.6 715.7h0M175.2 716.0h0M178.8 716.4h0M182.4 717.0h0M161.3 887.0h0M154.2 886.3h0M150.6 885.8h0M147.1 885.1h0M143.6 884.3h0M140.1 883.4h0M136.7 882.3h0M133.3 881.1h0M130.0 879.7h0M126.7 878.2h0M123.5 876.6h0M120.4 874.9h0M114.3 871.1h0M108.6 866.8h0M79.7 823.4h0M78.8 820.0h0M78.0 816.6h0M77.4 813.1h0M176.6 712.6h0M180.2 713.1h0M183.8 713.7h0M166.4 890.6h0M162.8 890.6h0M159.2 890.4h0M155.6 890.1h0M152.0 889.6h0M148.5 889.0h0M145.0 888.2h0M141.5 887.4h0M138.0 886.4h0M134.6 885.3h0M131.2 884.0h0M121.4 879.5h0M75.9 823.1h0M75.0 819.7h0M74.3 816.3h0M73.7 812.8h0M171.6 708.7h0M175.2 709.0h0M178.8 709.4h0M182.3 709.9h0M175.9 893.7h0M165.1 894.1h0M161.5 894.0h0M157.9 893.8h0M154.3 893.4h0M150.7 892.9h0M140.1 890.7h0M120.1 882.8h0M72.3 823.6h0M71.4 820.2h0M70.7 816.8h0M70.1 813.3h0M69.7 809.8h0M176.5 705.6h0M180.1 706.0h0M166.1 897.7h0M162.5 897.6h0M158.8 897.4h0M155.2 897.1h0M151.6 896.6h0M148.1 896.0h0M144.5 895.3h0M141.0 894.5h0M137.5 893.6h0M134.1 892.5h0M127.3 890.0h0M117.5 885.4h0M68.4 822.9h0M66.9 816.0h0M66.4 812.5h0M175.6 702.0h0M179.2 702.3h0M164.2 901.1h0M160.6 901.0h0M157.0 900.8h0M153.4 900.4h0M149.9 899.9h0M146.3 899.3h0M142.8 898.5h0M139.3 897.7h0M135.8 896.7h0M132.4 895.7h0M125.7 893.2h0M122.4 891.7h0M119.1 890.2h0M64.1 820.2h0M63.4 816.8h0M62.9 813.3h0M175.6 698.4h0M179.2 698.8h0M182.7 699.3h0M163.9 904.6h0M156.7 904.2h0M153.1 903.9h0M149.5 903.4h0M146.0 902.8h0M142.4 902.1h0M138.9 901.2h0M135.5 900.3h0M132.0 899.2h0M128.6 898.1h0M125.3 896.8h0M121.9 895.4h0M118.7 893.9h0M115.5 892.3h0M61.5 825.1h0M60.7 821.7h0M60.0 818.2h0M59.4 814.8h0M175.9 695.0h0M179.5 695.3h0M183.1 695.8h0M160.0 908.0h0M142.1 905.6h0M128.2 901.7h0M124.9 900.4h0M121.5 899.0h0M118.2 897.6h0M115.0 896.0h0M111.8 894.3h0M108.7 892.6h0M105.6 890.7h0M58.2 826.6h0M57.4 823.2h0M56.6 819.7h0M56.0 816.3h0M55.5 812.8h0M55.1 809.3h0M176.2 691.5h0M179.8 691.8h0M183.4 692.3h0M115.6 900.2h0M112.4 898.6h0M109.2 897.0h0M106.1 895.2h0M103.1 893.3h0M100.1 891.3h0M94.4 887.1h0M55.3 829.6h0M54.4 826.2h0M53.6 822.8h0M52.9 819.4h0M52.3 815.9h0M51.9 812.4h0M51.5 809.0h0M173.8 687.8h0M177.4 688.1h0M180.9 688.4h0M184.5 688.9h0M252.3 879.3h0M106.7 899.6h0M100.6 895.9h0M97.6 893.9h0M94.7 891.8h0M91.9 889.7h0M89.1 887.4h0M55.9 842.2h0M54.6 838.9h0M52.3 832.3h0M51.4 828.9h0M50.5 825.5h0M49.8 822.0h0M48.6 815.1h0M48.1 811.6h0M172.8 684.2h0M176.4 684.5h0M180.0 684.8h0M254.8 881.8h0M252.3 884.3h0M102.5 901.2h0M99.4 899.3h0M96.4 897.4h0M93.5 895.3h0M90.6 893.2h0M87.8 891.0h0M85.1 888.7h0M82.4 886.3h0M79.8 883.9h0M77.3 881.3h0M74.9 878.8h0M68.0 870.6h0M63.9 864.8h0M62.0 861.9h0M60.1 858.8h0M58.4 855.8h0M56.7 852.6h0M55.2 849.5h0M52.3 843.0h0M51.1 839.7h0M49.9 836.4h0M48.8 833.0h0M47.9 829.7h0M47.0 826.2h0M46.2 822.8h0M45.1 815.9h0M44.6 812.4h0M44.3 808.9h0M43.9 801.9h0M44.0 794.9h0M173.9 680.8h0M259.3 882.3h0M254.2 887.4h0M83.3 891.8h0M80.6 889.4h0M78.0 887.0h0M75.4 884.5h0M73.0 881.9h0M70.6 879.3h0M68.3 876.6h0M66.0 873.8h0M63.9 871.0h0M61.8 868.1h0M59.8 865.2h0M58.0 862.2h0M56.2 859.1h0M54.4 856.0h0M52.8 852.9h0M51.3 849.7h0M49.9 846.5h0M48.5 843.2h0M47.3 839.9h0M46.2 836.6h0M45.1 833.2h0M43.3 826.4h0M42.6 822.9h0M41.4 816.0h0M40.3 802.0h0M179.2 677.7h0M182.8 678.1h0M287.0 764.3h0M289.6 774.5h0M290.3 778.0h0M263.0 883.5h0M260.6 886.1h0M255.5 891.0h0M81.4 894.9h0M78.7 892.5h0M71.1 885.1h0M66.3 879.8h0M64.1 877.1h0M61.9 874.3h0M59.8 871.4h0M57.8 868.5h0M55.9 865.6h0M54.0 862.6h0M52.3 859.5h0M50.6 856.4h0M49.0 853.2h0M47.5 850.0h0M46.1 846.8h0M43.6 840.2h0M41.5 833.6h0M39.0 823.3h0M37.9 816.4h0M176.0 673.9h0M267.6 883.8h0M265.2 886.4h0M262.7 889.0h0M257.6 893.9h0M66.9 885.8h0M57.9 874.9h0M56.3 726.6h0M58.3 723.7h0M60.5 720.9h0M62.7 718.1h0M65.0 715.4h0M67.4 712.8h0M69.9 710.2h0M285.8 742.4h0M291.5 755.3h0M269.2 887.3h0M266.8 889.9h0M259.1 897.4h0M46.8 734.8h0M48.6 731.8h0M50.5 728.8h0M52.4 725.8h0M54.5 722.9h0M56.6 720.1h0M58.8 717.3h0M61.1 714.6h0M63.4 711.9h0M65.8 709.3h0M68.3 706.7h0M70.9 704.3h0M291.4 745.9h0M270.6 891.1h0M268.1 893.7h0M263.0 898.6h0M39.2 741.5h0M42.4 735.3h0M44.2 732.2h0M46.0 729.2h0M47.9 726.2h0M49.9 723.3h0M60.9 709.4h0M63.3 706.8h0M274.8 891.6h0M272.4 894.3h0M270.0 896.8h0M36.9 738.1h0M38.5 735.0h0M40.2 731.9h0M42.0 728.9h0M56.6 708.9h0M58.9 706.2h0M284.4 719.4h0" stroke="#4a6ae8" stroke-width="1.6" stroke-linecap="round" fill="none"/><path d="M104.6 853.3h0M102.3 850.6h0M92.4 836.0h0M111.3 864.4h0M108.6 862.1h0M103.4 857.2h0M101.0 854.6h0M87.4 833.9h0M86.0 830.6h0M117.3 873.0h0M111.4 869.0h0M105.9 864.5h0M81.9 830.0h0M80.7 826.7h0M127.9 882.6h0M124.6 881.1h0M118.3 877.8h0M115.2 875.9h0M112.3 873.9h0M109.3 871.9h0M103.8 867.4h0M76.9 826.5h0M147.1 892.3h0M143.6 891.5h0M136.7 889.6h0M133.2 888.5h0M129.9 887.3h0M110.8 877.2h0M130.7 891.3h0M124.0 888.6h0M120.7 887.1h0M114.4 883.7h0M108.3 879.8h0M69.3 826.3h0M67.6 819.5h0M129.0 894.5h0M112.8 886.8h0M109.8 885.0h0M65.8 827.0h0M64.9 823.6h0M112.3 890.6h0M109.2 888.8h0M63.5 831.8h0M62.5 828.5h0M102.6 888.8h0M99.7 886.7h0M94.0 882.3h0M61.4 836.7h0M59.2 830.0h0M97.2 889.3h0M63.0 849.2h0M58.7 839.6h0M57.5 836.3h0M56.3 833.0h0M86.4 885.1h0M83.7 882.7h0M81.2 880.2h0M76.3 875.1h0M69.6 866.8h0M67.6 863.9h0M62.0 854.9h0M60.3 851.8h0M58.7 848.6h0M53.4 835.6h0M72.5 876.1h0M70.2 873.4h0M65.9 867.7h0M53.7 846.3h0M256.8 884.9h0M265.6 896.2h0M267.4 899.3h0M43.9 725.9h0M45.8 722.9h0" stroke="#48b8e8" stroke-width="2.0" stroke-linecap="round" fill="none"/><path d="M100.0 847.9h0M97.9 845.0h0M96.0 842.1h0M94.1 839.1h0M105.9 859.7h0M98.7 851.9h0M94.4 846.2h0M92.5 843.2h0M90.6 840.2h0M89.0 837.1h0M103.3 862.1h0M100.8 859.6h0M98.4 857.0h0M96.0 854.3h0M86.3 839.6h0M84.7 836.5h0M83.2 833.3h0M106.5 869.7h0M101.2 865.0h0M98.6 862.5h0M93.8 857.2h0M78.0 829.8h0M126.5 885.9h0M123.3 884.4h0M116.9 881.0h0M113.8 879.2h0M107.9 875.2h0M105.1 873.0h0M102.3 870.8h0M99.6 868.4h0M75.6 833.7h0M74.4 830.4h0M73.3 827.0h0M111.3 881.8h0M105.4 877.7h0M102.6 875.6h0M99.8 873.3h0M70.4 829.7h0M115.9 888.6h0M106.8 883.0h0M103.8 881.0h0M101.0 878.8h0M98.2 876.6h0M95.5 874.3h0M69.2 837.0h0M68.0 833.7h0M66.8 830.4h0M106.2 886.9h0M103.2 884.9h0M100.3 882.8h0M97.5 880.6h0M94.8 878.3h0M64.7 835.2h0M96.8 884.6h0M88.7 877.6h0M86.1 875.1h0M62.7 839.9h0M60.2 833.3h0M91.6 884.9h0M88.9 882.6h0M86.3 880.2h0M81.2 875.2h0M76.5 869.8h0M72.2 864.3h0M70.2 861.4h0M68.2 858.4h0M66.4 855.4h0M61.5 846.1h0M60.0 842.8h0M78.7 877.7h0M74.0 872.4h0M71.8 869.6h0M65.6 860.9h0M63.8 857.9h0M57.2 845.4h0M258.1 888.6h0M260.2 891.5h0M264.3 892.5h0M261.7 894.9h0M51.9 720.4h0M54.0 717.6h0M56.2 714.8h0M58.5 712.1h0M54.3 711.6h0" stroke="#84ec70" stroke-width="3.0" stroke-linecap="round" fill="none"/><path d="M96.5 849.1h0M93.9 851.5h0M91.8 848.7h0M89.8 845.7h0M88.0 842.7h0M96.2 859.9h0M89.5 851.6h0M83.8 842.7h0M80.7 836.4h0M79.3 833.1h0M97.0 865.9h0M94.5 863.4h0M89.9 858.0h0M97.1 870.9h0M72.8 836.3h0M71.5 833.0h0M92.9 871.8h0M90.4 869.3h0M92.1 875.9h0M89.5 873.5h0M68.9 844.9h0M67.3 841.7h0M66.0 838.5h0M91.3 880.0h0M83.7 872.6h0M81.3 869.9h0M76.8 864.4h0M74.7 861.6h0M72.7 858.6h0M70.7 855.7h0M68.9 852.6h0M67.2 849.5h0M65.6 846.4h0M64.1 843.2h0M83.7 877.7h0M78.8 872.5h0M74.3 867.1h0M64.7 852.3h0M47.8 720.0h0M49.9 717.1h0M52.1 714.3h0" stroke="#ece850" stroke-width="3.6" stroke-linecap="round" fill="none"/><path d="M91.6 854.5h0M87.5 848.7h0M85.6 845.7h0M82.2 839.5h0M92.2 860.7h0M87.7 855.2h0M85.6 852.3h0M78.5 840.1h0M77.0 836.9h0M94.5 868.5h0M92.1 865.9h0M89.7 863.3h0M87.4 860.6h0M85.2 857.8h0M83.1 854.9h0M74.2 839.5h0M88.0 866.7h0M85.6 864.1h0M83.4 861.3h0M81.3 858.5h0M79.2 855.6h0M75.4 849.6h0M72.1 843.4h0M70.6 840.2h0M87.0 870.9h0M84.6 868.3h0M82.3 865.6h0M80.1 862.9h0M78.0 860.0h0M75.9 857.1h0M74.0 854.1h0M72.2 851.1h0M70.5 848.0h0M79.0 867.2h0" stroke="#f8a040" stroke-width="4.0" stroke-linecap="round" fill="none"/><path d="M83.7 849.4h0M81.8 846.4h0M80.1 843.3h0M81.1 852.0h0M79.2 848.9h0M77.4 845.9h0M75.8 842.7h0M77.3 852.7h0M73.7 846.6h0" stroke="#f04030" stroke-width="4.2" stroke-linecap="round" fill="none"/><ellipse cx="166.3" cy="799.6" rx="146.8" ry="142.8" fill="none" stroke="#222" stroke-width="1.2"/><line x1="19.5" y1="799.6" x2="313.1" y2="799.6" stroke="#222" stroke-width="1.2"/><line x1="166.3" y1="656.8" x2="166.3" y2="942.4000000000001" stroke="#222" stroke-width="1.2"/><path d="M782.9 810.2h0M790.5 812.2h0M770.4 809.4h0M784.2 820.9h0M780.6 821.3h0M770.9 817.2h0M766.9 804.2h0M772.8 795.6h0M779.6 793.2h0M795.2 804.9h0M763.7 802.5h0M767.0 796.2h0M799.0 806.6h0M797.6 820.7h0M767.9 824.0h0M806.1 808.8h0M803.1 819.1h0M782.1 831.8h0M768.0 828.3h0M765.0 826.2h0M760.1 820.9h0M756.1 810.9h0M759.9 793.8h0M781.8 782.6h0M779.9 835.3h0M769.3 832.9h0M766.1 831.3h0M759.6 788.4h0M778.5 779.2h0M805.9 793.1h0M812.8 813.5h0M810.5 820.2h0M801.8 831.4h0M757.5 785.4h0M812.4 799.4h0M815.5 817.4h0M812.7 823.9h0M768.8 840.3h0M762.3 837.2h0M751.7 827.6h0M748.1 821.4h0M745.0 807.6h0M745.7 800.5h0M746.5 797.0h0M747.8 793.7h0M758.7 779.6h0M802.7 779.2h0M805.5 781.5h0M820.5 809.9h0M796.7 842.7h0M748.6 829.4h0M746.7 826.5h0M741.5 809.7h0M741.4 806.2h0M752.1 780.7h0M767.0 771.0h0M770.4 770.0h0M798.5 772.5h0M817.7 792.7h0M820.4 802.9h0M798.3 845.9h0M787.9 848.8h0M784.3 849.2h0M756.8 842.2h0M748.7 835.2h0M742.6 826.5h0M739.8 819.9h0M755.9 772.9h0M772.3 765.9h0M779.5 765.1h0M822.7 796.2h0M826.5 818.0h0M825.5 821.4h0M822.7 828.0h0M746.1 837.7h0M742.1 781.9h0M746.5 776.3h0M767.9 763.3h0M771.4 762.5h0M806.2 768.7h0M825.0 831.3h0M810.6 847.1h0M797.7 853.6h0M779.8 856.4h0M772.6 855.7h0M752.5 847.8h0M741.8 838.2h0M737.7 832.3h0M730.9 812.3h0M740.0 778.6h0M794.7 759.9h0M829.4 793.4h0M832.6 822.9h0M742.2 843.8h0M730.6 788.2h0M733.7 781.8h0M735.5 778.8h0M744.8 768.1h0M747.6 765.8h0M766.8 756.3h0M808.6 761.9h0M811.6 763.8h0M819.8 770.6h0M826.5 778.9h0M835.4 825.8h0M834.1 829.1h0M804.3 858.6h0M746.1 851.9h0M725.5 792.0h0M778.7 751.0h0M838.3 801.4h0M840.9 819.2h0M828.7 844.6h0M788.5 866.5h0M784.9 866.8h0M770.4 866.0h0M766.9 865.3h0M720.0 802.2h0M731.1 772.6h0M738.2 764.5h0M740.8 762.1h0M762.9 750.1h0M820.7 761.8h0M823.4 764.1h0M845.8 807.3h0M829.5 849.1h0M827.0 851.7h0M821.7 856.4h0M806.3 865.4h0M744.4 859.4h0M736.1 852.8h0M733.5 850.3h0M716.4 812.3h0M716.2 808.8h0M720.4 784.7h0M727.0 772.2h0M729.1 769.4h0M744.6 754.8h0M848.2 819.6h0M834.9 848.3h0M830.2 853.6h0M760.4 870.9h0M725.8 846.6h0M714.9 824.5h0M750.7 747.3h0M771.3 741.1h0M782.1 740.4h0M799.9 743.0h0M827.9 758.6h0M849.4 805.6h0M851.7 820.4h0M840.8 846.3h0M826.2 861.9h0M793.6 876.4h0M747.9 869.6h0M738.7 864.1h0M727.9 854.7h0M709.1 802.8h0M716.6 775.7h0M724.4 763.8h0M729.1 758.4h0M731.7 756.0h0M737.2 751.4h0M809.2 742.5h0M856.6 809.3h0M855.5 819.9h0M851.6 833.5h0M809.8 875.4h0M792.4 880.2h0M767.1 879.7h0M753.2 875.8h0M737.3 867.4h0M706.7 820.9h0M706.1 817.4h0M705.7 813.9h0M705.5 810.4h0M705.8 799.8h0M708.6 785.9h0M724.4 758.3h0M735.0 748.7h0M753.9 738.3h0M782.3 733.4h0M851.9 781.5h0M855.6 795.2h0M806.8 880.3h0M796.3 883.1h0M782.0 884.5h0M753.7 879.8h0M740.7 873.8h0M701.9 802.9h0M705.0 785.6h0M727.5 750.2h0M755.2 734.1h0M758.7 733.0h0M762.1 732.1h0M818.1 738.9h0M827.3 744.5h0M857.4 838.4h0M855.9 841.7h0M850.6 850.9h0M848.6 853.8h0M831.1 871.5h0M822.1 877.4h0M791.5 887.4h0M717.3 858.9h0M701.9 831.2h0M701.1 785.9h0M715.5 757.7h0M749.6 732.4h0M756.4 730.0h0M781.4 726.4h0M860.4 840.5h0M719.8 747.7h0M725.1 742.9h0M740.0 733.0h0M753.3 727.3h0M770.9 723.4h0M852.3 759.6h0M854.3 762.6h0M863.4 781.8h0M867.3 802.6h0M870.8 812.6h0M869.5 823.1h0M863.1 843.2h0M772.7 894.7h0M732.3 881.1h0M691.7 796.5h0M692.2 793.0h0M692.8 789.6h0M726.7 737.2h0M765.9 720.6h0M825.1 730.6h0M870.6 798.6h0M872.6 826.2h0M871.7 829.6h0M868.5 839.7h0M867.1 842.9h0M858.5 858.4h0M820.6 890.0h0M764.2 897.1h0M753.7 894.6h0M737.1 887.9h0M716.6 873.5h0M689.1 790.0h0M730.4 730.3h0M733.4 728.5h0M749.8 721.1h0M760.2 718.1h0M767.3 716.8h0M863.8 764.6h0M870.4 844.5h0M842.4 880.8h0M814.2 896.4h0M800.3 900.2h0M753.8 898.3h0M721.8 882.4h0M683.8 809.4h0M684.2 798.8h0M746.1 718.6h0M749.5 717.4h0M802.9 714.8h0M880.3 824.0h0M872.9 847.6h0M869.7 853.9h0M855.1 874.0h0M832.6 891.7h0M806.0 902.5h0M681.7 823.8h0M680.9 795.7h0M682.0 788.7h0M683.6 781.8h0M724.8 725.5h0M754.2 712.3h0M757.8 711.4h0M775.6 708.9h0M790.1 709.2h0M804.4 711.5h0M814.8 714.5h0M878.4 781.9h0M881.1 795.8h0M885.2 813.9h0M880.5 838.0h0M840.6 890.9h0M837.6 892.8h0M825.0 899.6h0M765.2 907.9h0M676.6 807.5h0M678.1 790.0h0M737.0 714.8h0M740.3 713.3h0M764.5 706.6h0M771.6 705.7h0M796.8 706.5h0M830.8 717.6h0M887.3 826.0h0M885.7 832.9h0M882.6 843.0h0M875.1 859.0h0M862.6 876.2h0M855.1 883.9h0M834.9 898.6h0M828.5 901.9h0M818.6 906.0h0M808.3 909.2h0M786.9 912.5h0M754.7 909.5h0M843.2 721.0h0M879.7 858.1h0M877.9 861.2h0M876.1 864.2h0M828.2 905.9h0M824.9 907.4h0M818.2 909.9h0M814.8 911.0h0M895.3 821.0h0M870.2 878.4h0M857.7 891.1h0M711.2 717.7h0M732.8 705.1h0M760.2 696.6h0M774.5 694.9h0M894.8 789.5h0M897.4 830.6h0M881.2 869.5h0M879.2 872.5h0M795.6 922.3h0M703.1 719.6h0M720.7 707.3h0M764.6 692.3h0M771.8 691.6h0M793.4 691.9h0M903.0 817.0h0M853.4 903.5h0M804.2 924.5h0M716.1 705.9h0M763.2 689.0h0M855.3 906.5h0M717.2 701.1h0M750.6 687.8h0M754.1 687.0h0M906.1 792.3h0M890.1 875.4h0M888.2 878.4h0M849.5 914.6h0M846.4 916.4h0M816.6 928.8h0M809.6 930.6h0M698.0 904.4h0M735.1 688.9h0M908.5 784.4h0M901.6 862.4h0M898.4 868.7h0M869.5 904.4h0M798.3 936.1h0M695.3 707.7h0M746.0 681.7h0M781.7 677.2h0M855.9 919.0h0M852.8 920.9h0M694.1 910.4h0M694.5 703.8h0M766.8 674.4h0M912.1 856.2h0M901.1 878.2h0M862.1 919.1h0M802.5 942.6h0M720.1 683.7h0M924.0 824.1h0M922.3 834.5h0M884.2 905.2h0M830.2 939.3h0M805.9 945.7h0M731.3 939.2h0M714.9 932.1h0M637.5 795.5h0M639.4 781.6h0M643.8 764.5h0M754.4 669.1h0M908.7 742.3h0" stroke="#c4c8dc" stroke-width="0.9" stroke-linecap="round" fill="none"/><path d="M795.9 783.1h0M745.8 814.6h0M814.4 786.4h0M816.2 789.5h0M815.2 832.9h0M734.2 808.7h0M789.4 762.3h0M796.4 764.1h0M814.6 775.4h0M831.4 807.5h0M830.8 814.5h0M829.2 821.5h0M733.2 822.7h0M730.6 805.2h0M821.3 777.6h0M823.4 780.5h0M737.5 838.4h0M834.3 798.5h0M723.7 813.0h0M723.4 805.9h0M821.4 767.1h0M826.2 772.3h0M832.1 781.2h0M835.0 787.7h0M840.1 822.7h0M815.4 856.6h0M729.4 839.3h0M723.1 826.6h0M722.0 823.2h0M721.1 795.2h0M826.0 766.7h0M726.9 842.0h0M725.0 839.0h0M719.2 788.0h0M824.6 760.4h0M834.1 771.0h0M837.9 777.0h0M723.7 843.7h0M721.8 840.7h0M720.3 776.5h0M810.0 746.7h0M835.1 766.4h0M841.1 775.2h0M847.5 791.7h0M741.7 866.1h0M721.2 846.3h0M717.5 840.3h0M715.9 837.1h0M714.4 833.9h0M713.1 830.6h0M709.3 813.4h0M709.1 809.9h0M712.5 785.5h0M715.1 778.9h0M815.7 745.6h0M821.8 749.3h0M832.9 758.4h0M839.8 766.6h0M841.8 769.5h0M843.7 772.6h0M848.3 782.1h0M853.0 806.3h0M740.3 869.4h0M726.3 858.2h0M705.4 806.9h0M711.0 779.3h0M714.1 772.8h0M715.9 769.7h0M729.4 753.2h0M800.2 735.8h0M803.7 736.8h0M831.8 752.5h0M836.9 757.5h0M839.3 760.2h0M850.5 778.3h0M854.9 791.7h0M858.0 825.4h0M737.7 871.9h0M723.8 860.7h0M711.1 843.6h0M708.0 837.3h0M707.3 778.9h0M711.9 769.4h0M742.1 739.9h0M811.6 735.9h0M814.9 737.3h0M838.2 753.7h0M840.6 756.3h0M847.2 764.7h0M852.5 773.9h0M854.0 777.1h0M856.5 783.7h0M859.9 831.8h0M745.7 880.3h0M722.2 864.1h0M713.0 853.3h0M711.0 850.3h0M709.1 847.3h0M707.4 844.2h0M705.8 841.0h0M699.4 820.9h0M698.5 799.8h0M699.0 796.3h0M703.3 779.2h0M704.6 776.0h0M711.4 763.5h0M819.5 735.7h0M822.7 737.4h0M834.5 745.5h0M851.0 764.1h0M860.1 783.2h0M861.1 786.6h0M861.9 790.0h0M849.4 858.7h0M735.6 879.0h0M724.0 870.6h0M711.8 857.6h0M709.7 854.8h0M707.7 851.8h0M705.8 848.8h0M701.1 839.2h0M699.8 836.0h0M694.6 804.7h0M700.3 777.2h0M703.1 770.7h0M704.8 767.5h0M706.5 764.4h0M708.4 761.4h0M710.5 758.5h0M714.9 752.9h0M806.6 726.7h0M838.0 743.8h0M845.7 751.3h0M856.2 765.6h0M860.9 775.2h0M870.1 819.6h0M718.2 870.1h0M710.9 862.3h0M706.6 856.7h0M691.3 814.0h0M691.3 800.0h0M699.7 769.6h0M711.2 751.8h0M713.5 749.1h0M794.6 720.4h0M821.9 729.0h0M831.2 734.3h0M834.2 736.3h0M837.1 738.5h0M845.1 745.5h0M849.9 750.7h0M852.2 753.4h0M858.3 762.2h0M860.1 765.2h0M863.2 771.5h0M862.3 852.4h0M743.6 890.9h0M730.8 884.3h0M722.0 878.2h0M711.6 868.5h0M694.4 841.8h0M693.1 838.5h0M691.9 835.2h0M689.2 825.0h0M690.7 783.1h0M706.6 751.7h0M708.9 749.0h0M816.8 722.8h0M826.5 727.4h0M835.7 733.0h0M846.7 742.1h0M849.2 744.6h0M853.9 749.9h0M856.1 752.7h0M858.2 755.6h0M865.4 767.8h0M872.4 787.7h0M874.6 805.2h0M730.7 888.4h0M716.2 877.9h0M713.6 875.5h0M711.0 873.0h0M708.6 870.5h0M703.9 865.0h0M687.7 833.7h0M685.2 823.4h0M684.3 816.5h0M684.6 795.3h0M689.6 774.8h0M690.9 771.5h0M692.4 768.3h0M699.2 755.9h0M710.4 742.0h0M733.0 724.7h0M820.1 720.3h0M841.6 733.0h0M852.2 742.6h0M854.6 745.3h0M861.2 753.7h0M863.2 756.6h0M871.4 772.3h0M872.7 775.6h0M873.8 779.0h0M876.4 789.2h0M877.5 796.2h0M878.1 803.2h0M881.6 813.4h0M714.6 881.3h0M712.0 878.9h0M680.7 816.8h0M680.2 806.3h0M687.0 771.7h0M688.3 768.5h0M689.8 765.2h0M703.4 744.4h0M782.9 708.8h0M811.3 713.4h0M818.2 715.7h0M828.0 720.2h0M831.2 721.9h0M834.3 723.7h0M863.1 750.1h0M865.2 753.0h0M868.9 759.1h0M881.5 799.3h0M885.3 810.4h0M737.7 899.9h0M722.0 891.3h0M703.1 875.0h0M679.7 831.9h0M677.6 821.6h0M676.7 811.1h0M705.0 737.3h0M807.4 708.6h0M837.0 721.2h0M853.9 734.3h0M858.9 739.4h0M863.5 744.8h0M865.7 747.6h0M873.3 759.5h0M874.9 762.7h0M888.9 812.0h0M744.3 906.4h0M721.8 895.4h0M715.9 891.3h0M702.5 879.6h0M681.1 847.2h0M675.6 830.4h0M674.3 823.5h0M673.4 816.5h0M673.0 809.5h0M673.0 805.9h0M682.1 764.9h0M701.8 735.5h0M704.3 733.0h0M706.9 730.5h0M796.7 702.9h0M810.8 705.9h0M824.4 710.6h0M834.0 715.4h0M837.2 717.1h0M846.1 723.1h0M854.4 729.9h0M876.3 757.6h0M885.5 780.6h0M888.2 794.4h0M888.8 801.4h0M892.5 810.8h0M889.7 831.7h0M888.9 835.1h0M867.7 875.7h0M863.0 881.1h0M852.6 890.8h0M846.9 895.2h0M793.6 915.5h0M779.2 916.1h0M775.5 916.0h0M761.2 914.4h0M754.1 912.9h0M706.7 888.5h0M672.3 782.7h0M673.1 779.3h0M675.2 772.5h0M706.7 725.9h0M715.1 719.2h0M754.2 701.4h0M782.8 698.3h0M790.1 698.6h0M793.7 699.0h0M797.2 699.4h0M804.4 700.7h0M814.8 703.4h0M818.3 704.5h0M834.7 711.7h0M844.0 717.3h0M852.6 723.6h0M860.6 730.8h0M870.0 741.5h0M874.2 747.3h0M876.1 750.2h0M878.0 753.3h0M879.7 756.4h0M884.3 765.9h0M888.9 779.3h0M889.8 782.7h0M892.1 796.7h0M892.4 800.2h0M892.5 803.7h0M896.2 810.5h0M895.7 817.5h0M894.8 824.5h0M893.5 831.4h0M890.7 841.6h0M876.6 870.0h0M872.4 875.7h0M867.8 881.1h0M865.4 883.7h0M860.4 888.7h0M840.3 903.6h0M834.1 907.0h0M817.5 913.9h0M796.5 918.6h0M789.3 919.4h0M785.7 919.6h0M774.9 919.5h0M760.6 917.9h0M750.1 915.5h0M698.1 885.3h0M676.0 853.5h0M668.1 784.7h0M670.8 774.5h0M673.1 767.8h0M703.0 724.5h0M736.1 703.6h0M742.8 701.1h0M785.3 694.8h0M788.9 695.0h0M803.1 696.8h0M836.8 708.8h0M874.3 741.2h0M886.7 762.5h0M889.4 769.1h0M890.5 772.4h0M891.6 775.8h0M895.3 793.0h0M895.7 837.5h0M888.2 857.2h0M884.9 863.5h0M874.9 878.2h0M865.5 888.8h0M862.9 891.2h0M854.7 898.2h0M823.5 915.5h0M788.4 923.0h0M774.0 923.0h0M756.1 920.6h0M716.4 904.5h0M699.4 891.5h0M696.8 889.0h0M666.8 775.2h0M667.8 771.9h0M711.6 713.1h0M717.6 709.1h0M831.4 702.2h0M837.9 705.4h0M888.8 758.4h0M891.6 764.9h0M894.0 771.5h0M895.1 774.9h0M896.9 781.7h0M898.8 792.1h0M899.8 806.1h0M903.4 810.0h0M902.6 820.5h0M894.8 851.2h0M891.9 857.7h0M874.5 884.3h0M838.1 912.9h0M834.9 914.5h0M818.2 921.1h0M797.0 925.7h0M793.5 926.1h0M789.9 926.4h0M779.0 926.7h0M743.5 921.0h0M705.5 901.2h0M702.7 899.0h0M669.9 857.4h0M659.2 795.6h0M662.2 778.3h0M663.2 774.8h0M664.2 771.5h0M665.3 768.1h0M669.3 758.3h0M693.6 723.5h0M713.0 707.8h0M719.2 704.1h0M722.3 702.3h0M738.7 695.1h0M759.6 689.5h0M766.7 688.5h0M777.5 687.8h0M788.4 687.9h0M799.1 689.0h0M809.8 691.1h0M813.3 691.9h0M826.9 696.4h0M857.9 714.3h0M871.1 726.3h0M875.8 731.6h0M889.7 752.2h0M896.8 768.4h0M902.0 788.9h0M903.1 799.4h0M903.3 803.0h0M907.0 809.9h0M906.6 816.9h0M902.1 841.2h0M891.0 867.2h0M806.1 927.7h0M795.4 929.4h0M738.4 923.0h0M709.6 908.5h0M698.2 899.9h0M671.0 867.1h0M669.3 864.0h0M655.9 792.2h0M657.0 785.2h0M657.7 781.8h0M668.5 751.9h0M670.1 748.8h0M696.8 715.7h0M699.6 713.3h0M705.2 708.9h0M711.1 704.9h0M723.6 697.7h0M747.1 688.7h0M757.7 686.3h0M764.8 685.2h0M775.6 684.3h0M804.4 686.3h0M814.9 688.7h0M825.2 692.0h0M828.6 693.3h0M835.2 696.2h0M865.2 715.7h0M870.4 720.6h0M880.0 731.1h0M898.0 761.6h0M905.6 788.8h0M906.5 795.8h0M906.9 802.8h0M907.0 806.3h0M909.1 826.4h0M905.1 843.6h0M904.1 846.9h0M897.2 863.2h0M893.9 869.4h0M892.0 872.4h0M806.1 931.3h0M791.9 933.3h0M773.9 933.5h0M678.1 884.1h0M664.8 863.3h0M653.5 784.5h0M661.8 757.6h0M695.2 712.4h0M712.5 699.8h0M766.6 681.5h0M784.5 680.7h0M788.1 680.9h0M798.9 681.9h0M809.5 683.8h0M833.4 691.5h0M866.7 712.3h0M872.0 717.1h0M892.0 741.9h0M895.5 748.0h0M901.6 760.8h0M902.8 764.1h0M905.1 770.7h0M907.0 777.5h0M907.8 781.0h0M910.5 801.9h0M910.6 805.4h0M912.3 828.9h0M911.7 832.3h0M910.9 835.8h0M910.1 839.2h0M855.2 915.2h0M846.0 920.7h0M836.3 925.5h0M794.8 936.5h0M787.6 937.1h0M784.0 937.2h0M741.3 931.3h0M724.5 924.9h0M714.9 920.1h0M697.0 908.1h0M666.5 873.7h0M659.8 861.2h0M658.4 858.0h0M650.8 834.5h0M651.1 778.6h0M653.9 768.4h0M663.6 745.7h0M689.9 712.4h0M692.5 710.0h0M729.0 687.5h0M735.7 684.9h0M760.1 678.8h0M774.4 677.3h0M785.3 677.2h0M796.1 678.0h0M799.6 678.4h0M803.2 679.0h0M810.3 680.3h0M813.8 681.2h0M817.3 682.1h0M827.5 685.4h0M830.9 686.6h0M847.1 694.3h0M859.2 702.0h0M867.7 708.5h0M873.1 713.2h0M878.2 718.2h0M880.6 720.8h0M887.4 729.0h0M891.6 734.8h0M895.5 740.7h0M907.4 766.3h0M909.5 773.0h0M912.5 786.8h0M913.1 790.3h0M917.2 819.7h0M911.5 847.3h0M864.7 912.8h0M861.8 915.0h0M843.4 926.0h0M836.9 929.1h0M813.0 937.0h0M809.5 937.8h0M777.2 940.7h0M734.8 932.9h0M721.5 927.4h0M697.0 912.6h0M688.7 905.8h0M678.6 895.7h0M667.5 881.8h0M658.4 866.5h0M656.9 863.4h0M654.0 856.9h0M648.4 840.1h0M644.5 815.8h0M644.2 808.8h0M644.2 805.2h0M644.3 801.7h0M644.5 798.2h0M644.8 794.7h0M645.7 787.7h0M654.2 757.1h0M658.6 747.5h0M660.3 744.4h0M689.0 708.4h0M728.4 683.9h0M731.8 682.6h0M738.6 680.2h0M752.5 676.6h0M774.0 673.8h0M792.0 674.1h0M827.2 681.5h0M837.3 685.5h0M840.5 687.0h0M843.8 688.5h0M847.0 690.2h0M853.2 693.8h0M894.5 732.6h0M898.4 738.6h0M900.2 741.6h0M903.6 747.9h0M905.1 751.0h0M909.3 760.8h0M912.6 770.9h0M914.4 777.7h0M915.2 781.1h0M916.9 791.6h0M917.7 802.1h0M920.6 822.1h0M919.6 829.1h0M919.0 832.5h0M918.3 836.0h0M910.8 859.4h0M878.7 905.6h0M859.1 921.1h0M840.3 931.4h0M837.0 932.9h0M809.6 941.4h0M806.1 942.1h0M795.4 943.5h0M784.6 944.2h0M777.4 944.2h0M770.2 943.9h0M688.6 910.4h0M683.3 905.7h0M659.1 875.2h0M655.7 869.0h0M654.1 865.9h0M652.6 862.7h0M651.2 859.5h0M649.9 856.2h0M645.4 842.8h0M640.7 801.1h0M640.9 797.6h0M642.7 783.6h0M645.0 773.3h0M645.9 769.9h0M646.9 766.5h0M649.2 759.9h0M651.9 753.3h0M653.3 750.1h0M654.9 747.0h0M684.6 707.5h0M695.6 698.4h0M701.4 694.3h0M704.4 692.3h0M707.4 690.5h0M726.6 680.8h0M736.7 677.1h0M757.7 672.0h0M828.6 678.3h0M845.1 685.3h0M854.5 690.4h0M860.6 694.3h0M863.5 696.3h0M874.7 705.1h0M884.9 715.0h0M887.3 717.7h0M911.5 756.6h0M912.8 759.8h0M914.0 763.2h0M917.9 776.7h0M918.6 780.1h0M919.9 787.0h0M920.4 790.5h0M921.3 801.0h0M925.0 810.1h0M922.9 831.1h0M919.8 844.8h0M898.1 889.0h0M886.7 902.6h0M881.7 907.7h0M873.7 914.8h0M868.1 919.2h0M849.9 930.6h0M846.7 932.3h0M784.4 947.7h0M777.2 947.7h0M755.7 945.6h0M748.6 944.2h0M745.1 943.3h0M738.2 941.4h0M728.0 937.9h0M696.5 921.0h0M688.0 914.5h0M685.2 912.2h0M682.6 909.8h0M675.0 902.3h0M661.6 885.7h0M650.9 867.4h0M648.0 861.0h0M646.6 857.7h0M644.2 851.1h0M643.1 847.7h0M639.0 830.6h0M637.6 820.1h0M637.1 802.6h0M637.8 792.0h0M640.9 774.7h0M642.7 767.9h0M644.9 761.2h0M650.3 748.2h0M651.9 745.0h0M684.2 703.1h0M686.9 700.8h0M726.7 677.0h0M730.1 675.7h0M757.9 668.4h0M761.5 667.9h0M842.3 680.0h0M851.9 684.8h0M901.4 730.1h0M907.0 739.2h0M910.3 745.4h0M916.0 758.3h0M918.4 765.0h0M922.7 782.1h0M923.8 789.0h0" stroke="#a0acec" stroke-width="1.1" stroke-linecap="round" fill="none"/><path d="M839.5 780.1h0M717.4 847.1h0M709.5 840.5h0M706.0 782.2h0M855.3 780.4h0M837.2 747.8h0M704.1 845.7h0M702.5 842.5h0M840.7 746.2h0M702.8 850.7h0M698.0 841.3h0M694.5 831.3h0M703.0 763.4h0M706.8 757.4h0M708.9 754.6h0M847.6 748.1h0M704.8 860.3h0M699.0 851.3h0M698.8 763.5h0M700.6 760.5h0M699.7 859.3h0M697.8 856.3h0M694.3 850.1h0M691.3 843.7h0M693.9 765.1h0M705.6 747.3h0M838.8 730.9h0M856.9 748.0h0M859.2 750.8h0M738.8 896.6h0M735.6 895.0h0M726.2 889.8h0M692.2 853.8h0M696.9 752.9h0M701.1 747.2h0M848.7 734.3h0M858.7 744.5h0M728.1 895.0h0M694.3 863.9h0M692.3 861.0h0M688.4 760.1h0M690.1 757.1h0M848.6 729.5h0M851.3 731.9h0M877.8 769.1h0M737.6 903.8h0M728.0 899.0h0M710.3 886.9h0M697.7 874.3h0M689.3 862.9h0M685.7 856.8h0M686.9 755.4h0M694.8 743.6h0M848.9 725.2h0M862.0 737.4h0M747.2 911.0h0M743.7 909.9h0M740.4 908.7h0M724.1 900.9h0M712.2 893.0h0M709.4 890.8h0M696.5 878.4h0M680.7 854.9h0M675.2 841.8h0M674.1 838.5h0M672.2 831.7h0M671.5 828.2h0M670.9 824.7h0M669.9 817.7h0M669.4 807.2h0M669.6 800.1h0M669.9 796.6h0M685.9 750.2h0M696.6 735.9h0M699.0 733.3h0M841.0 715.3h0M849.8 721.4h0M858.0 728.3h0M865.5 736.0h0M867.8 738.7h0M881.3 759.5h0M883.9 857.8h0M764.2 918.5h0M757.1 917.2h0M753.6 916.4h0M746.6 914.5h0M726.7 906.4h0M711.6 897.0h0M706.0 892.5h0M688.8 874.6h0M674.6 850.2h0M669.0 833.5h0M667.5 826.7h0M666.5 819.7h0M665.8 805.7h0M666.5 795.1h0M667.5 788.2h0M677.3 758.1h0M695.4 732.0h0M820.5 701.5h0M823.8 702.8h0M827.2 704.2h0M840.0 710.6h0M846.0 714.4h0M865.1 730.4h0M777.6 923.1h0M745.7 917.9h0M738.8 915.6h0M702.0 893.9h0M694.3 886.5h0M687.3 878.5h0M679.1 866.9h0M675.6 860.7h0M674.0 857.6h0M672.5 854.4h0M671.1 851.1h0M668.5 844.5h0M667.4 841.2h0M666.4 837.8h0M662.6 817.0h0M662.2 810.0h0M662.2 806.5h0M662.3 803.0h0M663.7 789.0h0M673.1 758.7h0M674.6 755.6h0M700.4 722.0h0M789.8 691.5h0M821.5 698.2h0M828.2 700.8h0M844.1 708.9h0M850.1 712.9h0M868.9 729.2h0M875.8 737.3h0M885.6 752.1h0M890.2 761.6h0M771.8 926.4h0M768.2 926.0h0M757.5 924.5h0M750.5 922.9h0M747.0 922.0h0M733.4 917.3h0M726.8 914.3h0M717.3 909.3h0M714.3 907.4h0M699.9 896.7h0M692.1 889.4h0M687.3 884.1h0M685.0 881.4h0M682.8 878.6h0M680.7 875.7h0M678.7 872.8h0M676.8 869.8h0M673.2 863.7h0M667.1 850.9h0M665.8 847.6h0M663.6 840.9h0M662.6 837.6h0M661.0 830.7h0M659.3 820.2h0M659.0 816.7h0M659.6 792.1h0M672.5 752.0h0M836.8 700.8h0M840.0 702.5h0M846.2 706.1h0M849.2 708.0h0M852.2 710.0h0M855.1 712.1h0M860.7 716.5h0M866.1 721.3h0M868.6 723.8h0M880.2 737.2h0M882.3 740.1h0M886.2 746.1h0M891.3 755.4h0M902.5 792.4h0M777.4 930.2h0M755.8 927.7h0M741.9 924.1h0M735.1 921.7h0M728.4 919.0h0M721.9 915.8h0M718.8 914.2h0M712.6 910.5h0M706.6 906.5h0M695.5 897.5h0M683.1 884.7h0M676.7 876.2h0M674.7 873.2h0M660.9 844.5h0M659.9 841.1h0M656.7 827.4h0M656.2 823.9h0M655.2 813.3h0M655.0 806.3h0M655.3 799.2h0M656.4 788.7h0M689.1 723.1h0M807.9 687.0h0M838.5 697.7h0M850.9 704.9h0M856.8 709.0h0M877.7 728.4h0M886.3 739.7h0M890.1 745.7h0M905.0 785.3h0M886.1 881.2h0M777.5 933.7h0M742.0 927.9h0M712.6 914.7h0M703.7 908.8h0M690.0 897.3h0M687.5 894.8h0M685.0 892.2h0M682.7 889.6h0M680.4 886.9h0M673.9 878.4h0M655.9 840.3h0M655.0 836.9h0M654.2 833.4h0M651.7 816.0h0M651.4 809.0h0M651.4 805.5h0M651.5 802.0h0M651.7 798.5h0M652.0 795.0h0M652.4 791.5h0M668.1 745.0h0M690.0 717.2h0M839.9 694.5h0M846.3 697.9h0M849.4 699.7h0M852.4 701.6h0M869.4 714.6h0M874.5 719.6h0M900.2 757.5h0M904.0 767.4h0M906.1 774.1h0M888.8 883.6h0M884.4 889.2h0M780.3 937.2h0M751.7 934.1h0M744.7 932.3h0M727.8 926.4h0M694.3 905.9h0M688.9 901.2h0M676.8 888.2h0M672.4 882.5h0M670.4 879.6h0M668.4 876.7h0M663.0 867.5h0M653.5 844.8h0M650.1 831.1h0M648.0 813.6h0M647.8 810.1h0M647.8 806.6h0M648.3 796.0h0M651.9 775.2h0M665.4 742.6h0M667.2 739.6h0M806.7 679.6h0M840.8 691.0h0M844.0 692.6h0M865.0 706.3h0M875.6 715.7h0M885.2 726.2h0M889.6 731.9h0M892.2 885.0h0M780.8 940.7h0M773.6 940.5h0M762.8 939.6h0M752.1 937.7h0M728.0 930.3h0M705.8 918.7h0M702.8 916.8h0M691.4 908.1h0M686.0 903.3h0M647.6 836.7h0M663.9 738.2h0M665.8 735.2h0M686.4 710.8h0M788.4 673.9h0M795.6 674.4h0M802.8 675.4h0M809.9 676.7h0M813.4 677.5h0M820.4 679.3h0M830.6 682.7h0M856.2 695.7h0M859.2 697.6h0M867.9 704.0h0M873.3 708.6h0M878.5 713.5h0M885.8 721.4h0M766.6 943.5h0M752.4 941.4h0M738.5 937.8h0M691.4 912.7h0M658.2 740.7h0M661.9 734.7h0M679.5 712.5h0M782.8 670.1h0M821.8 676.1h0M838.6 682.2h0M841.9 683.7h0M851.4 688.6h0M877.4 707.5h0M889.6 720.4h0M894.0 725.9h0M898.2 731.7h0M902.0 737.6h0M905.5 743.8h0M896.0 891.9h0M791.6 947.4h0M773.6 947.6h0M770.0 947.4h0M766.4 947.0h0M672.6 899.7h0M649.4 864.2h0M657.0 735.7h0M822.1 672.5h0M825.6 673.5h0M839.0 678.5h0M858.1 688.5h0M867.0 694.4h0M869.9 696.6h0M903.4 733.1h0M920.3 771.7h0M921.2 775.2h0" stroke="#4a6ae8" stroke-width="1.6" stroke-linecap="round" fill="none"/><path d="M701.8 862.2h0M696.0 853.2h0M701.3 752.9h0M699.9 865.7h0M699.0 750.0h0M690.5 858.0h0M691.9 754.0h0M693.9 751.0h0M695.9 748.1h0M727.3 902.7h0M718.0 897.1h0M689.9 870.1h0M687.8 867.1h0M684.0 861.1h0M684.1 753.2h0M694.3 738.7h0M736.5 910.9h0M733.2 909.5h0M684.7 868.9h0M679.2 859.8h0M666.2 816.2h0M665.8 809.2h0M682.5 748.9h0M690.7 737.4h0M722.5 908.2h0M710.4 900.5h0M679.9 746.3h0M690.5 732.1h0M736.7 918.6h0M720.4 911.0h0M661.7 834.1h0M660.3 827.2h0M658.8 813.2h0M658.6 806.2h0M676.0 745.8h0M677.9 742.8h0M688.7 728.7h0M766.5 929.4h0M678.7 879.1h0M655.5 795.7h0M673.7 742.6h0M883.9 884.1h0M763.1 932.5h0M718.9 918.2h0M671.9 875.5h0M652.0 819.5h0M651.5 812.5h0M685.0 722.2h0M886.6 886.4h0M769.5 936.8h0M762.4 936.0h0M755.3 934.8h0M682.3 719.9h0M890.0 887.8h0M887.8 890.6h0M678.8 718.4h0M681.3 715.8h0M799.2 674.8h0M663.8 731.7h0M793.6 670.7h0M800.7 671.5h0M807.8 672.7h0M893.8 894.6h0M662.9 726.8h0M783.0 666.6h0M786.6 666.7h0M793.8 667.2h0M797.4 667.5h0M801.0 668.0h0M815.2 670.6h0M818.6 671.5h0" stroke="#48b8e8" stroke-width="2.0" stroke-linecap="round" fill="none"/><path d="M692.7 746.5h0M687.9 747.2h0M689.9 744.3h0M692.0 741.4h0M684.4 745.9h0M688.5 740.1h0M681.8 743.4h0M686.0 737.6h0M688.2 734.8h0M686.4 731.4h0M759.4 928.4h0M675.7 739.7h0M684.3 728.3h0M671.9 739.0h0M673.8 736.0h0M682.6 724.9h0M669.1 736.6h0M671.1 733.7h0M679.9 722.5h0M667.8 732.3h0M674.2 723.8h0M676.5 721.0h0M665.8 728.8h0M672.4 720.4h0M674.7 717.7h0M677.1 715.1h0M811.3 673.4h0M818.3 675.1h0M660.8 729.7h0M665.0 724.0h0M674.1 713.1h0" stroke="#84ec70" stroke-width="3.0" stroke-linecap="round" fill="none"/><path d="M686.4 743.0h0M683.8 740.5h0M679.9 739.9h0M682.0 737.0h0M684.1 734.2h0M677.7 736.7h0M679.8 733.9h0M682.0 731.1h0M678.1 730.3h0M680.3 727.6h0M675.4 728.0h0M677.6 725.2h0M669.8 729.4h0M672.0 726.6h0M667.9 725.9h0M667.1 721.1h0M669.4 718.4h0M671.7 715.7h0" stroke="#ece850" stroke-width="3.6" stroke-linecap="round" fill="none"/><path d="M675.9 733.2h0M673.2 730.8h0M670.1 723.1h0" stroke="#f8a040" stroke-width="4.0" stroke-linecap="round" fill="none"/><ellipse cx="781" cy="807.2" rx="147.2" ry="143.7" fill="none" stroke="#222" stroke-width="1.2"/><line x1="633.8" y1="807.2" x2="928.2" y2="807.2" stroke="#222" stroke-width="1.2"/><line x1="781" y1="663.5" x2="781" y2="950.9000000000001" stroke="#222" stroke-width="1.2"/><circle cx="680.5" cy="711.5" r="3.2" fill="#f04838"/><circle cx="673.5" cy="727" r="2.6" fill="#f08838"/><ellipse cx="80.5" cy="854" rx="37" ry="21" transform="rotate(58 80.5 854)" fill="none" stroke="#111" stroke-width="1.6" stroke-dasharray="6,3"/><ellipse cx="677.5" cy="730" rx="32" ry="15" transform="rotate(-58 677.5 730)" fill="none" stroke="#111" stroke-width="1.6" stroke-dasharray="6,3"/><text x="21.0" y="658.5" font-size="21" text-anchor="start" fill="#000" font-weight="bold" >g</text><text x="158.0" y="653.0" font-size="14.5" text-anchor="start" fill="#000" font-weight="normal" >Φ=0°</text><text x="172.0" y="677.5" font-size="15" text-anchor="start" fill="#000" font-weight="normal" >90°</text><text x="167.0" y="800.0" font-size="14.5" text-anchor="start" fill="#000" font-weight="normal" >θ=0°</text><text x="42.8" y="818.5" font-size="15" text-anchor="start" fill="#000" font-weight="normal"  textLength="91" lengthAdjust="spacingAndGlyphs">preferred view</text><line x1="178.4" y1="782" x2="178.4" y2="685.0" stroke="#000" stroke-width="1.3"/><path d="M178.4,677 L181.8,685.0 L175.0,685.0 Z" fill="#000"/><path d="M206,649.5 Q226,655 237.3,662.6" fill="none" stroke="#000" stroke-width="1.5"/><path d="M244,667 L235.5,665.4 L239.2,659.8 Z" fill="#000"/><text x="638.0" y="657.5" font-size="21" text-anchor="start" fill="#000" font-weight="bold" >i</text><text x="773.0" y="661.0" font-size="14.5" text-anchor="start" fill="#000" font-weight="normal" >Φ=0°</text><text x="784.0" y="686.0" font-size="15" text-anchor="start" fill="#000" font-weight="normal" >90°</text><text x="786.0" y="809.0" font-size="14.5" text-anchor="start" fill="#000" font-weight="normal" >θ=0°</text><text x="682.8" y="761.3" font-size="15" text-anchor="start" fill="#000" font-weight="normal"  textLength="90.2" lengthAdjust="spacingAndGlyphs">preferred view</text><line x1="796.2" y1="787.7" x2="796.2" y2="695.8" stroke="#000" stroke-width="1.3"/><path d="M796.2,687.8 L799.6,695.8 L792.8,695.8 Z" fill="#000"/><path d="M825,656 Q848,660 856.2,667.9" fill="none" stroke="#000" stroke-width="1.6"/><path d="M862,673.5 L853.9,670.4 L858.6,665.5 Z" fill="#000"/><line x1="89" y1="800" x2="324.5" y2="640.3" stroke="#888" stroke-width="1.1" stroke-dasharray="7,4"/><line x1="96" y1="887.6" x2="324.5" y2="951.5" stroke="#888" stroke-width="1.1" stroke-dasharray="7,4"/><line x1="694.5" y1="703.8" x2="937.6" y2="640.3" stroke="#888" stroke-width="1.1" stroke-dasharray="7,4"/><line x1="662.4" y1="755.6" x2="937.6" y2="951" stroke="#888" stroke-width="1.1" stroke-dasharray="7,4"/><g filter="url(#speck)"><path d="M985,188 L1000,180 L1010,184 L1020,179 L1035,183 L1048,180 L1060,183 L1072,179 L1085,183 L1097,187 L1099,205 L1096,218 L1099,235 L1096,255 L1084,261 L1070,258 L1058,261 L1045,258 L1032,261 L1018,258 L1005,261 L990,257 L984,245 L987,230 L983,215 L986,200 Z" fill="#fff"/></g><g filter="url(#speck)"><path d="M951.8,361.0 L950.4,365.6 L947.9,369.8 L945.6,373.7 L944.0,377.7 L942.9,382.1 L941.6,386.8 L939.4,391.1 L935.8,394.2 L931.3,396.0 L926.5,396.7 L922.0,397.3 L917.9,398.5 L913.7,400.4 L909.3,402.4 L904.5,403.3 L899.8,402.5 L895.7,400.0 L892.1,396.7 L888.8,393.6 L885.3,391.1 L881.2,389.1 L877.0,386.8 L873.3,383.6 L871.0,379.5 L870.3,374.6 L870.7,369.8 L871.1,365.3 L870.8,361.0 L869.9,356.6 L869.0,351.8 L869.1,347.0 L871.0,342.5 L874.3,339.0 L878.3,336.3 L882.1,333.8 L885.3,330.9 L888.2,327.4 L891.4,323.7 L895.3,320.8 L899.8,319.5 L904.7,319.9 L909.3,321.4 L913.6,322.8 L917.9,323.5 L922.4,323.6 L927.2,323.7 L931.9,325.0 L935.8,327.8 L938.5,331.8 L940.3,336.3 L941.9,340.5 L944.0,344.3 L946.7,347.9 L949.6,351.8 L951.6,356.2Z" fill="#fff"/></g><circle cx="909.3" cy="361" r="8.4" fill="none" stroke="#3358b8" stroke-width="5.6" filter="url(#bump)"/><circle cx="909.3" cy="361" r="5.3" fill="#fff"/><ellipse cx="903.9" cy="330.5" rx="5" ry="3.2" transform="rotate(-10 903.9 330.5)" fill="#d84c7c" fill-opacity="0.6"/><ellipse cx="929.8" cy="337.8" rx="5" ry="3.2" transform="rotate(41 929.8 337.8)" fill="#d84c7c" fill-opacity="0.6"/><ellipse cx="940.3" cy="362.5" rx="5" ry="3.2" transform="rotate(93 940.3 362.5)" fill="#d84c7c" fill-opacity="0.6"/><ellipse cx="927.4" cy="386.2" rx="5" ry="3.2" transform="rotate(144 927.4 386.2)" fill="#d84c7c" fill-opacity="0.6"/><ellipse cx="900.9" cy="390.8" rx="5" ry="3.2" transform="rotate(196 900.9 390.8)" fill="#d84c7c" fill-opacity="0.6"/><ellipse cx="880.7" cy="373.0" rx="5" ry="3.2" transform="rotate(247 880.7 373.0)" fill="#d84c7c" fill-opacity="0.6"/><ellipse cx="882.1" cy="346.2" rx="5" ry="3.2" transform="rotate(299 882.1 346.2)" fill="#d84c7c" fill-opacity="0.6"/><rect x="324.3" y="640.3" width="287.2" height="311.5" fill="none" stroke="#8a8a8a" stroke-width="1.2" stroke-dasharray="6,3.5"/><text x="330.0" y="661.0" font-size="21" text-anchor="start" fill="#000" font-weight="bold" >h</text><rect x="401" y="646.8" width="150" height="21.40000000000009" fill="url(#cbg3)"/><text x="408.0" y="662.0" font-size="14.5" text-anchor="start" fill="#000" font-weight="bold"  textLength="135.70000000000005" lengthAdjust="spacingAndGlyphs">Surface Potential (eV)</text><text x="367.0" y="662.0" font-size="14" text-anchor="start" fill="#e8659a" font-weight="bold"  textLength="29" lengthAdjust="spacingAndGlyphs">-3.51</text><text x="554.4" y="662.0" font-size="14" text-anchor="start" fill="#3a5cb8" font-weight="bold"  textLength="26.600000000000023" lengthAdjust="spacingAndGlyphs">0.48</text><g filter="url(#bump)"><path d="M449.7,730.0 L451.9,740.3 L446.9,749.3 L443.8,759.4 L436.8,767.0 L425.6,767.1 L417.1,769.6 L408.5,779.7 L399.3,772.3 L390.6,768.8 L377.8,770.2 L374.3,758.5 L365.7,751.6 L365.8,740.2 L363.0,730.0 L369.2,720.6 L367.6,709.4 L371.1,698.8 L380.9,693.8 L388.3,686.2 L398.3,683.3 L408.5,688.8 L418.9,682.4 L428.0,687.6 L434.6,695.8 L439.0,704.5 L451.6,708.3 L451.1,719.8Z" fill="#e28ca8"/><path d="M448.1,695.0 L446.5,697.6 L446.4,700.5 L441.5,702.4 L436.8,704.1 L432.7,706.4 L427.3,708.9 L420.0,708.9 L412.9,708.5 L407.9,705.9 L401.1,705.3 L397.8,702.7 L395.1,700.2 L393.5,697.6 L392.1,695.0 L387.8,691.8 L390.8,688.9 L394.8,686.3 L399.9,684.1 L407.9,684.1 L413.6,682.9 L420.0,681.6 L427.0,681.6 L434.1,682.3 L440.4,683.9 L441.1,687.7 L447.7,689.2 L450.5,692.0Z" fill="#e28ca8"/><path d="M392.7,740.0 L392.8,746.6 L391.2,753.0 L388.8,759.3 L383.8,763.2 L379.5,767.8 L372.7,764.2 L368.0,767.8 L362.1,770.2 L357.2,766.1 L351.6,764.0 L351.0,755.8 L346.5,752.1 L346.0,745.9 L343.7,740.0 L344.2,733.7 L348.9,729.3 L350.5,723.7 L353.8,719.3 L356.5,712.3 L362.3,711.0 L368.0,714.3 L373.7,710.8 L377.5,717.0 L383.4,717.5 L385.1,724.1 L387.0,729.3 L393.5,733.2Z" fill="#e28ca8"/><path d="M459.2,760.0 L457.9,764.9 L458.7,770.8 L454.0,773.4 L452.6,778.9 L448.4,780.9 L444.0,780.9 L440.0,784.0 L436.0,780.8 L431.5,781.3 L428.8,776.8 L425.9,773.5 L422.3,770.2 L419.0,765.8 L421.8,760.0 L421.8,755.0 L421.4,749.3 L422.7,743.4 L427.3,740.9 L431.5,738.9 L435.0,733.9 L440.0,738.6 L444.8,734.6 L448.2,739.5 L451.4,742.8 L454.2,746.4 L457.2,750.1 L461.0,754.3Z" fill="#e28ca8"/><path d="M383.4,687.0 L385.4,690.0 L384.0,692.8 L380.9,694.4 L379.3,696.8 L376.6,698.2 L373.8,699.7 L370.6,700.5 L367.8,698.1 L365.2,697.1 L361.2,697.6 L359.8,694.7 L357.2,692.8 L358.6,689.5 L356.8,687.0 L356.2,684.0 L358.8,681.9 L358.5,678.3 L361.0,676.2 L365.2,676.9 L367.8,676.1 L370.6,674.3 L374.0,673.4 L376.5,676.0 L378.7,677.8 L381.3,679.3 L381.8,682.2 L383.3,684.4Z" fill="#eceef4"/><path d="M410.6,687.0 L410.4,689.0 L408.4,690.1 L407.7,691.5 L407.5,693.8 L406.0,694.6 L404.4,695.1 L402.8,694.6 L401.2,695.0 L399.7,694.4 L398.4,693.4 L397.8,691.6 L396.6,690.4 L396.1,688.7 L395.4,687.0 L395.2,685.0 L395.8,683.2 L397.3,682.0 L398.5,680.8 L399.9,680.2 L401.4,680.1 L402.8,679.9 L404.3,679.3 L405.7,680.1 L407.0,680.9 L408.8,681.5 L409.1,683.5 L409.7,685.2Z" fill="#eceef4"/><path d="M456.6,718.0 L456.4,721.4 L455.2,724.1 L453.9,726.2 L452.4,727.6 L451.6,731.1 L449.8,731.6 L448.0,732.9 L446.3,731.2 L444.3,731.4 L443.3,728.3 L441.3,727.4 L440.4,724.4 L440.4,721.1 L439.9,718.0 L439.9,714.7 L441.3,712.4 L441.7,709.2 L442.6,706.3 L444.7,706.1 L446.1,703.4 L448.0,703.4 L449.9,703.2 L451.3,705.9 L452.5,708.1 L454.7,708.6 L455.7,711.5 L455.7,714.9Z" fill="#eceef4"/><path d="M374.4,750.0 L376.7,753.5 L372.5,755.5 L372.5,759.2 L368.4,759.9 L365.9,761.8 L363.4,765.3 L359.4,763.0 L355.7,764.1 L352.5,762.5 L349.5,760.8 L346.9,758.7 L346.0,755.6 L342.6,753.4 L345.0,750.0 L344.8,747.1 L346.6,744.6 L347.6,741.8 L349.6,739.3 L351.8,736.2 L355.9,736.7 L359.4,737.3 L362.8,737.1 L367.2,735.9 L368.3,740.2 L372.3,741.0 L373.4,744.1 L375.6,746.8Z" fill="#eceef4"/><path d="M383.9,724.0 L383.6,725.5 L382.6,726.8 L382.8,728.7 L380.4,728.8 L379.5,730.3 L378.0,731.5 L376.0,730.3 L374.2,730.9 L372.4,730.5 L371.6,728.9 L369.9,728.2 L368.4,727.2 L368.3,725.5 L367.6,724.0 L368.8,722.6 L369.2,721.2 L370.3,720.0 L371.0,718.5 L372.2,717.1 L374.2,717.0 L376.0,716.5 L377.7,717.4 L379.7,717.3 L380.5,719.1 L381.9,719.9 L383.5,720.8 L384.2,722.4Z" fill="#eceef4"/><path d="M400.3,775.0 L399.4,777.4 L398.8,779.9 L395.9,781.4 L395.1,784.2 L392.0,785.7 L388.5,786.1 L385.0,785.1 L381.6,785.8 L378.8,784.5 L376.2,783.1 L372.0,782.6 L369.9,780.3 L372.0,777.2 L368.7,775.0 L370.0,772.5 L371.9,770.4 L373.9,768.5 L375.3,766.0 L378.6,765.2 L381.5,763.8 L385.0,763.6 L388.0,765.2 L391.9,764.5 L395.4,765.4 L398.0,767.4 L398.9,770.1 L398.0,772.8Z" fill="#eceef4"/><path d="M427.8,779.0 L427.8,781.0 L427.9,783.3 L424.9,784.6 L422.7,786.0 L420.2,787.3 L416.9,787.1 L414.0,788.0 L410.8,788.0 L407.5,787.7 L406.1,785.4 L403.6,784.3 L402.6,782.5 L399.3,781.2 L399.4,779.0 L401.9,777.2 L399.9,774.6 L401.8,772.8 L404.9,771.7 L407.8,770.7 L411.1,770.9 L414.0,771.0 L417.1,770.2 L419.4,771.7 L422.1,772.5 L424.3,773.7 L425.2,775.5 L427.5,777.0Z" fill="#eceef4"/><path d="M456.9,749.0 L457.1,751.5 L456.3,754.0 L453.9,755.3 L452.1,756.6 L450.6,758.6 L448.3,759.1 L446.0,760.8 L443.4,760.2 L441.1,759.2 L439.0,757.7 L437.1,756.1 L436.9,753.4 L435.4,751.4 L435.9,749.0 L434.2,746.3 L437.1,744.7 L436.7,741.6 L439.8,741.3 L441.0,738.6 L443.6,738.7 L446.0,738.3 L448.6,737.4 L450.2,740.2 L452.1,741.3 L455.5,741.5 L455.9,744.2 L455.7,746.8Z" fill="#eceef4"/><path d="M430.4,732.0 L431.2,733.4 L430.4,734.7 L429.5,736.1 L426.8,736.3 L425.1,737.1 L423.0,737.4 L421.0,737.6 L418.6,738.2 L417.0,736.9 L414.7,736.7 L413.7,735.5 L412.4,734.5 L411.4,733.3 L410.2,732.0 L411.0,730.6 L413.0,729.7 L413.6,728.5 L415.3,727.7 L416.3,726.1 L418.6,725.7 L421.0,725.6 L423.4,725.7 L425.6,726.3 L427.9,726.8 L429.4,728.0 L429.5,729.5 L431.6,730.6Z" fill="#eceef4"/><path d="M402.2,720.0 L403.2,721.2 L402.5,722.2 L401.9,723.4 L399.7,723.7 L398.3,724.2 L396.9,725.1 L395.0,725.2 L393.3,724.6 L391.4,724.7 L390.1,723.8 L388.3,723.3 L388.5,722.0 L387.7,721.0 L386.2,720.0 L387.5,718.9 L388.2,718.0 L388.3,716.7 L389.9,716.0 L391.8,715.9 L393.2,715.1 L395.0,714.8 L396.6,715.5 L398.6,715.3 L399.5,716.4 L401.0,717.0 L401.5,718.0 L402.2,719.0Z" fill="#eceef4"/><path d="M379.1,765.0 L376.6,766.6 L377.5,768.7 L375.2,769.6 L375.0,772.0 L371.8,771.4 L370.4,773.5 L368.0,773.3 L365.6,773.5 L363.1,773.1 L362.2,770.9 L360.5,769.8 L358.5,768.6 L358.8,766.7 L358.6,765.0 L358.9,763.3 L358.2,761.2 L359.5,759.6 L361.3,758.3 L363.9,758.3 L365.5,756.4 L368.0,757.0 L370.1,757.7 L372.3,757.9 L374.1,758.9 L375.0,760.5 L377.1,761.5 L377.4,763.3Z" fill="#dfe3ee"/><path d="M355.8,735.0 L355.8,737.0 L355.3,738.8 L354.6,740.5 L353.7,741.9 L352.7,743.4 L351.3,743.3 L350.0,744.3 L348.8,742.7 L347.5,742.7 L346.4,741.8 L345.7,740.1 L344.3,739.1 L344.4,736.9 L343.6,735.0 L343.5,732.8 L344.9,731.3 L344.9,728.9 L346.0,727.4 L347.3,726.6 L348.8,727.2 L350.0,726.1 L351.4,726.0 L352.5,727.3 L353.5,728.4 L354.5,729.6 L355.1,731.3 L356.3,732.9Z" fill="#f0e4ea"/><path d="M439.0,766.0 L439.1,766.6 L439.0,767.2 L438.2,767.5 L438.0,768.1 L437.4,768.4 L436.7,768.5 L436.0,768.3 L435.4,768.2 L434.7,768.2 L434.0,768.1 L433.8,767.5 L433.3,767.1 L433.2,766.5 L432.8,766.0 L432.8,765.4 L433.4,764.9 L433.4,764.3 L434.3,764.3 L434.6,763.6 L435.3,763.3 L436.0,763.7 L436.7,763.4 L437.3,763.7 L438.1,763.8 L438.2,764.5 L438.7,764.9 L439.2,765.4Z" fill="#5a78c0"/><path d="M404.3,752.0 L404.5,752.5 L404.2,752.8 L403.8,753.2 L403.6,753.6 L403.1,753.8 L402.6,753.9 L402.0,754.0 L401.5,753.8 L401.0,753.7 L400.4,753.6 L400.1,753.2 L399.7,752.9 L399.4,752.5 L399.3,752.0 L399.3,751.5 L399.9,751.2 L400.2,750.8 L400.4,750.3 L400.9,750.2 L401.5,750.2 L402.0,749.9 L402.6,749.9 L403.2,750.1 L403.5,750.5 L403.9,750.8 L404.0,751.2 L404.7,751.5Z" fill="#5a78c0"/><path d="M457.6,733.0 L457.6,733.7 L457.3,734.3 L457.0,734.9 L456.5,735.3 L456.2,736.0 L455.5,735.8 L455.0,735.7 L454.5,735.8 L454.0,735.5 L453.5,735.2 L453.2,734.8 L453.0,734.2 L452.7,733.6 L452.6,733.0 L452.5,732.3 L452.9,731.8 L453.2,731.3 L453.6,730.8 L453.9,730.3 L454.5,730.2 L455.0,729.8 L455.6,729.9 L456.1,730.4 L456.4,730.9 L457.1,731.0 L457.4,731.6 L457.4,732.3Z" fill="#5a78c0"/><path d="M374.7,700.0 L374.5,700.5 L374.4,700.9 L374.1,701.4 L373.5,701.5 L373.1,701.9 L372.6,702.1 L372.0,702.2 L371.4,702.0 L371.0,701.7 L370.5,701.5 L369.8,701.4 L370.0,700.8 L369.7,700.4 L369.2,700.0 L369.6,699.6 L369.9,699.2 L370.1,698.8 L370.3,698.3 L371.0,698.3 L371.5,698.1 L372.0,697.9 L372.6,697.9 L373.1,698.2 L373.4,698.6 L374.0,698.7 L374.0,699.2 L374.2,699.6Z" fill="#5a78c0"/><path d="M394.8,783.0 L395.1,783.5 L394.8,783.9 L394.3,784.2 L393.7,784.5 L393.4,784.9 L392.7,785.1 L392.0,785.0 L391.3,785.0 L390.8,784.7 L390.4,784.4 L389.7,784.2 L389.2,783.9 L389.4,783.4 L388.8,783.0 L389.3,782.6 L389.5,782.2 L389.9,781.9 L389.9,781.2 L390.6,781.1 L391.3,780.9 L392.0,780.9 L392.6,781.3 L393.2,781.3 L393.9,781.4 L394.1,781.9 L395.0,782.0 L394.8,782.6Z" fill="#5a78c0"/></g><g filter="url(#bump)"><path d="M453.6,862.0 L456.6,872.2 L453.9,881.7 L449.3,889.3 L443.4,894.1 L439.9,904.4 L433.2,908.1 L426.0,906.1 L419.3,904.9 L413.8,899.1 L409.5,892.3 L403.3,888.6 L398.4,881.5 L399.8,870.8 L393.9,862.0 L398.6,852.8 L400.7,844.1 L405.1,837.6 L405.1,823.5 L412.2,820.1 L418.7,815.2 L426.0,816.8 L431.9,823.9 L438.5,824.0 L444.7,827.6 L447.3,837.1 L456.0,840.8 L454.3,852.5Z" fill="#e28ca8"/><path d="M423.5,872.0 L416.5,878.5 L413.5,884.3 L416.0,894.3 L406.4,895.1 L400.6,898.2 L395.4,904.3 L388.0,902.8 L380.2,906.1 L375.0,899.0 L365.8,899.8 L364.1,891.1 L358.5,886.2 L353.6,879.9 L354.6,872.0 L353.6,864.2 L357.7,857.4 L365.7,854.2 L366.2,844.7 L373.8,842.5 L381.2,842.2 L388.0,842.4 L395.7,838.2 L402.2,842.6 L410.0,844.4 L414.7,850.7 L420.0,856.6 L419.7,864.8Z" fill="#e28ca8"/><path d="M387.8,852.0 L387.4,856.2 L385.7,860.1 L380.7,861.5 L379.5,865.6 L375.7,867.0 L372.0,868.7 L368.0,867.5 L364.3,867.3 L360.3,867.1 L357.5,864.4 L354.1,862.5 L353.6,858.5 L352.2,855.4 L349.1,852.0 L350.8,848.3 L351.7,844.6 L353.1,840.8 L357.2,839.2 L361.0,838.3 L363.7,834.3 L368.0,834.6 L372.2,834.8 L376.0,836.2 L380.5,837.2 L381.6,841.7 L385.2,844.2 L385.0,848.3Z" fill="#eab8c8"/><path d="M377.0,882.0 L377.0,886.8 L372.8,890.0 L373.6,896.0 L368.0,896.5 L365.6,900.8 L360.8,899.6 L357.0,903.2 L353.1,899.9 L348.3,900.9 L344.5,898.5 L341.2,895.3 L340.1,890.6 L336.9,886.8 L335.8,882.0 L340.2,878.0 L339.8,873.3 L340.5,868.2 L344.5,865.5 L348.9,864.2 L353.0,863.4 L357.0,859.8 L360.8,864.4 L365.8,862.9 L369.8,865.1 L370.6,870.6 L373.4,873.7 L374.7,877.8Z" fill="#eceef4"/><path d="M412.6,866.0 L414.0,871.9 L412.7,877.3 L409.5,879.9 L408.8,886.4 L405.8,888.3 L402.6,886.8 L400.0,892.6 L397.3,888.0 L394.6,886.6 L392.0,884.4 L389.6,881.3 L389.3,875.5 L386.8,871.6 L386.0,866.0 L387.3,860.6 L387.5,854.9 L389.5,850.6 L391.3,845.8 L394.8,846.0 L397.2,843.4 L400.0,842.2 L402.6,844.8 L406.3,841.9 L408.4,846.6 L409.2,852.5 L411.9,855.4 L412.4,860.8Z" fill="#eceef4"/><path d="M452.5,882.0 L451.2,886.8 L450.7,891.3 L450.4,896.7 L448.5,898.1 L447.7,904.1 L445.9,905.8 L444.0,902.5 L442.1,905.4 L440.5,902.7 L438.8,900.6 L437.1,897.9 L436.0,893.1 L436.4,887.0 L435.3,882.0 L435.7,876.5 L436.0,870.9 L438.5,869.3 L438.5,862.1 L440.8,862.7 L442.4,861.6 L444.0,858.5 L445.9,857.8 L447.9,859.0 L448.8,864.6 L450.7,866.5 L450.4,873.1 L452.7,876.3Z" fill="#eceef4"/><path d="M438.5,895.0 L438.5,897.4 L438.3,900.1 L436.5,902.8 L429.1,903.6 L423.8,904.8 L418.2,905.9 L412.0,907.7 L405.9,905.7 L398.2,906.4 L392.6,904.7 L390.6,901.8 L384.7,900.3 L383.1,897.6 L382.6,895.0 L379.3,892.0 L387.6,890.3 L391.2,888.4 L391.3,884.6 L399.3,884.4 L405.8,884.1 L412.0,883.5 L418.5,883.7 L426.4,883.0 L429.4,886.3 L433.9,888.0 L439.6,889.7 L441.6,892.3Z" fill="#e28ca8"/><path d="M397.3,911.0 L397.1,912.0 L397.4,913.2 L395.8,913.9 L394.5,914.6 L393.4,915.5 L391.7,915.8 L390.0,915.7 L388.3,915.7 L386.2,915.9 L385.5,914.6 L384.2,913.9 L383.6,912.9 L382.7,912.0 L382.8,911.0 L381.3,909.8 L383.1,908.9 L383.0,907.5 L385.5,907.4 L386.2,906.1 L388.2,906.1 L390.0,905.8 L391.8,905.9 L393.3,906.7 L394.7,907.3 L396.5,907.7 L396.6,909.0 L396.9,910.0Z" fill="#eceef4"/><path d="M424.1,915.0 L423.4,916.2 L423.8,917.6 L421.7,918.3 L420.6,919.3 L418.8,919.8 L417.0,920.3 L415.0,921.1 L413.2,919.9 L411.1,919.9 L409.8,919.0 L408.2,918.3 L405.9,917.7 L406.6,916.2 L405.8,915.0 L406.4,913.8 L406.4,912.5 L408.1,911.6 L409.8,911.0 L411.2,910.1 L413.0,909.8 L415.0,909.1 L417.0,909.6 L418.6,910.4 L420.8,910.5 L421.7,911.7 L423.1,912.6 L423.2,913.9Z" fill="#eceef4"/><path d="M384.0,842.0 L383.7,843.3 L383.2,844.3 L383.2,845.9 L382.3,846.4 L381.6,847.1 L380.9,847.7 L380.0,848.2 L379.0,848.5 L378.3,847.4 L377.2,847.2 L376.5,846.2 L376.6,844.4 L376.5,843.2 L376.3,842.0 L375.8,840.6 L376.3,839.3 L376.6,837.9 L377.2,836.8 L378.2,836.4 L379.1,836.1 L380.0,836.6 L380.8,836.8 L381.9,836.2 L382.6,837.1 L383.3,838.0 L383.7,839.4 L384.1,840.6Z" fill="#5a78c0"/></g><path d="M377.8,804.4 H406" stroke="#999" stroke-width="1" stroke-dasharray="3,2.5"/><path d="M398,796 Q386,806 398,816" fill="none" stroke="#aaa" stroke-width="1.1"/><path d="M401,818 L394,815 L398,811 Z" fill="#aaa"/><text x="415.0" y="812.6" font-size="14" text-anchor="start" fill="#000" font-weight="normal" >90˚</text><line x1="367.8" y1="713.5" x2="387" y2="719.5" stroke="#f00" stroke-width="1.3"/><circle cx="367.8" cy="713.5" r="2.2" fill="#f00"/><text x="332.0" y="718.0" font-size="13.5" text-anchor="start" fill="#ff1a1a" font-weight="normal"  textLength="31.5" lengthAdjust="spacingAndGlyphs">Site A</text><ellipse cx="395.6" cy="721.7" rx="9.5" ry="5.2" fill="none" stroke="#f00" stroke-width="1.8"/><ellipse cx="420.6" cy="733.4" rx="11.5" ry="7" fill="none" stroke="#000" stroke-width="1.8"/><line x1="430" y1="728" x2="459.8" y2="711" stroke="#000" stroke-width="1.3"/><circle cx="459.8" cy="711" r="2.2" fill="#000"/><text x="461.6" y="711.0" font-size="13.5" text-anchor="start" fill="#000" font-weight="normal"  textLength="32" lengthAdjust="spacingAndGlyphs">Site B</text><text x="348.5" y="919.7" font-size="13.5" text-anchor="start" fill="#ff1a1a" font-weight="normal"  textLength="31" lengthAdjust="spacingAndGlyphs">Site A</text><ellipse cx="390.3" cy="912.5" rx="9.5" ry="5.5" fill="none" stroke="#f00" stroke-width="1.8"/><ellipse cx="415.2" cy="916.1" rx="10.7" ry="6" fill="none" stroke="#000" stroke-width="1.8"/><text x="433.0" y="923.2" font-size="13.5" text-anchor="start" fill="#000" font-weight="normal"  textLength="30.4" lengthAdjust="spacingAndGlyphs">Site B</text><path d="M352.0 929.3h0M359.9 929.3h0M367.8 929.3h0M375.7 929.3h0M383.5 929.3h0M391.4 929.3h0M399.3 929.3h0M407.2 929.3h0M415.1 929.3h0M423.0 929.3h0M430.8 929.3h0M438.7 929.3h0M446.6 929.3h0M454.5 929.3h0" stroke="#3a5cc8" stroke-width="3.4" stroke-linecap="round" fill="none"/><line x1="336.8" y1="932.9" x2="465.2" y2="932.9" stroke="#999" stroke-width="1.3"/><path d="M337,938 Q339,946 349,946" fill="none" stroke="#999" stroke-width="1.2"/><path d="M335.5,935 L339,941 L334,940.5 Z" fill="#999"/><text x="351.0" y="948.2" font-size="11" text-anchor="start" fill="#000" font-weight="normal"  textLength="22.5" lengthAdjust="spacingAndGlyphs">NFG</text><rect x="471.7" y="728.3" width="136.3" height="217.10000000000002" fill="none" stroke="#999" stroke-width="1.1" stroke-dasharray="5,3"/><rect x="505" y="734.8" width="72" height="13.800000000000068" fill="url(#cbg4)"/><text x="475.7" y="746.5" font-size="13" text-anchor="start" fill="#e8659a" font-weight="bold"  textLength="27.0" lengthAdjust="spacingAndGlyphs">-0.22</text><text x="579.0" y="746.5" font-size="13" text-anchor="start" fill="#3a5cb8" font-weight="bold"  textLength="23.799999999999955" lengthAdjust="spacingAndGlyphs">0.22</text><rect x="474.5" y="759.4" width="130" height="82.7" fill="none" stroke="#f22" stroke-width="1.5"/><rect x="474.5" y="850" width="130" height="91.8" fill="none" stroke="#222" stroke-width="1.5"/><g filter="url(#gloss)"><path d="M490,760.5 L579.5,760.5 L578,785 Q570,805 545,808 Q530,814 515,808 Q495,798 490,780 Z" fill="#d4668a"/><path d="M493,760.5 L575,760.5 L578,770 Q560,778 540,772 Q520,778 497,772 Z" fill="#eee4ea"/></g><g filter="url(#gloss)"><path d="M485.3,851 L590,851 L588,880 Q575,895 560,893 Q545,912 520,908 Q495,902 488,880 Z" fill="#d4668a"/><path d="M486,851 L495,851 L492,870 Z" fill="#3458a8"/><path d="M540,880 Q550,875 556,885 Q548,892 540,888 Z" fill="#eee"/></g><text x="481.2" y="829.2" font-size="12.8" text-anchor="start" fill="#ff1a1a" font-weight="normal"  textLength="101.8" lengthAdjust="spacingAndGlyphs">Site A: E/D rich site</text><text x="482.9" y="931.0" font-size="12.8" text-anchor="start" fill="#000" font-weight="normal"  textLength="101.3" lengthAdjust="spacingAndGlyphs">Site B: E/D rich site</text><rect x="937.6" y="640.3" width="286.1" height="310.80000000000007" fill="none" stroke="#8a8a8a" stroke-width="1.2" stroke-dasharray="6,3.5"/><text x="944.7" y="662.0" font-size="21" text-anchor="start" fill="#000" font-weight="bold" >j</text><rect x="1017.5" y="646.8" width="151.9000000000001" height="20.200000000000045" fill="url(#cbg5)"/><text x="1024.6" y="662.0" font-size="14.5" text-anchor="start" fill="#000" font-weight="bold"  textLength="135.60000000000014" lengthAdjust="spacingAndGlyphs">Surface Potential (eV)</text><text x="984.0" y="662.0" font-size="14" text-anchor="start" fill="#e8659a" font-weight="bold"  textLength="29" lengthAdjust="spacingAndGlyphs">-3.51</text><text x="1172.0" y="662.0" font-size="14" text-anchor="start" fill="#3a5cb8" font-weight="bold"  textLength="26" lengthAdjust="spacingAndGlyphs">0.48</text><g filter="url(#bump)"><path d="M1068.4,728.0 L1065.2,737.4 L1060.6,746.0 L1062.3,758.8 L1049.9,763.8 L1040.0,770.4 L1027.4,772.4 L1015.0,771.7 L1002.1,774.3 L990.7,769.3 L978.4,765.6 L970.3,757.1 L961.4,749.1 L962.2,737.9 L964.6,728.0 L965.9,718.8 L962.8,707.4 L975.4,702.2 L979.4,691.5 L990.4,686.3 L1004.1,688.8 L1015.0,679.9 L1025.9,689.0 L1041.0,683.9 L1052.1,689.9 L1055.1,701.9 L1067.2,707.4 L1071.6,717.4Z" fill="#e28ca8"/><path d="M1056.9,695.0 L1052.5,698.2 L1052.2,701.6 L1049.0,704.3 L1047.1,708.2 L1041.8,710.0 L1036.3,712.1 L1030.0,709.4 L1024.3,710.3 L1020.0,707.8 L1014.9,706.7 L1009.6,705.0 L1009.2,701.2 L1006.5,698.3 L1003.1,695.0 L1004.4,691.4 L1008.1,688.5 L1009.2,684.8 L1012.6,681.6 L1020.1,682.3 L1023.8,678.3 L1030.0,678.2 L1035.6,680.0 L1040.3,681.8 L1048.0,681.1 L1049.5,685.4 L1051.1,688.7 L1052.9,691.8Z" fill="#e28ca8"/><path d="M991.0,755.0 L993.4,759.2 L989.8,762.1 L988.9,766.1 L986.7,769.7 L983.4,772.4 L979.0,772.4 L975.0,773.0 L971.5,770.5 L967.3,771.0 L964.1,768.6 L959.7,767.2 L958.6,762.9 L956.4,759.3 L957.3,755.0 L958.8,751.3 L957.4,746.5 L959.8,742.9 L964.1,741.3 L967.9,740.4 L971.0,737.4 L975.0,737.0 L979.3,736.3 L983.0,738.4 L986.2,740.9 L989.3,743.6 L990.7,747.4 L990.6,751.4Z" fill="#e28ca8"/><path d="M1043.7,690.0 L1043.8,692.2 L1043.7,694.7 L1040.1,695.8 L1038.2,697.3 L1035.4,698.0 L1032.8,698.9 L1030.0,698.8 L1027.1,698.9 L1023.9,699.0 L1020.2,698.7 L1018.5,696.5 L1017.8,694.2 L1016.7,692.2 L1015.4,690.0 L1016.9,687.9 L1018.7,686.1 L1018.2,683.3 L1021.0,682.0 L1024.5,681.8 L1027.2,681.3 L1030.0,681.0 L1033.5,679.2 L1035.5,681.8 L1039.0,681.9 L1042.2,683.1 L1041.2,686.1 L1043.3,687.8Z" fill="#eceef4"/><path d="M1064.5,708.0 L1064.7,710.2 L1063.1,711.9 L1062.5,714.0 L1060.6,715.0 L1058.8,716.0 L1057.1,717.2 L1055.0,717.1 L1052.9,717.3 L1050.4,717.5 L1049.5,714.9 L1046.9,714.4 L1046.8,712.0 L1044.6,710.4 L1044.4,708.0 L1045.9,705.9 L1045.2,703.3 L1046.8,701.4 L1049.4,701.0 L1050.8,699.2 L1052.7,697.8 L1055.0,697.0 L1057.1,699.0 L1059.1,699.5 L1061.6,699.7 L1063.7,701.1 L1063.1,704.1 L1063.8,706.0Z" fill="#eceef4"/><path d="M998.1,715.0 L996.4,717.2 L996.0,719.4 L995.2,721.8 L992.0,722.3 L990.2,724.0 L987.7,724.9 L985.0,726.1 L982.6,723.7 L980.3,723.1 L977.8,722.5 L974.9,721.7 L973.3,719.7 L974.3,717.0 L971.8,715.0 L973.2,712.8 L973.0,710.2 L974.6,708.1 L978.2,707.9 L979.2,705.0 L982.3,705.3 L985.0,705.8 L987.6,705.3 L989.7,706.9 L992.9,706.7 L994.5,708.7 L994.8,711.1 L995.9,712.9Z" fill="#eceef4"/><path d="M988.5,745.0 L988.4,748.5 L987.5,751.9 L985.5,754.6 L983.8,757.5 L980.9,759.0 L977.8,758.9 L975.0,760.7 L972.2,758.8 L969.5,758.0 L966.8,756.8 L962.8,756.1 L962.4,751.9 L961.2,748.6 L959.6,745.0 L960.0,741.1 L962.2,737.9 L964.8,735.7 L966.2,732.4 L969.1,731.1 L971.5,727.7 L975.0,730.8 L978.0,729.9 L981.3,729.9 L983.9,732.2 L986.1,734.9 L988.4,737.6 L987.8,741.7Z" fill="#eceef4"/><path d="M1007.1,768.0 L1005.7,769.6 L1006.4,771.6 L1003.9,772.8 L1003.3,774.9 L999.8,774.7 L997.8,776.3 L995.0,775.4 L992.0,776.7 L989.3,775.9 L988.2,773.7 L985.3,773.2 L984.9,771.2 L983.3,769.8 L982.0,768.0 L984.3,766.4 L984.9,764.8 L986.6,763.5 L988.3,762.4 L989.8,760.8 L992.5,760.8 L995.0,760.7 L997.8,759.8 L999.9,761.2 L1002.2,762.0 L1004.0,763.2 L1006.7,764.2 L1006.1,766.3Z" fill="#eceef4"/><path d="M1042.5,752.0 L1043.4,754.2 L1041.4,755.9 L1041.6,758.6 L1038.8,759.8 L1035.4,760.0 L1032.8,760.7 L1030.0,762.6 L1027.1,760.9 L1023.6,761.5 L1021.0,760.1 L1019.0,758.2 L1016.3,756.7 L1016.0,754.3 L1015.8,752.0 L1016.7,749.8 L1018.1,747.9 L1020.0,746.3 L1021.4,744.3 L1024.1,743.3 L1026.7,741.6 L1030.0,742.6 L1033.0,742.5 L1036.7,742.0 L1039.0,744.0 L1041.4,745.5 L1043.2,747.5 L1045.0,749.6Z" fill="#eceef4"/><path d="M1070.0,738.0 L1069.4,739.7 L1069.4,741.6 L1067.9,742.7 L1067.0,744.2 L1065.9,746.0 L1063.6,745.0 L1062.0,745.6 L1060.1,746.1 L1058.9,744.5 L1057.4,743.7 L1055.3,743.4 L1054.0,741.9 L1054.5,739.7 L1054.6,738.0 L1053.3,736.0 L1055.1,734.7 L1055.6,732.9 L1056.9,731.6 L1058.4,730.6 L1060.0,729.4 L1062.0,729.1 L1063.9,729.8 L1065.7,730.2 L1067.3,731.3 L1068.5,732.8 L1069.1,734.6 L1069.3,736.3Z" fill="#eceef4"/><path d="M1017.5,719.0 L1017.8,720.8 L1016.6,722.2 L1016.7,724.4 L1014.7,724.9 L1013.5,726.3 L1012.0,727.6 L1010.0,726.8 L1008.0,727.7 L1006.3,726.6 L1005.0,725.3 L1003.6,724.1 L1002.6,722.5 L1002.5,720.7 L1001.0,719.0 L1002.4,717.3 L1002.0,715.1 L1003.2,713.6 L1005.6,713.5 L1006.7,712.2 L1008.2,711.2 L1010.0,710.4 L1011.6,711.8 L1013.6,711.6 L1014.8,712.9 L1016.7,713.7 L1017.9,715.2 L1018.3,717.1Z" fill="#eceef4"/><path d="M1027.9,733.0 L1026.0,734.6 L1026.6,736.7 L1025.2,738.0 L1024.5,739.9 L1022.4,740.0 L1021.0,741.6 L1019.0,740.3 L1017.0,741.7 L1015.6,740.1 L1014.4,738.8 L1013.0,737.8 L1011.6,736.6 L1012.1,734.6 L1011.2,733.0 L1012.1,731.4 L1012.5,729.9 L1013.2,728.4 L1014.3,727.1 L1015.7,726.2 L1017.1,724.7 L1019.0,725.2 L1020.9,724.5 L1022.8,725.1 L1024.5,726.2 L1025.9,727.5 L1026.3,729.5 L1027.1,731.1Z" fill="#eceef4"/></g><g filter="url(#bump)"><path d="M1062.9,850.0 L1062.4,859.9 L1061.3,870.5 L1049.7,876.3 L1041.6,882.9 L1034.1,891.5 L1021.8,892.8 L1010.0,892.5 L998.5,891.9 L987.9,888.0 L979.6,881.7 L967.3,878.3 L957.7,870.9 L956.0,860.2 L955.3,850.0 L960.3,840.6 L963.0,831.2 L972.1,824.9 L975.1,813.7 L988.1,812.3 L998.8,809.2 L1010.0,800.9 L1021.3,808.7 L1035.6,805.8 L1044.0,814.6 L1054.0,820.8 L1059.2,830.3 L1057.7,841.0Z" fill="#e28ca8"/><path d="M1033.1,818.0 L1027.0,821.3 L1030.1,825.7 L1022.0,827.3 L1018.5,830.4 L1014.3,833.8 L1006.4,833.1 L1000.0,834.0 L993.9,832.3 L985.5,834.0 L979.1,832.0 L978.4,827.2 L975.4,824.3 L970.9,821.5 L969.9,818.0 L968.8,814.2 L974.0,811.3 L976.0,807.8 L982.8,806.5 L987.9,804.6 L994.0,804.0 L1000.0,801.8 L1006.8,802.2 L1013.4,803.2 L1020.7,804.2 L1022.4,808.5 L1026.0,811.3 L1029.0,814.5Z" fill="#e28ca8"/><path d="M1040.5,888.0 L1043.9,892.1 L1044.2,896.7 L1035.6,898.8 L1031.4,902.2 L1024.3,903.7 L1018.0,906.6 L1010.0,906.8 L1002.3,906.0 L993.6,906.1 L987.8,902.8 L984.4,898.8 L980.2,895.6 L975.8,892.1 L974.4,888.0 L979.1,884.3 L977.1,879.6 L983.8,876.9 L987.4,873.0 L996.7,873.4 L1002.8,871.2 L1010.0,872.1 L1017.4,870.8 L1023.9,872.7 L1030.4,874.4 L1034.8,877.5 L1043.2,879.5 L1044.2,883.9Z" fill="#e28ca8"/><path d="M1021.5,902.0 L1021.8,903.3 L1021.1,904.6 L1019.7,905.7 L1018.4,906.8 L1016.3,907.4 L1014.2,907.9 L1012.0,907.6 L1010.0,907.3 L1007.9,907.1 L1005.3,907.0 L1005.1,905.3 L1003.3,904.5 L1002.4,903.3 L1001.9,902.0 L1002.4,900.7 L1002.2,899.2 L1003.4,897.9 L1005.7,897.2 L1008.0,897.0 L1009.6,895.6 L1012.0,895.5 L1014.2,896.2 L1016.6,896.2 L1018.8,896.9 L1020.7,897.9 L1020.4,899.6 L1021.1,900.8Z" fill="#e28ca8"/><path d="M1058.8,808.0 L1058.1,810.3 L1058.9,813.2 L1056.3,814.8 L1053.7,815.7 L1052.5,818.5 L1049.4,817.6 L1047.0,818.2 L1044.6,817.6 L1041.6,818.2 L1038.9,817.3 L1037.4,815.0 L1036.9,812.5 L1034.3,810.7 L1033.9,808.0 L1035.8,805.7 L1036.8,803.5 L1037.2,800.9 L1038.7,798.4 L1041.3,797.1 L1044.1,796.3 L1047.0,796.4 L1049.5,798.0 L1052.3,797.8 L1054.4,799.5 L1056.7,800.9 L1057.8,803.2 L1057.9,805.7Z" fill="#eceef4"/><path d="M994.9,822.0 L995.1,824.3 L993.8,826.2 L993.6,828.9 L990.5,828.9 L989.8,832.1 L987.3,832.2 L985.0,832.7 L982.6,832.5 L981.0,830.4 L978.3,830.4 L976.9,828.5 L976.8,826.0 L974.4,824.4 L975.1,822.0 L974.7,819.7 L976.9,818.1 L976.8,815.5 L979.5,815.1 L981.1,813.9 L983.0,813.2 L985.0,813.1 L987.3,812.0 L989.0,813.6 L990.8,814.8 L993.4,815.3 L994.6,817.4 L994.5,819.8Z" fill="#eceef4"/><path d="M983.7,860.0 L983.0,863.4 L983.7,867.5 L980.8,869.8 L978.8,872.6 L976.1,874.6 L973.0,875.0 L970.0,876.5 L966.6,877.1 L964.5,872.9 L961.1,872.7 L959.7,869.4 L956.9,867.2 L955.9,863.7 L957.5,860.0 L957.6,856.8 L957.3,853.0 L958.1,849.2 L960.6,846.6 L963.5,844.5 L967.2,845.8 L970.0,844.6 L973.2,844.1 L975.9,846.0 L978.2,848.3 L982.1,849.0 L983.0,852.8 L983.3,856.5Z" fill="#eceef4"/><path d="M1014.9,845.0 L1015.6,847.4 L1014.3,849.5 L1013.5,851.8 L1011.5,853.1 L1010.2,855.8 L1007.5,855.9 L1005.0,856.6 L1002.3,856.8 L1000.2,854.9 L998.2,853.5 L997.2,851.2 L994.4,850.1 L995.4,847.2 L994.4,845.0 L995.1,842.7 L994.5,840.0 L996.5,838.2 L998.1,836.4 L1000.2,835.0 L1002.4,833.4 L1005.0,832.7 L1007.4,834.6 L1010.2,834.2 L1012.2,836.0 L1014.0,837.8 L1016.0,839.7 L1015.0,842.7Z" fill="#eceef4"/><path d="M1041.7,862.0 L1043.5,865.3 L1043.0,868.8 L1040.0,870.6 L1039.0,874.1 L1035.5,874.4 L1033.0,876.0 L1030.0,877.4 L1027.3,874.7 L1025.0,873.2 L1022.5,872.1 L1021.0,869.8 L1018.5,868.0 L1018.5,864.8 L1018.3,862.0 L1017.9,859.0 L1018.6,856.1 L1018.9,852.5 L1022.8,852.3 L1024.2,848.9 L1026.8,847.0 L1030.0,847.2 L1032.7,849.5 L1035.2,850.4 L1037.9,851.4 L1039.0,854.3 L1043.0,855.2 L1043.5,858.7Z" fill="#eceef4"/><path d="M1066.5,850.0 L1066.6,852.2 L1065.6,854.1 L1064.9,856.2 L1062.5,856.4 L1061.5,858.3 L1059.8,858.6 L1058.0,858.5 L1056.1,859.5 L1054.7,857.8 L1052.4,857.8 L1052.0,855.4 L1050.7,854.0 L1049.7,852.1 L1049.5,850.0 L1051.1,848.2 L1050.4,845.9 L1052.3,844.9 L1053.2,843.2 L1054.9,842.7 L1056.2,841.0 L1058.0,841.7 L1059.6,841.9 L1061.5,841.8 L1062.9,843.1 L1064.3,844.3 L1065.2,846.1 L1066.2,847.9Z" fill="#eceef4"/><path d="M1002.5,885.0 L1000.6,886.8 L999.9,888.6 L999.6,890.8 L997.2,891.7 L995.7,893.9 L992.9,894.4 L990.0,894.8 L987.4,893.6 L984.4,893.7 L982.4,892.1 L979.9,891.1 L979.7,888.7 L978.2,887.0 L978.2,885.0 L978.5,883.0 L979.5,881.2 L980.8,879.5 L983.2,878.6 L985.2,877.6 L987.5,876.6 L990.0,875.6 L992.8,875.9 L995.5,876.4 L997.9,877.6 L1000.1,879.0 L999.8,881.5 L1001.4,883.1Z" fill="#eceef4"/><path d="M1053.2,890.0 L1051.1,892.1 L1050.7,894.3 L1048.6,895.7 L1048.4,898.7 L1044.8,898.3 L1042.8,900.2 L1040.0,900.2 L1037.2,900.3 L1034.9,898.8 L1032.7,897.6 L1030.8,896.1 L1030.3,893.9 L1028.8,892.1 L1028.6,890.0 L1027.5,887.6 L1029.3,885.7 L1031.5,884.4 L1033.4,883.1 L1035.0,881.3 L1037.0,879.1 L1040.0,881.1 L1042.6,880.4 L1045.5,880.4 L1046.8,882.9 L1050.1,883.3 L1051.8,885.3 L1052.6,887.6Z" fill="#eceef4"/><path d="M1017.7,903.0 L1018.0,904.1 L1016.4,904.9 L1017.0,906.5 L1015.4,907.2 L1013.9,908.0 L1011.7,907.6 L1010.0,907.6 L1008.4,907.4 L1006.8,907.2 L1005.6,906.5 L1003.5,906.3 L1003.0,905.1 L1001.6,904.2 L1001.5,903.0 L1002.5,901.9 L1003.4,901.0 L1004.0,900.0 L1005.6,899.5 L1006.4,898.3 L1008.4,898.5 L1010.0,898.4 L1011.9,897.7 L1013.4,898.6 L1015.5,898.7 L1017.0,899.5 L1017.5,900.7 L1017.3,902.0Z" fill="#eceef4"/></g><path d="M992,788 H1020" stroke="#999" stroke-width="1" stroke-dasharray="3,2.5"/><path d="M1013,780 Q1001,790 1013,800" fill="none" stroke="#aaa" stroke-width="1.1"/><path d="M1016,802 L1009,799 L1013,795 Z" fill="#aaa"/><text x="1031.0" y="796.6" font-size="14" text-anchor="start" fill="#000" font-weight="normal" >90˚</text><line x1="971" y1="710" x2="1003" y2="716" stroke="#f00" stroke-width="1.3"/><circle cx="971" cy="710" r="2.2" fill="#f00"/><text x="939.0" y="709.2" font-size="13.5" text-anchor="start" fill="#ff1a1a" font-weight="normal"  textLength="31.4" lengthAdjust="spacingAndGlyphs">Site A</text><circle cx="1009.6" cy="717" r="9" fill="none" stroke="#f00" stroke-width="1.8"/><circle cx="1018.5" cy="732.4" r="9.5" fill="none" stroke="#000" stroke-width="1.8"/><line x1="1027" y1="728" x2="1070" y2="710" stroke="#000" stroke-width="1.3"/><circle cx="1070" cy="710" r="2.2" fill="#000"/><text x="1075.6" y="712.8" font-size="13.5" text-anchor="start" fill="#000" font-weight="normal"  textLength="32" lengthAdjust="spacingAndGlyphs">Site B</text><text x="966.8" y="918.0" font-size="13.5" text-anchor="start" fill="#ff1a1a" font-weight="normal"  textLength="32.2" lengthAdjust="spacingAndGlyphs">Site A</text><ellipse cx="1009.6" cy="908.3" rx="10" ry="7" fill="none" stroke="#f00" stroke-width="1.8"/><ellipse cx="1007" cy="907" rx="7" ry="5" fill="none" stroke="#000" stroke-width="1.3"/><text x="1027.5" y="923.2" font-size="13.5" text-anchor="start" fill="#000" font-weight="normal"  textLength="32" lengthAdjust="spacingAndGlyphs">Site B</text><path d="M966.8 929.3h0M974.6 929.3h0M982.4 929.3h0M990.3 929.3h0M998.1 929.3h0M1005.9 929.3h0M1013.7 929.3h0M1021.6 929.3h0M1029.4 929.3h0M1037.2 929.3h0M1045.0 929.3h0M1052.9 929.3h0M1060.7 929.3h0M1068.5 929.3h0" stroke="#e879b0" stroke-width="3.4" stroke-linecap="round" fill="none"/><line x1="952.5" y1="932.2" x2="1077.4" y2="932.2" stroke="#999" stroke-width="1.3"/><path d="M953,937 Q955,945 966,945" fill="none" stroke="#999" stroke-width="1.2"/><path d="M951.5,934 L955,940 L950,939.5 Z" fill="#999"/><text x="970.4" y="946.4" font-size="11" text-anchor="start" fill="#000" font-weight="normal"  textLength="21.4" lengthAdjust="spacingAndGlyphs">SFG</text><rect x="1081.5" y="748.3" width="137.20000000000005" height="196.30000000000007" fill="none" stroke="#999" stroke-width="1.1" stroke-dasharray="5,3"/><rect x="1116" y="754.1" width="72.20000000000005" height="13.799999999999955" fill="url(#cbg6)"/><text x="1085.9" y="765.8" font-size="13" text-anchor="start" fill="#e8659a" font-weight="bold"  textLength="27.09999999999991" lengthAdjust="spacingAndGlyphs">-0.22</text><text x="1189.3" y="765.8" font-size="13" text-anchor="start" fill="#3a5cb8" font-weight="bold"  textLength="23.90000000000009" lengthAdjust="spacingAndGlyphs">0.22</text><rect x="1083.7" y="777" width="132.8" height="78" fill="none" stroke="#f22" stroke-width="1.5"/><rect x="1083.7" y="864" width="132.8" height="76.7" fill="none" stroke="#222" stroke-width="1.5"/><g filter="url(#gloss)"><path d="M1101,778 L1205.6,778 L1205,800 Q1195,812 1170,815 Q1150,832 1125,826 Q1105,815 1101,800 Z" fill="#3458a8"/><path d="M1160,778 L1205.6,778 L1205,795 Q1185,790 1165,785 Z" fill="#d07c96"/><path d="M1150,815 Q1180,812 1200,800 L1200,810 Q1185,822 1160,825 Z" fill="#d8dce8"/></g><g filter="url(#gloss)"><path d="M1095.7,865 L1200,865 L1199,890 Q1185,896 1165,897 Q1150,910 1125,906 Q1100,900 1096,890 Z" fill="#3458a8"/><path d="M1100,865 L1198,865 L1195,880 Q1160,873 1100,878 Z" fill="#d4809a"/><path d="M1105,880 Q1150,876 1190,885 L1180,893 Q1140,892 1110,890 Z" fill="#e6e8f0"/></g><text x="1093.5" y="845.6" font-size="12.8" text-anchor="start" fill="#ff1a1a" font-weight="normal"  textLength="113.2" lengthAdjust="spacingAndGlyphs">Site A: R/K/H rich site</text><text x="1091.3" y="933.3" font-size="12.8" text-anchor="start" fill="#000" font-weight="normal"  textLength="114.3" lengthAdjust="spacingAndGlyphs">Site B: R/K/H rich site</text>
</svg></body></html>
